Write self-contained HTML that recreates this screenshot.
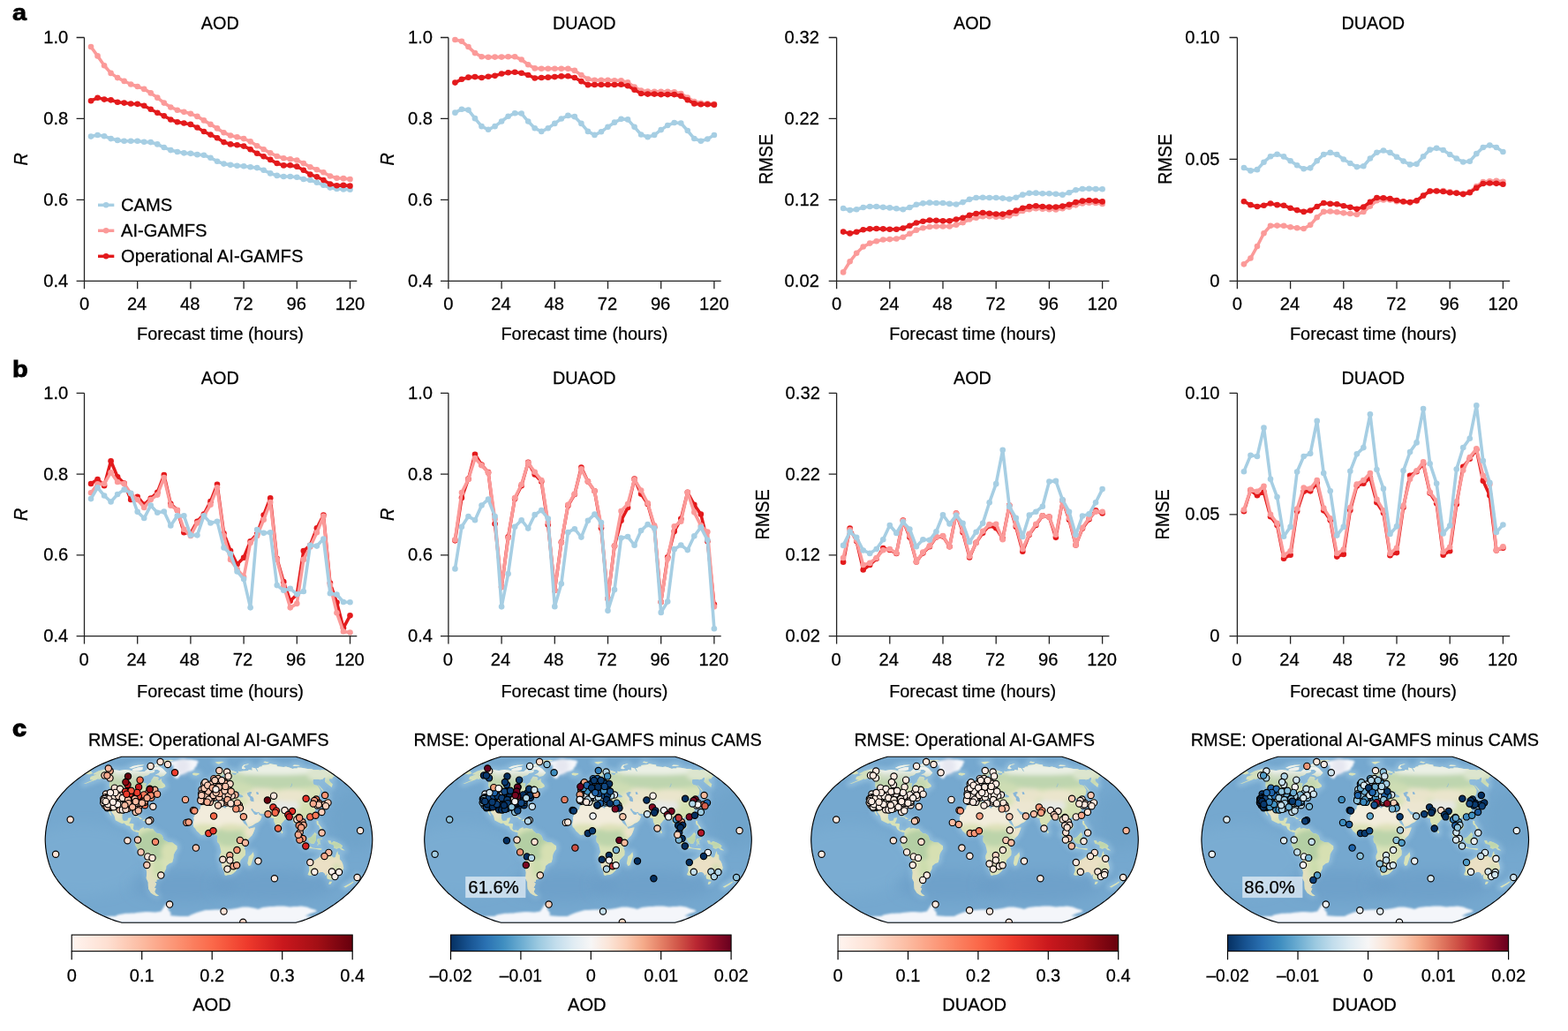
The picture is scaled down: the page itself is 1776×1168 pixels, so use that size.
<!DOCTYPE html>
<html lang="en"><head><meta charset="utf-8"><title>Forecast skill of AI-GAMFS versus CAMS</title>
<style>html,body{margin:0;padding:0;background:#fff}body{width:1776px;height:1168px;overflow:hidden}svg{display:block}text{font-family:'Liberation Sans', Arial, Helvetica, sans-serif;font-size:20.3px;fill:#000;stroke:#000;stroke-width:0.25px}</style></head><body>
<svg width="1776" height="1168" viewBox="0 0 1776 1168">
<rect width="1776" height="1168" fill="#fff"/>
<defs><clipPath id="globe"><path d="M98.6 -94L102.1 -93L106 -91.8L110.4 -90.2L115.1 -88.3L120 -86.2L124.7 -84L129.1 -81.7L133.2 -79.3L137 -76.8L140.8 -74.3L144.4 -71.7L148 -69.1L151.4 -66.4L154.7 -63.6L157.9 -60.9L160.8 -58.1L163.5 -55.2L166.1 -52.4L168.5 -49.5L170.8 -46.6L172.8 -43.7L174.7 -40.8L176.4 -37.9L177.9 -35L179.2 -32.1L180.3 -29.1L181.2 -26.2L182 -23.3L182.8 -20.4L183.4 -17.5L184 -14.6L184.4 -11.7L184.8 -8.7L185 -5.8L185.2 -2.9L185.3 0L185.2 2.9L185 5.8L184.8 8.7L184.4 11.7L184 14.6L183.4 17.5L182.8 20.4L182 23.3L181.2 26.2L180.3 29.1L179.2 32.1L177.9 35L176.4 37.9L174.7 40.8L172.8 43.7L170.8 46.6L168.5 49.5L166.1 52.4L163.5 55.2L160.8 58.1L157.9 60.9L154.7 63.6L151.4 66.4L148 69.1L144.4 71.7L140.8 74.3L137 76.8L133.2 79.3L129.1 81.7L124.7 84L120 86.2L115.1 88.3L110.4 90.2L106 91.8L102.1 93L98.6 94L-98.6 94L-102.1 93L-106 91.8L-110.4 90.2L-115.1 88.3L-120 86.2L-124.7 84L-129.1 81.7L-133.2 79.3L-137 76.8L-140.8 74.3L-144.4 71.7L-148 69.1L-151.4 66.4L-154.7 63.6L-157.9 60.9L-160.8 58.1L-163.5 55.2L-166.1 52.4L-168.5 49.5L-170.8 46.6L-172.8 43.7L-174.7 40.8L-176.4 37.9L-177.9 35L-179.2 32.1L-180.3 29.1L-181.2 26.2L-182 23.3L-182.8 20.4L-183.4 17.5L-184 14.6L-184.4 11.7L-184.8 8.7L-185 5.8L-185.2 2.9L-185.3 0L-185.2 -2.9L-185 -5.8L-184.8 -8.7L-184.4 -11.7L-184 -14.6L-183.4 -17.5L-182.8 -20.4L-182 -23.3L-181.2 -26.2L-180.3 -29.1L-179.2 -32.1L-177.9 -35L-176.4 -37.9L-174.7 -40.8L-172.8 -43.7L-170.8 -46.6L-168.5 -49.5L-166.1 -52.4L-163.5 -55.2L-160.8 -58.1L-157.9 -60.9L-154.7 -63.6L-151.4 -66.4L-148 -69.1L-144.4 -71.7L-140.8 -74.3L-137 -76.8L-133.2 -79.3L-129.1 -81.7L-124.7 -84L-120 -86.2L-115.1 -88.3L-110.4 -90.2L-106 -91.8L-102.1 -93L-98.6 -94Z"/></clipPath><clipPath id="landclip"><path d="M-130.7 -74.8L-125 -77.8L-118.7 -79.6L-114 -80.5L-110.3 -79.8L-107.6 -79.3L-104.8 -78.9L-101 -78.3L-94.7 -79.3L-90 -78.8L-86.6 -77.8L-81.8 -77.3L-76.6 -77.1L-72.7 -77.3L-68.3 -80.7L-67.7 -78.3L-66.2 -77.8L-63.3 -78.8L-61 -78.8L-62 -76.3L-66.5 -75.3L-68.8 -73.3L-72.3 -72.2L-75.4 -70.6L-78.6 -67.7L-78.2 -65.8L-74.8 -65.1L-72.9 -64L-70.5 -63.6L-71.9 -60.9L-70.3 -59.7L-68.2 -63.1L-65.3 -65.3L-65 -67.4L-62.2 -71.6L-58.9 -71.2L-56.6 -70.1L-57.8 -67.8L-56 -67.2L-53.4 -69.1L-53.6 -66.9L-52.4 -64.7L-49.8 -62.5L-49 -60.3L-52.6 -58.3L-58.9 -58.3L-63.6 -55.2L-59.4 -56.9L-58.1 -56.7L-59.2 -54.7L-55.9 -53.5L-58.7 -51.9L-61.4 -50.6L-61.8 -52.4L-65.1 -50.9L-66.4 -48.9L-70 -47.3L-72.3 -44.3L-73.8 -40.8L-76 -39.5L-79.7 -36.7L-79.7 -31.5L-80.5 -29.4L-81.7 -30.3L-82.3 -32.6L-83 -35L-86.9 -35.3L-89.2 -34L-92.8 -34.6L-96.4 -32.6L-98.1 -28L-98.1 -24.5L-97 -21.9L-95.3 -21.3L-92.2 -21.9L-91.3 -24.5L-87.7 -25.1L-89 -21L-90.3 -18.6L-85.5 -18.4L-84.9 -17.4L-85.7 -12.8L-84.3 -10.5L-81.5 -11.1L-79.3 -10.1L-79.6 -8.2L-82.1 -8.5L-83.6 -9.3L-85.2 -9.7L-87.8 -11.7L-89.4 -15.2L-93.4 -16.3L-95.9 -18.9L-98.3 -18.3L-101.6 -19.8L-105.8 -22.1L-106.4 -25.1L-107 -27.4L-109.4 -30.3L-111.4 -34.4L-112.7 -37L-113.2 -35L-112.2 -32.1L-110.4 -28L-110.1 -26.8L-112.2 -29.1L-113.8 -32.6L-114.5 -35.6L-114.8 -38.1L-117.2 -40.2L-117.4 -43.1L-117.5 -47L-116 -50.1L-113.4 -54.1L-112.6 -56.2L-110.7 -56.9L-111.3 -58.6L-112.7 -60.3L-112.6 -63.1L-112.4 -65.8L-113.8 -67.4L-115.3 -68.8L-118.4 -69.1L-121.1 -69.6L-125.4 -68.3L-124.4 -69.9L-128.1 -67.7L-133.5 -65.8L-139.3 -63.6L-141.8 -63.3L-134.6 -66.4L-131.1 -67.7L-134.4 -68L-134.6 -69.6L-133.9 -71.2L-131.1 -72.4L-126.6 -73.8L-130.5 -74.1ZM-56.5 -82.8L-54.3 -82L-51.9 -80.3L-50.1 -78.3L-47.7 -75.8L-51.1 -72.2L-55.1 -71.5L-57 -73.1L-60.7 -73.6L-56.9 -75.3L-55.1 -77.5L-57.7 -79.3L-62.9 -79.3L-64.7 -80.7L-60.7 -82.8ZM-85.5 -80.3L-78.4 -82.2L-74.8 -82.2L-75.1 -79.3L-78.9 -78L-82 -77.9L-85.1 -77.8L-87.1 -79.1ZM-61 -85.3L-58.3 -85.3L-55.7 -85.2L-53 -85.2L-49.1 -87.5L-44.2 -88.7L-39.6 -89.8L-42.6 -90.5L-45.8 -90.3L-49 -90.2L-52.3 -90L-57.9 -89.1L-57.1 -87.1ZM-90.2 -81.2L-86.1 -83.4L-80.5 -84.5L-75.1 -84.9L-72.9 -84.5L-78.4 -83.4L-82.7 -82.2L-87.2 -80.7ZM-66.5 -84L-64.2 -83.5L-60.7 -83.5L-57.2 -83.5L-55 -84.5L-57.3 -84.9L-59.6 -85.3L-62.3 -85.3L-65 -85.3ZM-79.3 -10.1L-77.3 -12.5L-73.6 -14.2L-73.2 -12.6L-69.6 -13.4L-65.6 -12.2L-63.5 -12.5L-61.6 -9.9L-58.6 -7L-55.5 -6.8L-53 -5L-51.5 -1.7L-51.5 0L-49.4 1.2L-45.8 2.9L-41.2 3.3L-38 5.6L-36 7L-35.9 10.5L-38.4 14L-39.8 16.9L-40.1 21L-41.3 25.6L-44.7 27L-48 29.7L-48.4 33L-51 37.9L-52.1 39.6L-54.9 40.6L-55.5 42.5L-55 44.5L-59.1 45.4L-59 47.8L-61.3 47.8L-59.3 49.8L-60.4 52.4L-61.7 54.1L-59.8 55.2L-61.4 58.6L-60.1 60.9L-56.4 63.4L-59.2 64L-62.4 62.5L-65.6 60.3L-68.4 55.8L-68.7 51.2L-68.7 48.3L-70.8 43.7L-70.2 37.3L-70.9 33.8L-70.4 29.1L-71.1 22.1L-73.2 19.8L-77.6 16.3L-79.3 13.4L-81.6 8.7L-83.6 5.6L-82.3 2.9L-83.2 1.2L-82.3 -1.2L-80.8 -2.9L-79.5 -4.7L-79.6 -8.2ZM-17.8 -17.1L-16.7 -22.7L-17.1 -25.1L-14.5 -30.3L-11.9 -32.6L-9.6 -35L-9.3 -37.9L-6.3 -40L-5.6 -41.7L-1.9 -41L1 -42.5L4.8 -42.9L9.6 -43.5L10.6 -42.9L9.9 -40L10.7 -38.8L14.7 -37.6L18.8 -35.3L19.7 -36.7L21.5 -38.2L24.6 -37L28.6 -36.1L31.5 -36.5L33.7 -36.5L34.4 -34.4L34.1 -32.6L32.7 -33.6L32.1 -34.7L33.9 -31.5L35.6 -28L37.3 -24.5L37.8 -21.9L39.7 -18.6L41.8 -16.7L44.2 -14.6L45.6 -12.2L48.1 -13.1L52.4 -14L52.2 -12.2L50.3 -7.6L48.9 -4.7L45.8 -1.7L42.7 2.1L41.1 4.1L40.1 7L40.5 10.5L41.5 12.8L41.3 17.5L38.6 20.2L35.9 23.1L35.1 28L32.8 30.1L32.3 33.2L30 36.1L27.4 38.5L24.8 39.6L21.4 40L19.4 40.6L17.8 39.6L17.7 37.3L16.4 33.5L15 30.9L14.6 26.2L12.2 21L12.2 18.1L14 14L13.3 10.5L12.5 7L11.8 4.7L9.8 2.6L9.3 -0.6L10 -4.1L9 -5.2L6.2 -5L4.6 -7.3L1 -6.8L-2.1 -5.6L-4.6 -6.1L-7.7 -5.1L-9.3 -5.8L-11.8 -8.2L-13.6 -9.9L-15.4 -12.8L-17.2 -14.6ZM50.4 14L51.2 18.1L50.2 21L47.6 28.9L45.2 29.7L43.8 26.8L44.5 23.3L45.3 18.9L47.9 16.9ZM-8.7 -43.1L-9.1 -45.1L-8.3 -48.3L-8.6 -50.3L-4.7 -50.6L-1.7 -50.5L-1.1 -53.5L-2.5 -55.2L-4.2 -56.1L-1.4 -56.6L-1.5 -57.7L0.2 -57.5L1.4 -59L3.1 -59.6L4.1 -61.4L6.1 -62L7.5 -62.5L7 -65.3L8.8 -66.6L8.8 -64.2L10.4 -62.9L12.3 -62.5L15.9 -63.3L18 -64L17.9 -65.8L20.4 -66.4L19.4 -68.3L23.1 -68.7L24.7 -69.1L21.3 -69.5L18.5 -69.1L17.3 -70.1L17.2 -72.2L19.6 -74.3L18.6 -75.1L17.1 -74.8L16.7 -73.6L14 -71.7L14 -70.1L15.5 -69.1L13.9 -66.4L13.6 -64.9L12.2 -64.2L11 -64.2L9.3 -67.4L8.7 -68.5L6.7 -66.9L4.8 -67.7L4.1 -70.1L5.6 -71.9L8.3 -73.3L10.7 -76.3L12 -77.8L14.1 -79.1L16.9 -79.8L20.5 -80.3L22.9 -79.3L25.4 -78.6L31.2 -76.8L31.2 -75.6L26.9 -75.8L25.3 -76.1L27.1 -73.8L29.6 -73.3L31.4 -74L31.3 -75.3L33.9 -75.6L33.2 -77.6L35.2 -77.3L39.9 -77.8L41.4 -77.8L44.9 -78.3L45.1 -79.3L49.3 -78.5L49 -80.3L49.1 -81.7L52.9 -80.9L54.6 -77.8L56.3 -76.8L54.1 -81.2L56.2 -81.4L57.3 -82.6L60.8 -83.1L60 -84.3L62.5 -84.6L64.9 -84.9L67.7 -85.3L69.4 -86.4L72.3 -85.5L77.1 -84.9L77.3 -83.1L79.8 -82.8L84.8 -82.2L87.5 -82.8L91.1 -81.7L95 -80.3L96.6 -80.7L100.2 -80.7L100.4 -81.7L105 -81.5L109 -80.7L111.8 -80.3L116.5 -80.1L118.8 -79L124 -79L128 -78.3L126.5 -79.3L132.8 -78.6L134.7 -78.3L140.8 -74.3L139.9 -73.8L142.4 -71.7L140.2 -70.6L139.8 -69.1L136.5 -69.1L136.5 -66.9L138.1 -64.7L140.3 -63.1L139.8 -61.4L139.3 -59.2L135.2 -62.5L131.4 -65.8L131.9 -68L132.1 -70.6L130.3 -70.1L128.9 -68.5L126.1 -68L123.1 -68.5L118.3 -68.3L117.8 -66.4L118.2 -63.6L119.4 -62.3L123.2 -61.4L124.6 -59.2L126.4 -56.4L126.3 -53.9L125.8 -51.2L124.3 -49.8L122.2 -49.5L122.2 -47.8L121.3 -46L124.4 -43.1L125.1 -41L123 -40.2L121.6 -42.9L119.7 -44.3L118.8 -46.3L116.3 -45.4L114.9 -47.4L112.5 -45.4L113.6 -44.1L116.2 -43.7L117.9 -43.1L116.1 -41.7L115.9 -40.6L118.6 -37.9L120.4 -35.6L120.6 -33.2L119.6 -29.7L117.6 -27.4L114.8 -26L111.5 -24.8L109.4 -25.3L107.2 -23.3L107.2 -21.9L108.7 -19.8L111.1 -17.5L111.8 -14L109.6 -12.2L107.7 -10.1L107.4 -11.9L104.8 -14L103.2 -15.2L102.1 -15.5L101.7 -12.2L102.9 -9.3L104.8 -7L106.4 -4.7L107.3 -1.6L106.3 -1.7L104.2 -3.3L103.1 -6.4L100.9 -9.7L101 -12.8L99.5 -18.1L98.6 -19.8L97.2 -18.6L96 -18.6L95.8 -21.6L92.9 -24.5L92.1 -26.5L89.7 -25.6L87.7 -25.1L87.5 -23.3L86 -22.7L83.6 -19.8L81.8 -18.1L81.9 -15.2L81.8 -12L80 -9.9L79.3 -9.3L77.8 -12.2L76 -16.3L74.1 -20.4L73.5 -24.5L71.7 -24.2L69.5 -26L68.8 -27.4L67.1 -28.9L64.6 -29.4L61.6 -29.4L58 -29.7L56.8 -31.5L54.4 -31.1L51.2 -32.6L49.4 -35.2L47.9 -35L47.5 -34.2L50.1 -30.9L51.6 -28.6L52.7 -28.2L54.7 -28.3L56.2 -30.5L56.7 -28.6L60.1 -26.2L58.4 -22.1L55.9 -19.8L52.9 -18.6L49.7 -16.3L46 -14.9L44.3 -14.8L43.5 -17.5L41.6 -21.6L39.3 -24.8L37.4 -28.6L34.8 -32.6L34.4 -34.4L33.7 -36.5L34.2 -38.5L34.9 -41.4L34.7 -42.8L31.9 -42.2L29.4 -42.5L27 -42.8L25.3 -44.9L24.9 -46.6L27.4 -47.8L30 -48.9L32.9 -48.9L35.9 -47.8L39.1 -48.3L38.3 -50.1L34.1 -52.4L35.1 -54.7L32 -53.9L31 -51.9L29.3 -54.1L27.5 -53.5L26.4 -51.2L26.3 -48.9L27.3 -48L24.8 -47.5L22.3 -47L23 -44.3L22.2 -42.5L20.7 -43.1L20 -45.4L18.5 -47.2L18.3 -48.9L14.9 -50.6L12.7 -52.9L11.3 -52.7L11.6 -51.2L13.1 -49.5L15 -48.7L17.5 -46.8L16.1 -47.2L15.7 -46L15.8 -44.6L15 -44.3L15.2 -46.3L13.7 -47.4L11.6 -48.6L9.8 -50.1L8.1 -51.7L7 -51L4.5 -50.5L3 -49.8L3 -48.7L0.8 -47.5L-0.3 -46L-0.5 -44.6L-2.1 -42.9L-4.3 -42.8L-5.3 -42L-6.3 -43.1ZM-134.7 -78.3L-133.2 -77.3L-131.5 -75.3L-135.6 -73.8L-137.6 -74.3L-140.8 -74.3ZM-4.9 -58.1L-2.7 -58.8L1.2 -59.4L1.5 -61.1L0 -62L-1.3 -63.6L-1.7 -64.7L-1.7 -66.6L-3.4 -66.6L-2.5 -67.7L-4.2 -67.6L-5.1 -65.8L-4.3 -63.6L-2.6 -63.4L-2.6 -61.7L-3.9 -61.4L-4 -60.3L-4.6 -60L-2.7 -59.5ZM-8.8 -60L-5.5 -60.5L-5.2 -62.5L-5.1 -63.8L-6.9 -64L-8.7 -62.5ZM-18.7 -74.8L-17 -75.7L-13.9 -75.5L-11.2 -75.3L-10.6 -74.3L-14.3 -72.6L-17.8 -73.2ZM7.1 -87.9L10.2 -88.3L14 -88.5L17.3 -88.3L13.9 -86.7L11.5 -85.5L9.3 -86.2ZM37.6 -80.3L40.3 -80L41.8 -80.7L39.3 -82.6L41.3 -84.5L43.6 -85L45.8 -85.6L43.7 -85.8L39.6 -84.9L38 -83.1L37.5 -81.2ZM61.8 -87.5L63.4 -88.7L68.3 -87.5L66.1 -86.7ZM94.9 -84L96.9 -84.9L100.2 -84.6L103.5 -84.3L101.2 -83.5L96.6 -83.4ZM127.9 -36.5L128.4 -39L129.6 -39.6L132.3 -39L133.1 -40.4L135.9 -40.8L135.7 -43.1L134.9 -46L133.1 -48.1L132.1 -47.8L133.3 -45.4L133.1 -43.5L131.4 -43.1L131.6 -41.6L128.8 -41.4L127.5 -40L126.9 -38.5ZM131.8 -48.3L132 -49.5L134.7 -48.9L135.6 -50.4L134.1 -51.2L130.6 -52.9L131.9 -50.4L130.9 -49.7ZM130.2 -53.5L129.1 -56.9L125.9 -60.3L123.5 -62.5L125 -60.3L127.7 -56.9ZM120.9 -26.8L121.1 -29.4L122.2 -29.1L121.9 -25.6ZM110 -22.5L111.7 -23.3L112.3 -22.7L111.1 -21.2ZM82 -11.3L84 -8.7L83.2 -7L82.2 -7.2L81.9 -9.3ZM122.1 -21.6L123.9 -21.3L124.2 -18.6L126.7 -15.2L128.5 -12.8L128.1 -11.7L126 -11.7L124.5 -16.1L122.9 -16.9L122.1 -18.6ZM125.3 -8.2L126.7 -10.1L128.6 -11.3L129.9 -8.7L129 -7L127.4 -7.6ZM97.9 -6.5L100.2 -6.1L103.4 -2.6L106.5 1.2L109.1 3.5L108.7 6.8L107.4 6.8L104.9 4.7L103.2 1.2L101.4 -2ZM108 7.9L109.4 7L111.4 7.8L114 7.6L116 8.2L117.5 9.1L121.1 9.7L126.2 9.7L128.2 10.5L127.1 11.7L122 10.8L117.3 10L113.9 9.7L110.9 9.1ZM112.2 -1.7L114.2 -2L116.3 -3.5L118.2 -5.8L120.2 -8.2L122.3 -6.1L121.2 -4.1L121.5 -1.2L120.9 1.2L119.3 4.1L117.8 4.7L114.7 3.8L113.2 1.7L112.2 0ZM122.8 6.4L123.8 3.5L122.5 1.2L123.5 -1.2L126.6 -1.2L128.6 -1.7L127.6 -0.3L124.6 -0.6L125.1 1.2L126.9 1.2L125.5 2.3L126.5 5.2L125.4 5.2L124.5 3.5L123.8 6.4ZM134.8 0.9L137.9 0.9L138.9 3.8L141.5 1.7L145.1 3L149.1 5L151.6 7L150.3 9.3L154.2 12.2L150.6 11.7L147.8 9.1L144.6 10.5L141.6 9.3L141.8 6.4L138.8 5L136.8 4.7L135.8 3.3ZM114.9 25.6L113.4 30.3L113.7 35L112 39.6L114.5 40.8L120.3 39.6L123.6 37.6L126.8 36.8L129.3 36.7L131.5 38.5L132 40.8L134.5 38.5L133.6 41.4L134.1 44.3L137 45.2L139.7 45.4L144.2 43.5L147.1 39.6L150.7 36.1L152.8 32.1L151.7 27.4L150.4 24.5L148.4 22.1L148.3 17.5L146.4 16.3L145.9 12.8L144.6 15.2L143.3 19.8L141.6 20.4L138.5 18.1L139.6 14L135.6 13.4L132.9 14.6L132 17.5L129.6 16.3L126.1 19.2L123.8 21L120.3 23.3L117.1 24.2ZM136.7 47.5L139.8 47.5L138.2 50.1L135.8 50.8L136.1 48.9ZM167.9 40.2L168.4 42.3L169 43.7L171 43.9L168.3 46L165.2 48.3L165.8 46.6L165.5 45.8L167.4 44.3L168.2 42ZM163.4 47.2L164 48.3L160.8 50.6L157.8 52.4L154.9 54.2L152.7 53.5L155.6 51.6L160.3 49.3ZM-85.6 -25.6L-82.4 -27L-79.5 -26.2L-75.7 -24.1L-75 -23.5L-78.4 -23.2L-78.7 -25.1L-82.6 -26ZM-75.4 -21.6L-73.3 -23.1L-70.3 -22.7L-69.3 -21.6L-72 -21Z"/></clipPath><filter id="b1" x="-10%" y="-10%" width="120%" height="120%"><feGaussianBlur stdDeviation="0.55"/></filter><filter id="b2" x="-10%" y="-10%" width="120%" height="120%"><feGaussianBlur stdDeviation="1.1"/></filter><filter id="b3" x="-20%" y="-20%" width="140%" height="140%"><feGaussianBlur stdDeviation="2.6"/></filter><filter id="b6" x="-30%" y="-30%" width="160%" height="160%"><feGaussianBlur stdDeviation="7"/></filter><radialGradient id="sea" cx="50%" cy="50%" r="60%"><stop offset="0" stop-color="#78abd1"/><stop offset="1" stop-color="#6fa3cb"/></radialGradient><g id="basemap"><path d="M98.6 -94L102.1 -93L106 -91.8L110.4 -90.2L115.1 -88.3L120 -86.2L124.7 -84L129.1 -81.7L133.2 -79.3L137 -76.8L140.8 -74.3L144.4 -71.7L148 -69.1L151.4 -66.4L154.7 -63.6L157.9 -60.9L160.8 -58.1L163.5 -55.2L166.1 -52.4L168.5 -49.5L170.8 -46.6L172.8 -43.7L174.7 -40.8L176.4 -37.9L177.9 -35L179.2 -32.1L180.3 -29.1L181.2 -26.2L182 -23.3L182.8 -20.4L183.4 -17.5L184 -14.6L184.4 -11.7L184.8 -8.7L185 -5.8L185.2 -2.9L185.3 0L185.2 2.9L185 5.8L184.8 8.7L184.4 11.7L184 14.6L183.4 17.5L182.8 20.4L182 23.3L181.2 26.2L180.3 29.1L179.2 32.1L177.9 35L176.4 37.9L174.7 40.8L172.8 43.7L170.8 46.6L168.5 49.5L166.1 52.4L163.5 55.2L160.8 58.1L157.9 60.9L154.7 63.6L151.4 66.4L148 69.1L144.4 71.7L140.8 74.3L137 76.8L133.2 79.3L129.1 81.7L124.7 84L120 86.2L115.1 88.3L110.4 90.2L106 91.8L102.1 93L98.6 94L-98.6 94L-102.1 93L-106 91.8L-110.4 90.2L-115.1 88.3L-120 86.2L-124.7 84L-129.1 81.7L-133.2 79.3L-137 76.8L-140.8 74.3L-144.4 71.7L-148 69.1L-151.4 66.4L-154.7 63.6L-157.9 60.9L-160.8 58.1L-163.5 55.2L-166.1 52.4L-168.5 49.5L-170.8 46.6L-172.8 43.7L-174.7 40.8L-176.4 37.9L-177.9 35L-179.2 32.1L-180.3 29.1L-181.2 26.2L-182 23.3L-182.8 20.4L-183.4 17.5L-184 14.6L-184.4 11.7L-184.8 8.7L-185 5.8L-185.2 2.9L-185.3 0L-185.2 -2.9L-185 -5.8L-184.8 -8.7L-184.4 -11.7L-184 -14.6L-183.4 -17.5L-182.8 -20.4L-182 -23.3L-181.2 -26.2L-180.3 -29.1L-179.2 -32.1L-177.9 -35L-176.4 -37.9L-174.7 -40.8L-172.8 -43.7L-170.8 -46.6L-168.5 -49.5L-166.1 -52.4L-163.5 -55.2L-160.8 -58.1L-157.9 -60.9L-154.7 -63.6L-151.4 -66.4L-148 -69.1L-144.4 -71.7L-140.8 -74.3L-137 -76.8L-133.2 -79.3L-129.1 -81.7L-124.7 -84L-120 -86.2L-115.1 -88.3L-110.4 -90.2L-106 -91.8L-102.1 -93L-98.6 -94Z" fill="#75a8cf"/><g clip-path="url(#globe)"><path d="M-130.7 -74.8L-125 -77.8L-118.7 -79.6L-114 -80.5L-110.3 -79.8L-107.6 -79.3L-104.8 -78.9L-101 -78.3L-94.7 -79.3L-90 -78.8L-86.6 -77.8L-81.8 -77.3L-76.6 -77.1L-72.7 -77.3L-68.3 -80.7L-67.7 -78.3L-66.2 -77.8L-63.3 -78.8L-61 -78.8L-62 -76.3L-66.5 -75.3L-68.8 -73.3L-72.3 -72.2L-75.4 -70.6L-78.6 -67.7L-78.2 -65.8L-74.8 -65.1L-72.9 -64L-70.5 -63.6L-71.9 -60.9L-70.3 -59.7L-68.2 -63.1L-65.3 -65.3L-65 -67.4L-62.2 -71.6L-58.9 -71.2L-56.6 -70.1L-57.8 -67.8L-56 -67.2L-53.4 -69.1L-53.6 -66.9L-52.4 -64.7L-49.8 -62.5L-49 -60.3L-52.6 -58.3L-58.9 -58.3L-63.6 -55.2L-59.4 -56.9L-58.1 -56.7L-59.2 -54.7L-55.9 -53.5L-58.7 -51.9L-61.4 -50.6L-61.8 -52.4L-65.1 -50.9L-66.4 -48.9L-70 -47.3L-72.3 -44.3L-73.8 -40.8L-76 -39.5L-79.7 -36.7L-79.7 -31.5L-80.5 -29.4L-81.7 -30.3L-82.3 -32.6L-83 -35L-86.9 -35.3L-89.2 -34L-92.8 -34.6L-96.4 -32.6L-98.1 -28L-98.1 -24.5L-97 -21.9L-95.3 -21.3L-92.2 -21.9L-91.3 -24.5L-87.7 -25.1L-89 -21L-90.3 -18.6L-85.5 -18.4L-84.9 -17.4L-85.7 -12.8L-84.3 -10.5L-81.5 -11.1L-79.3 -10.1L-79.6 -8.2L-82.1 -8.5L-83.6 -9.3L-85.2 -9.7L-87.8 -11.7L-89.4 -15.2L-93.4 -16.3L-95.9 -18.9L-98.3 -18.3L-101.6 -19.8L-105.8 -22.1L-106.4 -25.1L-107 -27.4L-109.4 -30.3L-111.4 -34.4L-112.7 -37L-113.2 -35L-112.2 -32.1L-110.4 -28L-110.1 -26.8L-112.2 -29.1L-113.8 -32.6L-114.5 -35.6L-114.8 -38.1L-117.2 -40.2L-117.4 -43.1L-117.5 -47L-116 -50.1L-113.4 -54.1L-112.6 -56.2L-110.7 -56.9L-111.3 -58.6L-112.7 -60.3L-112.6 -63.1L-112.4 -65.8L-113.8 -67.4L-115.3 -68.8L-118.4 -69.1L-121.1 -69.6L-125.4 -68.3L-124.4 -69.9L-128.1 -67.7L-133.5 -65.8L-139.3 -63.6L-141.8 -63.3L-134.6 -66.4L-131.1 -67.7L-134.4 -68L-134.6 -69.6L-133.9 -71.2L-131.1 -72.4L-126.6 -73.8L-130.5 -74.1ZM-56.5 -82.8L-54.3 -82L-51.9 -80.3L-50.1 -78.3L-47.7 -75.8L-51.1 -72.2L-55.1 -71.5L-57 -73.1L-60.7 -73.6L-56.9 -75.3L-55.1 -77.5L-57.7 -79.3L-62.9 -79.3L-64.7 -80.7L-60.7 -82.8ZM-85.5 -80.3L-78.4 -82.2L-74.8 -82.2L-75.1 -79.3L-78.9 -78L-82 -77.9L-85.1 -77.8L-87.1 -79.1ZM-61 -85.3L-58.3 -85.3L-55.7 -85.2L-53 -85.2L-49.1 -87.5L-44.2 -88.7L-39.6 -89.8L-42.6 -90.5L-45.8 -90.3L-49 -90.2L-52.3 -90L-57.9 -89.1L-57.1 -87.1ZM-90.2 -81.2L-86.1 -83.4L-80.5 -84.5L-75.1 -84.9L-72.9 -84.5L-78.4 -83.4L-82.7 -82.2L-87.2 -80.7ZM-66.5 -84L-64.2 -83.5L-60.7 -83.5L-57.2 -83.5L-55 -84.5L-57.3 -84.9L-59.6 -85.3L-62.3 -85.3L-65 -85.3ZM-79.3 -10.1L-77.3 -12.5L-73.6 -14.2L-73.2 -12.6L-69.6 -13.4L-65.6 -12.2L-63.5 -12.5L-61.6 -9.9L-58.6 -7L-55.5 -6.8L-53 -5L-51.5 -1.7L-51.5 0L-49.4 1.2L-45.8 2.9L-41.2 3.3L-38 5.6L-36 7L-35.9 10.5L-38.4 14L-39.8 16.9L-40.1 21L-41.3 25.6L-44.7 27L-48 29.7L-48.4 33L-51 37.9L-52.1 39.6L-54.9 40.6L-55.5 42.5L-55 44.5L-59.1 45.4L-59 47.8L-61.3 47.8L-59.3 49.8L-60.4 52.4L-61.7 54.1L-59.8 55.2L-61.4 58.6L-60.1 60.9L-56.4 63.4L-59.2 64L-62.4 62.5L-65.6 60.3L-68.4 55.8L-68.7 51.2L-68.7 48.3L-70.8 43.7L-70.2 37.3L-70.9 33.8L-70.4 29.1L-71.1 22.1L-73.2 19.8L-77.6 16.3L-79.3 13.4L-81.6 8.7L-83.6 5.6L-82.3 2.9L-83.2 1.2L-82.3 -1.2L-80.8 -2.9L-79.5 -4.7L-79.6 -8.2ZM-17.8 -17.1L-16.7 -22.7L-17.1 -25.1L-14.5 -30.3L-11.9 -32.6L-9.6 -35L-9.3 -37.9L-6.3 -40L-5.6 -41.7L-1.9 -41L1 -42.5L4.8 -42.9L9.6 -43.5L10.6 -42.9L9.9 -40L10.7 -38.8L14.7 -37.6L18.8 -35.3L19.7 -36.7L21.5 -38.2L24.6 -37L28.6 -36.1L31.5 -36.5L33.7 -36.5L34.4 -34.4L34.1 -32.6L32.7 -33.6L32.1 -34.7L33.9 -31.5L35.6 -28L37.3 -24.5L37.8 -21.9L39.7 -18.6L41.8 -16.7L44.2 -14.6L45.6 -12.2L48.1 -13.1L52.4 -14L52.2 -12.2L50.3 -7.6L48.9 -4.7L45.8 -1.7L42.7 2.1L41.1 4.1L40.1 7L40.5 10.5L41.5 12.8L41.3 17.5L38.6 20.2L35.9 23.1L35.1 28L32.8 30.1L32.3 33.2L30 36.1L27.4 38.5L24.8 39.6L21.4 40L19.4 40.6L17.8 39.6L17.7 37.3L16.4 33.5L15 30.9L14.6 26.2L12.2 21L12.2 18.1L14 14L13.3 10.5L12.5 7L11.8 4.7L9.8 2.6L9.3 -0.6L10 -4.1L9 -5.2L6.2 -5L4.6 -7.3L1 -6.8L-2.1 -5.6L-4.6 -6.1L-7.7 -5.1L-9.3 -5.8L-11.8 -8.2L-13.6 -9.9L-15.4 -12.8L-17.2 -14.6ZM50.4 14L51.2 18.1L50.2 21L47.6 28.9L45.2 29.7L43.8 26.8L44.5 23.3L45.3 18.9L47.9 16.9ZM-8.7 -43.1L-9.1 -45.1L-8.3 -48.3L-8.6 -50.3L-4.7 -50.6L-1.7 -50.5L-1.1 -53.5L-2.5 -55.2L-4.2 -56.1L-1.4 -56.6L-1.5 -57.7L0.2 -57.5L1.4 -59L3.1 -59.6L4.1 -61.4L6.1 -62L7.5 -62.5L7 -65.3L8.8 -66.6L8.8 -64.2L10.4 -62.9L12.3 -62.5L15.9 -63.3L18 -64L17.9 -65.8L20.4 -66.4L19.4 -68.3L23.1 -68.7L24.7 -69.1L21.3 -69.5L18.5 -69.1L17.3 -70.1L17.2 -72.2L19.6 -74.3L18.6 -75.1L17.1 -74.8L16.7 -73.6L14 -71.7L14 -70.1L15.5 -69.1L13.9 -66.4L13.6 -64.9L12.2 -64.2L11 -64.2L9.3 -67.4L8.7 -68.5L6.7 -66.9L4.8 -67.7L4.1 -70.1L5.6 -71.9L8.3 -73.3L10.7 -76.3L12 -77.8L14.1 -79.1L16.9 -79.8L20.5 -80.3L22.9 -79.3L25.4 -78.6L31.2 -76.8L31.2 -75.6L26.9 -75.8L25.3 -76.1L27.1 -73.8L29.6 -73.3L31.4 -74L31.3 -75.3L33.9 -75.6L33.2 -77.6L35.2 -77.3L39.9 -77.8L41.4 -77.8L44.9 -78.3L45.1 -79.3L49.3 -78.5L49 -80.3L49.1 -81.7L52.9 -80.9L54.6 -77.8L56.3 -76.8L54.1 -81.2L56.2 -81.4L57.3 -82.6L60.8 -83.1L60 -84.3L62.5 -84.6L64.9 -84.9L67.7 -85.3L69.4 -86.4L72.3 -85.5L77.1 -84.9L77.3 -83.1L79.8 -82.8L84.8 -82.2L87.5 -82.8L91.1 -81.7L95 -80.3L96.6 -80.7L100.2 -80.7L100.4 -81.7L105 -81.5L109 -80.7L111.8 -80.3L116.5 -80.1L118.8 -79L124 -79L128 -78.3L126.5 -79.3L132.8 -78.6L134.7 -78.3L140.8 -74.3L139.9 -73.8L142.4 -71.7L140.2 -70.6L139.8 -69.1L136.5 -69.1L136.5 -66.9L138.1 -64.7L140.3 -63.1L139.8 -61.4L139.3 -59.2L135.2 -62.5L131.4 -65.8L131.9 -68L132.1 -70.6L130.3 -70.1L128.9 -68.5L126.1 -68L123.1 -68.5L118.3 -68.3L117.8 -66.4L118.2 -63.6L119.4 -62.3L123.2 -61.4L124.6 -59.2L126.4 -56.4L126.3 -53.9L125.8 -51.2L124.3 -49.8L122.2 -49.5L122.2 -47.8L121.3 -46L124.4 -43.1L125.1 -41L123 -40.2L121.6 -42.9L119.7 -44.3L118.8 -46.3L116.3 -45.4L114.9 -47.4L112.5 -45.4L113.6 -44.1L116.2 -43.7L117.9 -43.1L116.1 -41.7L115.9 -40.6L118.6 -37.9L120.4 -35.6L120.6 -33.2L119.6 -29.7L117.6 -27.4L114.8 -26L111.5 -24.8L109.4 -25.3L107.2 -23.3L107.2 -21.9L108.7 -19.8L111.1 -17.5L111.8 -14L109.6 -12.2L107.7 -10.1L107.4 -11.9L104.8 -14L103.2 -15.2L102.1 -15.5L101.7 -12.2L102.9 -9.3L104.8 -7L106.4 -4.7L107.3 -1.6L106.3 -1.7L104.2 -3.3L103.1 -6.4L100.9 -9.7L101 -12.8L99.5 -18.1L98.6 -19.8L97.2 -18.6L96 -18.6L95.8 -21.6L92.9 -24.5L92.1 -26.5L89.7 -25.6L87.7 -25.1L87.5 -23.3L86 -22.7L83.6 -19.8L81.8 -18.1L81.9 -15.2L81.8 -12L80 -9.9L79.3 -9.3L77.8 -12.2L76 -16.3L74.1 -20.4L73.5 -24.5L71.7 -24.2L69.5 -26L68.8 -27.4L67.1 -28.9L64.6 -29.4L61.6 -29.4L58 -29.7L56.8 -31.5L54.4 -31.1L51.2 -32.6L49.4 -35.2L47.9 -35L47.5 -34.2L50.1 -30.9L51.6 -28.6L52.7 -28.2L54.7 -28.3L56.2 -30.5L56.7 -28.6L60.1 -26.2L58.4 -22.1L55.9 -19.8L52.9 -18.6L49.7 -16.3L46 -14.9L44.3 -14.8L43.5 -17.5L41.6 -21.6L39.3 -24.8L37.4 -28.6L34.8 -32.6L34.4 -34.4L33.7 -36.5L34.2 -38.5L34.9 -41.4L34.7 -42.8L31.9 -42.2L29.4 -42.5L27 -42.8L25.3 -44.9L24.9 -46.6L27.4 -47.8L30 -48.9L32.9 -48.9L35.9 -47.8L39.1 -48.3L38.3 -50.1L34.1 -52.4L35.1 -54.7L32 -53.9L31 -51.9L29.3 -54.1L27.5 -53.5L26.4 -51.2L26.3 -48.9L27.3 -48L24.8 -47.5L22.3 -47L23 -44.3L22.2 -42.5L20.7 -43.1L20 -45.4L18.5 -47.2L18.3 -48.9L14.9 -50.6L12.7 -52.9L11.3 -52.7L11.6 -51.2L13.1 -49.5L15 -48.7L17.5 -46.8L16.1 -47.2L15.7 -46L15.8 -44.6L15 -44.3L15.2 -46.3L13.7 -47.4L11.6 -48.6L9.8 -50.1L8.1 -51.7L7 -51L4.5 -50.5L3 -49.8L3 -48.7L0.8 -47.5L-0.3 -46L-0.5 -44.6L-2.1 -42.9L-4.3 -42.8L-5.3 -42L-6.3 -43.1ZM-134.7 -78.3L-133.2 -77.3L-131.5 -75.3L-135.6 -73.8L-137.6 -74.3L-140.8 -74.3ZM-4.9 -58.1L-2.7 -58.8L1.2 -59.4L1.5 -61.1L0 -62L-1.3 -63.6L-1.7 -64.7L-1.7 -66.6L-3.4 -66.6L-2.5 -67.7L-4.2 -67.6L-5.1 -65.8L-4.3 -63.6L-2.6 -63.4L-2.6 -61.7L-3.9 -61.4L-4 -60.3L-4.6 -60L-2.7 -59.5ZM-8.8 -60L-5.5 -60.5L-5.2 -62.5L-5.1 -63.8L-6.9 -64L-8.7 -62.5ZM-18.7 -74.8L-17 -75.7L-13.9 -75.5L-11.2 -75.3L-10.6 -74.3L-14.3 -72.6L-17.8 -73.2ZM7.1 -87.9L10.2 -88.3L14 -88.5L17.3 -88.3L13.9 -86.7L11.5 -85.5L9.3 -86.2ZM37.6 -80.3L40.3 -80L41.8 -80.7L39.3 -82.6L41.3 -84.5L43.6 -85L45.8 -85.6L43.7 -85.8L39.6 -84.9L38 -83.1L37.5 -81.2ZM61.8 -87.5L63.4 -88.7L68.3 -87.5L66.1 -86.7ZM94.9 -84L96.9 -84.9L100.2 -84.6L103.5 -84.3L101.2 -83.5L96.6 -83.4ZM127.9 -36.5L128.4 -39L129.6 -39.6L132.3 -39L133.1 -40.4L135.9 -40.8L135.7 -43.1L134.9 -46L133.1 -48.1L132.1 -47.8L133.3 -45.4L133.1 -43.5L131.4 -43.1L131.6 -41.6L128.8 -41.4L127.5 -40L126.9 -38.5ZM131.8 -48.3L132 -49.5L134.7 -48.9L135.6 -50.4L134.1 -51.2L130.6 -52.9L131.9 -50.4L130.9 -49.7ZM130.2 -53.5L129.1 -56.9L125.9 -60.3L123.5 -62.5L125 -60.3L127.7 -56.9ZM120.9 -26.8L121.1 -29.4L122.2 -29.1L121.9 -25.6ZM110 -22.5L111.7 -23.3L112.3 -22.7L111.1 -21.2ZM82 -11.3L84 -8.7L83.2 -7L82.2 -7.2L81.9 -9.3ZM122.1 -21.6L123.9 -21.3L124.2 -18.6L126.7 -15.2L128.5 -12.8L128.1 -11.7L126 -11.7L124.5 -16.1L122.9 -16.9L122.1 -18.6ZM125.3 -8.2L126.7 -10.1L128.6 -11.3L129.9 -8.7L129 -7L127.4 -7.6ZM97.9 -6.5L100.2 -6.1L103.4 -2.6L106.5 1.2L109.1 3.5L108.7 6.8L107.4 6.8L104.9 4.7L103.2 1.2L101.4 -2ZM108 7.9L109.4 7L111.4 7.8L114 7.6L116 8.2L117.5 9.1L121.1 9.7L126.2 9.7L128.2 10.5L127.1 11.7L122 10.8L117.3 10L113.9 9.7L110.9 9.1ZM112.2 -1.7L114.2 -2L116.3 -3.5L118.2 -5.8L120.2 -8.2L122.3 -6.1L121.2 -4.1L121.5 -1.2L120.9 1.2L119.3 4.1L117.8 4.7L114.7 3.8L113.2 1.7L112.2 0ZM122.8 6.4L123.8 3.5L122.5 1.2L123.5 -1.2L126.6 -1.2L128.6 -1.7L127.6 -0.3L124.6 -0.6L125.1 1.2L126.9 1.2L125.5 2.3L126.5 5.2L125.4 5.2L124.5 3.5L123.8 6.4ZM134.8 0.9L137.9 0.9L138.9 3.8L141.5 1.7L145.1 3L149.1 5L151.6 7L150.3 9.3L154.2 12.2L150.6 11.7L147.8 9.1L144.6 10.5L141.6 9.3L141.8 6.4L138.8 5L136.8 4.7L135.8 3.3ZM114.9 25.6L113.4 30.3L113.7 35L112 39.6L114.5 40.8L120.3 39.6L123.6 37.6L126.8 36.8L129.3 36.7L131.5 38.5L132 40.8L134.5 38.5L133.6 41.4L134.1 44.3L137 45.2L139.7 45.4L144.2 43.5L147.1 39.6L150.7 36.1L152.8 32.1L151.7 27.4L150.4 24.5L148.4 22.1L148.3 17.5L146.4 16.3L145.9 12.8L144.6 15.2L143.3 19.8L141.6 20.4L138.5 18.1L139.6 14L135.6 13.4L132.9 14.6L132 17.5L129.6 16.3L126.1 19.2L123.8 21L120.3 23.3L117.1 24.2ZM136.7 47.5L139.8 47.5L138.2 50.1L135.8 50.8L136.1 48.9ZM167.9 40.2L168.4 42.3L169 43.7L171 43.9L168.3 46L165.2 48.3L165.8 46.6L165.5 45.8L167.4 44.3L168.2 42ZM163.4 47.2L164 48.3L160.8 50.6L157.8 52.4L154.9 54.2L152.7 53.5L155.6 51.6L160.3 49.3ZM-85.6 -25.6L-82.4 -27L-79.5 -26.2L-75.7 -24.1L-75 -23.5L-78.4 -23.2L-78.7 -25.1L-82.6 -26ZM-75.4 -21.6L-73.3 -23.1L-70.3 -22.7L-69.3 -21.6L-72 -21Z" fill="#98c3e0" stroke="#98c3e0" stroke-width="7" stroke-linejoin="round" filter="url(#b3)" opacity="0.7"/><ellipse cx="-141.6" cy="23.3" rx="70" ry="40" fill="#7fb2d6" fill-opacity="0.5" filter="url(#b6)"/><ellipse cx="-27.7" cy="52.4" rx="60" ry="18" fill="#6a9dc6" fill-opacity="0.6" filter="url(#b6)"/><ellipse cx="73.8" cy="52.4" rx="70" ry="18" fill="#6a9dc6" fill-opacity="0.6" filter="url(#b6)"/><ellipse cx="166.8" cy="-23.3" rx="30" ry="35" fill="#6c9fc8" fill-opacity="0.5" filter="url(#b6)"/><g filter="url(#b1)"><path d="M-130.7 -74.8L-125 -77.8L-118.7 -79.6L-114 -80.5L-110.3 -79.8L-107.6 -79.3L-104.8 -78.9L-101 -78.3L-94.7 -79.3L-90 -78.8L-86.6 -77.8L-81.8 -77.3L-76.6 -77.1L-72.7 -77.3L-68.3 -80.7L-67.7 -78.3L-66.2 -77.8L-63.3 -78.8L-61 -78.8L-62 -76.3L-66.5 -75.3L-68.8 -73.3L-72.3 -72.2L-75.4 -70.6L-78.6 -67.7L-78.2 -65.8L-74.8 -65.1L-72.9 -64L-70.5 -63.6L-71.9 -60.9L-70.3 -59.7L-68.2 -63.1L-65.3 -65.3L-65 -67.4L-62.2 -71.6L-58.9 -71.2L-56.6 -70.1L-57.8 -67.8L-56 -67.2L-53.4 -69.1L-53.6 -66.9L-52.4 -64.7L-49.8 -62.5L-49 -60.3L-52.6 -58.3L-58.9 -58.3L-63.6 -55.2L-59.4 -56.9L-58.1 -56.7L-59.2 -54.7L-55.9 -53.5L-58.7 -51.9L-61.4 -50.6L-61.8 -52.4L-65.1 -50.9L-66.4 -48.9L-70 -47.3L-72.3 -44.3L-73.8 -40.8L-76 -39.5L-79.7 -36.7L-79.7 -31.5L-80.5 -29.4L-81.7 -30.3L-82.3 -32.6L-83 -35L-86.9 -35.3L-89.2 -34L-92.8 -34.6L-96.4 -32.6L-98.1 -28L-98.1 -24.5L-97 -21.9L-95.3 -21.3L-92.2 -21.9L-91.3 -24.5L-87.7 -25.1L-89 -21L-90.3 -18.6L-85.5 -18.4L-84.9 -17.4L-85.7 -12.8L-84.3 -10.5L-81.5 -11.1L-79.3 -10.1L-79.6 -8.2L-82.1 -8.5L-83.6 -9.3L-85.2 -9.7L-87.8 -11.7L-89.4 -15.2L-93.4 -16.3L-95.9 -18.9L-98.3 -18.3L-101.6 -19.8L-105.8 -22.1L-106.4 -25.1L-107 -27.4L-109.4 -30.3L-111.4 -34.4L-112.7 -37L-113.2 -35L-112.2 -32.1L-110.4 -28L-110.1 -26.8L-112.2 -29.1L-113.8 -32.6L-114.5 -35.6L-114.8 -38.1L-117.2 -40.2L-117.4 -43.1L-117.5 -47L-116 -50.1L-113.4 -54.1L-112.6 -56.2L-110.7 -56.9L-111.3 -58.6L-112.7 -60.3L-112.6 -63.1L-112.4 -65.8L-113.8 -67.4L-115.3 -68.8L-118.4 -69.1L-121.1 -69.6L-125.4 -68.3L-124.4 -69.9L-128.1 -67.7L-133.5 -65.8L-139.3 -63.6L-141.8 -63.3L-134.6 -66.4L-131.1 -67.7L-134.4 -68L-134.6 -69.6L-133.9 -71.2L-131.1 -72.4L-126.6 -73.8L-130.5 -74.1ZM-56.5 -82.8L-54.3 -82L-51.9 -80.3L-50.1 -78.3L-47.7 -75.8L-51.1 -72.2L-55.1 -71.5L-57 -73.1L-60.7 -73.6L-56.9 -75.3L-55.1 -77.5L-57.7 -79.3L-62.9 -79.3L-64.7 -80.7L-60.7 -82.8ZM-85.5 -80.3L-78.4 -82.2L-74.8 -82.2L-75.1 -79.3L-78.9 -78L-82 -77.9L-85.1 -77.8L-87.1 -79.1ZM-61 -85.3L-58.3 -85.3L-55.7 -85.2L-53 -85.2L-49.1 -87.5L-44.2 -88.7L-39.6 -89.8L-42.6 -90.5L-45.8 -90.3L-49 -90.2L-52.3 -90L-57.9 -89.1L-57.1 -87.1ZM-90.2 -81.2L-86.1 -83.4L-80.5 -84.5L-75.1 -84.9L-72.9 -84.5L-78.4 -83.4L-82.7 -82.2L-87.2 -80.7ZM-66.5 -84L-64.2 -83.5L-60.7 -83.5L-57.2 -83.5L-55 -84.5L-57.3 -84.9L-59.6 -85.3L-62.3 -85.3L-65 -85.3ZM-79.3 -10.1L-77.3 -12.5L-73.6 -14.2L-73.2 -12.6L-69.6 -13.4L-65.6 -12.2L-63.5 -12.5L-61.6 -9.9L-58.6 -7L-55.5 -6.8L-53 -5L-51.5 -1.7L-51.5 0L-49.4 1.2L-45.8 2.9L-41.2 3.3L-38 5.6L-36 7L-35.9 10.5L-38.4 14L-39.8 16.9L-40.1 21L-41.3 25.6L-44.7 27L-48 29.7L-48.4 33L-51 37.9L-52.1 39.6L-54.9 40.6L-55.5 42.5L-55 44.5L-59.1 45.4L-59 47.8L-61.3 47.8L-59.3 49.8L-60.4 52.4L-61.7 54.1L-59.8 55.2L-61.4 58.6L-60.1 60.9L-56.4 63.4L-59.2 64L-62.4 62.5L-65.6 60.3L-68.4 55.8L-68.7 51.2L-68.7 48.3L-70.8 43.7L-70.2 37.3L-70.9 33.8L-70.4 29.1L-71.1 22.1L-73.2 19.8L-77.6 16.3L-79.3 13.4L-81.6 8.7L-83.6 5.6L-82.3 2.9L-83.2 1.2L-82.3 -1.2L-80.8 -2.9L-79.5 -4.7L-79.6 -8.2ZM-17.8 -17.1L-16.7 -22.7L-17.1 -25.1L-14.5 -30.3L-11.9 -32.6L-9.6 -35L-9.3 -37.9L-6.3 -40L-5.6 -41.7L-1.9 -41L1 -42.5L4.8 -42.9L9.6 -43.5L10.6 -42.9L9.9 -40L10.7 -38.8L14.7 -37.6L18.8 -35.3L19.7 -36.7L21.5 -38.2L24.6 -37L28.6 -36.1L31.5 -36.5L33.7 -36.5L34.4 -34.4L34.1 -32.6L32.7 -33.6L32.1 -34.7L33.9 -31.5L35.6 -28L37.3 -24.5L37.8 -21.9L39.7 -18.6L41.8 -16.7L44.2 -14.6L45.6 -12.2L48.1 -13.1L52.4 -14L52.2 -12.2L50.3 -7.6L48.9 -4.7L45.8 -1.7L42.7 2.1L41.1 4.1L40.1 7L40.5 10.5L41.5 12.8L41.3 17.5L38.6 20.2L35.9 23.1L35.1 28L32.8 30.1L32.3 33.2L30 36.1L27.4 38.5L24.8 39.6L21.4 40L19.4 40.6L17.8 39.6L17.7 37.3L16.4 33.5L15 30.9L14.6 26.2L12.2 21L12.2 18.1L14 14L13.3 10.5L12.5 7L11.8 4.7L9.8 2.6L9.3 -0.6L10 -4.1L9 -5.2L6.2 -5L4.6 -7.3L1 -6.8L-2.1 -5.6L-4.6 -6.1L-7.7 -5.1L-9.3 -5.8L-11.8 -8.2L-13.6 -9.9L-15.4 -12.8L-17.2 -14.6ZM50.4 14L51.2 18.1L50.2 21L47.6 28.9L45.2 29.7L43.8 26.8L44.5 23.3L45.3 18.9L47.9 16.9ZM-8.7 -43.1L-9.1 -45.1L-8.3 -48.3L-8.6 -50.3L-4.7 -50.6L-1.7 -50.5L-1.1 -53.5L-2.5 -55.2L-4.2 -56.1L-1.4 -56.6L-1.5 -57.7L0.2 -57.5L1.4 -59L3.1 -59.6L4.1 -61.4L6.1 -62L7.5 -62.5L7 -65.3L8.8 -66.6L8.8 -64.2L10.4 -62.9L12.3 -62.5L15.9 -63.3L18 -64L17.9 -65.8L20.4 -66.4L19.4 -68.3L23.1 -68.7L24.7 -69.1L21.3 -69.5L18.5 -69.1L17.3 -70.1L17.2 -72.2L19.6 -74.3L18.6 -75.1L17.1 -74.8L16.7 -73.6L14 -71.7L14 -70.1L15.5 -69.1L13.9 -66.4L13.6 -64.9L12.2 -64.2L11 -64.2L9.3 -67.4L8.7 -68.5L6.7 -66.9L4.8 -67.7L4.1 -70.1L5.6 -71.9L8.3 -73.3L10.7 -76.3L12 -77.8L14.1 -79.1L16.9 -79.8L20.5 -80.3L22.9 -79.3L25.4 -78.6L31.2 -76.8L31.2 -75.6L26.9 -75.8L25.3 -76.1L27.1 -73.8L29.6 -73.3L31.4 -74L31.3 -75.3L33.9 -75.6L33.2 -77.6L35.2 -77.3L39.9 -77.8L41.4 -77.8L44.9 -78.3L45.1 -79.3L49.3 -78.5L49 -80.3L49.1 -81.7L52.9 -80.9L54.6 -77.8L56.3 -76.8L54.1 -81.2L56.2 -81.4L57.3 -82.6L60.8 -83.1L60 -84.3L62.5 -84.6L64.9 -84.9L67.7 -85.3L69.4 -86.4L72.3 -85.5L77.1 -84.9L77.3 -83.1L79.8 -82.8L84.8 -82.2L87.5 -82.8L91.1 -81.7L95 -80.3L96.6 -80.7L100.2 -80.7L100.4 -81.7L105 -81.5L109 -80.7L111.8 -80.3L116.5 -80.1L118.8 -79L124 -79L128 -78.3L126.5 -79.3L132.8 -78.6L134.7 -78.3L140.8 -74.3L139.9 -73.8L142.4 -71.7L140.2 -70.6L139.8 -69.1L136.5 -69.1L136.5 -66.9L138.1 -64.7L140.3 -63.1L139.8 -61.4L139.3 -59.2L135.2 -62.5L131.4 -65.8L131.9 -68L132.1 -70.6L130.3 -70.1L128.9 -68.5L126.1 -68L123.1 -68.5L118.3 -68.3L117.8 -66.4L118.2 -63.6L119.4 -62.3L123.2 -61.4L124.6 -59.2L126.4 -56.4L126.3 -53.9L125.8 -51.2L124.3 -49.8L122.2 -49.5L122.2 -47.8L121.3 -46L124.4 -43.1L125.1 -41L123 -40.2L121.6 -42.9L119.7 -44.3L118.8 -46.3L116.3 -45.4L114.9 -47.4L112.5 -45.4L113.6 -44.1L116.2 -43.7L117.9 -43.1L116.1 -41.7L115.9 -40.6L118.6 -37.9L120.4 -35.6L120.6 -33.2L119.6 -29.7L117.6 -27.4L114.8 -26L111.5 -24.8L109.4 -25.3L107.2 -23.3L107.2 -21.9L108.7 -19.8L111.1 -17.5L111.8 -14L109.6 -12.2L107.7 -10.1L107.4 -11.9L104.8 -14L103.2 -15.2L102.1 -15.5L101.7 -12.2L102.9 -9.3L104.8 -7L106.4 -4.7L107.3 -1.6L106.3 -1.7L104.2 -3.3L103.1 -6.4L100.9 -9.7L101 -12.8L99.5 -18.1L98.6 -19.8L97.2 -18.6L96 -18.6L95.8 -21.6L92.9 -24.5L92.1 -26.5L89.7 -25.6L87.7 -25.1L87.5 -23.3L86 -22.7L83.6 -19.8L81.8 -18.1L81.9 -15.2L81.8 -12L80 -9.9L79.3 -9.3L77.8 -12.2L76 -16.3L74.1 -20.4L73.5 -24.5L71.7 -24.2L69.5 -26L68.8 -27.4L67.1 -28.9L64.6 -29.4L61.6 -29.4L58 -29.7L56.8 -31.5L54.4 -31.1L51.2 -32.6L49.4 -35.2L47.9 -35L47.5 -34.2L50.1 -30.9L51.6 -28.6L52.7 -28.2L54.7 -28.3L56.2 -30.5L56.7 -28.6L60.1 -26.2L58.4 -22.1L55.9 -19.8L52.9 -18.6L49.7 -16.3L46 -14.9L44.3 -14.8L43.5 -17.5L41.6 -21.6L39.3 -24.8L37.4 -28.6L34.8 -32.6L34.4 -34.4L33.7 -36.5L34.2 -38.5L34.9 -41.4L34.7 -42.8L31.9 -42.2L29.4 -42.5L27 -42.8L25.3 -44.9L24.9 -46.6L27.4 -47.8L30 -48.9L32.9 -48.9L35.9 -47.8L39.1 -48.3L38.3 -50.1L34.1 -52.4L35.1 -54.7L32 -53.9L31 -51.9L29.3 -54.1L27.5 -53.5L26.4 -51.2L26.3 -48.9L27.3 -48L24.8 -47.5L22.3 -47L23 -44.3L22.2 -42.5L20.7 -43.1L20 -45.4L18.5 -47.2L18.3 -48.9L14.9 -50.6L12.7 -52.9L11.3 -52.7L11.6 -51.2L13.1 -49.5L15 -48.7L17.5 -46.8L16.1 -47.2L15.7 -46L15.8 -44.6L15 -44.3L15.2 -46.3L13.7 -47.4L11.6 -48.6L9.8 -50.1L8.1 -51.7L7 -51L4.5 -50.5L3 -49.8L3 -48.7L0.8 -47.5L-0.3 -46L-0.5 -44.6L-2.1 -42.9L-4.3 -42.8L-5.3 -42L-6.3 -43.1ZM-134.7 -78.3L-133.2 -77.3L-131.5 -75.3L-135.6 -73.8L-137.6 -74.3L-140.8 -74.3ZM-4.9 -58.1L-2.7 -58.8L1.2 -59.4L1.5 -61.1L0 -62L-1.3 -63.6L-1.7 -64.7L-1.7 -66.6L-3.4 -66.6L-2.5 -67.7L-4.2 -67.6L-5.1 -65.8L-4.3 -63.6L-2.6 -63.4L-2.6 -61.7L-3.9 -61.4L-4 -60.3L-4.6 -60L-2.7 -59.5ZM-8.8 -60L-5.5 -60.5L-5.2 -62.5L-5.1 -63.8L-6.9 -64L-8.7 -62.5ZM-18.7 -74.8L-17 -75.7L-13.9 -75.5L-11.2 -75.3L-10.6 -74.3L-14.3 -72.6L-17.8 -73.2ZM7.1 -87.9L10.2 -88.3L14 -88.5L17.3 -88.3L13.9 -86.7L11.5 -85.5L9.3 -86.2ZM37.6 -80.3L40.3 -80L41.8 -80.7L39.3 -82.6L41.3 -84.5L43.6 -85L45.8 -85.6L43.7 -85.8L39.6 -84.9L38 -83.1L37.5 -81.2ZM61.8 -87.5L63.4 -88.7L68.3 -87.5L66.1 -86.7ZM94.9 -84L96.9 -84.9L100.2 -84.6L103.5 -84.3L101.2 -83.5L96.6 -83.4ZM127.9 -36.5L128.4 -39L129.6 -39.6L132.3 -39L133.1 -40.4L135.9 -40.8L135.7 -43.1L134.9 -46L133.1 -48.1L132.1 -47.8L133.3 -45.4L133.1 -43.5L131.4 -43.1L131.6 -41.6L128.8 -41.4L127.5 -40L126.9 -38.5ZM131.8 -48.3L132 -49.5L134.7 -48.9L135.6 -50.4L134.1 -51.2L130.6 -52.9L131.9 -50.4L130.9 -49.7ZM130.2 -53.5L129.1 -56.9L125.9 -60.3L123.5 -62.5L125 -60.3L127.7 -56.9ZM120.9 -26.8L121.1 -29.4L122.2 -29.1L121.9 -25.6ZM110 -22.5L111.7 -23.3L112.3 -22.7L111.1 -21.2ZM82 -11.3L84 -8.7L83.2 -7L82.2 -7.2L81.9 -9.3ZM122.1 -21.6L123.9 -21.3L124.2 -18.6L126.7 -15.2L128.5 -12.8L128.1 -11.7L126 -11.7L124.5 -16.1L122.9 -16.9L122.1 -18.6ZM125.3 -8.2L126.7 -10.1L128.6 -11.3L129.9 -8.7L129 -7L127.4 -7.6ZM97.9 -6.5L100.2 -6.1L103.4 -2.6L106.5 1.2L109.1 3.5L108.7 6.8L107.4 6.8L104.9 4.7L103.2 1.2L101.4 -2ZM108 7.9L109.4 7L111.4 7.8L114 7.6L116 8.2L117.5 9.1L121.1 9.7L126.2 9.7L128.2 10.5L127.1 11.7L122 10.8L117.3 10L113.9 9.7L110.9 9.1ZM112.2 -1.7L114.2 -2L116.3 -3.5L118.2 -5.8L120.2 -8.2L122.3 -6.1L121.2 -4.1L121.5 -1.2L120.9 1.2L119.3 4.1L117.8 4.7L114.7 3.8L113.2 1.7L112.2 0ZM122.8 6.4L123.8 3.5L122.5 1.2L123.5 -1.2L126.6 -1.2L128.6 -1.7L127.6 -0.3L124.6 -0.6L125.1 1.2L126.9 1.2L125.5 2.3L126.5 5.2L125.4 5.2L124.5 3.5L123.8 6.4ZM134.8 0.9L137.9 0.9L138.9 3.8L141.5 1.7L145.1 3L149.1 5L151.6 7L150.3 9.3L154.2 12.2L150.6 11.7L147.8 9.1L144.6 10.5L141.6 9.3L141.8 6.4L138.8 5L136.8 4.7L135.8 3.3ZM114.9 25.6L113.4 30.3L113.7 35L112 39.6L114.5 40.8L120.3 39.6L123.6 37.6L126.8 36.8L129.3 36.7L131.5 38.5L132 40.8L134.5 38.5L133.6 41.4L134.1 44.3L137 45.2L139.7 45.4L144.2 43.5L147.1 39.6L150.7 36.1L152.8 32.1L151.7 27.4L150.4 24.5L148.4 22.1L148.3 17.5L146.4 16.3L145.9 12.8L144.6 15.2L143.3 19.8L141.6 20.4L138.5 18.1L139.6 14L135.6 13.4L132.9 14.6L132 17.5L129.6 16.3L126.1 19.2L123.8 21L120.3 23.3L117.1 24.2ZM136.7 47.5L139.8 47.5L138.2 50.1L135.8 50.8L136.1 48.9ZM167.9 40.2L168.4 42.3L169 43.7L171 43.9L168.3 46L165.2 48.3L165.8 46.6L165.5 45.8L167.4 44.3L168.2 42ZM163.4 47.2L164 48.3L160.8 50.6L157.8 52.4L154.9 54.2L152.7 53.5L155.6 51.6L160.3 49.3ZM-85.6 -25.6L-82.4 -27L-79.5 -26.2L-75.7 -24.1L-75 -23.5L-78.4 -23.2L-78.7 -25.1L-82.6 -26ZM-75.4 -21.6L-73.3 -23.1L-70.3 -22.7L-69.3 -21.6L-72 -21Z" fill="#d8e2b8"/><g clip-path="url(#landclip)"><g filter="url(#b3)"><ellipse cx="-88.7" cy="-65.8" rx="34" ry="7" fill="#bed4ad" fill-opacity="1"/><ellipse cx="-69.4" cy="-80.3" rx="52" ry="8" fill="#f0f3f0" fill-opacity="1"/><ellipse cx="-79.8" cy="-72.2" rx="40" ry="4" fill="#d2ddc9" fill-opacity="1"/><ellipse cx="-118.5" cy="-73.3" rx="14" ry="6" fill="#d1debe" fill-opacity="1"/><ellipse cx="-106.3" cy="-46.6" rx="11" ry="12" fill="#e2e1c2" fill-opacity="1"/><ellipse cx="-103.7" cy="-31.5" rx="7" ry="8" fill="#e8e3c7" fill-opacity="1"/><ellipse cx="-85" cy="-42" rx="11" ry="9" fill="#c4d8ad" fill-opacity="1"/><ellipse cx="-62.9" cy="-61.4" rx="10" ry="6" fill="#c5d9b2" fill-opacity="1"/><ellipse cx="-61.7" cy="5.8" rx="22" ry="17" fill="#b4cfa4" fill-opacity="1"/><ellipse cx="-69.2" cy="35" rx="5" ry="20" fill="#e3e0be" fill-opacity="1"/><ellipse cx="-45" cy="14" rx="9" ry="11" fill="#d7e0b2" fill-opacity="1"/><ellipse cx="-62.4" cy="53.5" rx="6" ry="10" fill="#e0dec2" fill-opacity="1"/><ellipse cx="-57.8" cy="31.5" rx="6" ry="8" fill="#ccddad" fill-opacity="1"/><ellipse cx="8" cy="-26.8" rx="44" ry="14" fill="#f2ecdc" fill-opacity="1"/><ellipse cx="22.6" cy="-3.5" rx="17" ry="11" fill="#bcd4aa" fill-opacity="1"/><ellipse cx="20.1" cy="28" rx="9" ry="9" fill="#e5e1c2" fill-opacity="1"/><ellipse cx="35.9" cy="11.7" rx="7" ry="11" fill="#d6dfb4" fill-opacity="1"/><ellipse cx="47.2" cy="-9.3" rx="6" ry="6" fill="#eee4ce" fill-opacity="1"/><ellipse cx="-5.1" cy="-14" rx="14" ry="4" fill="#dce1b6" fill-opacity="1"/><ellipse cx="25.6" cy="-14" rx="14" ry="4" fill="#dee1b9" fill-opacity="1"/><ellipse cx="47.2" cy="-28" rx="13" ry="12" fill="#f0ead8" fill-opacity="1"/><ellipse cx="56.7" cy="-38.5" rx="15" ry="8" fill="#ece6d1" fill-opacity="1"/><ellipse cx="57.5" cy="-51.2" rx="19" ry="8" fill="#e9e4cb" fill-opacity="1"/><ellipse cx="86.1" cy="-38.5" rx="17" ry="7" fill="#e6e8e4" fill-opacity="1"/><ellipse cx="93.3" cy="-50.1" rx="20" ry="7" fill="#eae5cc" fill-opacity="1"/><ellipse cx="79.6" cy="-66.9" rx="62" ry="9" fill="#bed5af" fill-opacity="1"/><ellipse cx="73.1" cy="-80.3" rx="72" ry="7" fill="#eaefe4" fill-opacity="1"/><ellipse cx="125.1" cy="-74.3" rx="14" ry="8" fill="#dce5ce" fill-opacity="1"/><ellipse cx="111.3" cy="-32.6" rx="9" ry="8" fill="#d4e0b1" fill-opacity="1"/><ellipse cx="78.9" cy="-23.3" rx="8" ry="10" fill="#d8e1b4" fill-opacity="1"/><ellipse cx="22.3" cy="-58.1" rx="28" ry="8" fill="#ceddb4" fill-opacity="1"/><ellipse cx="-3.8" cy="-46.6" rx="6" ry="5" fill="#e1e3be" fill-opacity="1"/><ellipse cx="24.2" cy="-71.2" rx="18" ry="6" fill="#c4d8b2" fill-opacity="1"/><ellipse cx="134.2" cy="29.1" rx="19" ry="11" fill="#ebe0c5" fill-opacity="1"/><ellipse cx="144.8" cy="36.1" rx="5" ry="10" fill="#d4deb4" fill-opacity="1"/><ellipse cx="134.7" cy="16.3" rx="9" ry="4" fill="#d7e0b4" fill-opacity="1"/><ellipse cx="118.4" cy="0" rx="13" ry="7" fill="#bbd4aa" fill-opacity="1"/><ellipse cx="143.9" cy="5.8" rx="10" ry="4" fill="#bbd4aa" fill-opacity="1"/><ellipse cx="105" cy="-17.5" rx="8" ry="8" fill="#cbdcad" fill-opacity="1"/></g></g></g><path d="M43.2 -52.9L46.5 -54.4L48.5 -54.1L48.4 -52.4L47.2 -51.8L47.3 -49.5L49.5 -48.9L50.8 -46.6L51 -43.1L48.1 -43.5L46.8 -44.9L46.8 -47.2L44.3 -50.1ZM-83.8 -54.7L-79.4 -56.4L-77.2 -55.2L-77 -53.5L-73.6 -52.9L-73.5 -50.6L-71.6 -50.9L-74.2 -50.1L-77.7 -48.3L-77.7 -50.6L-80.7 -48.9L-82.1 -48.9L-80 -52.9L-82.2 -54.3ZM53.5 -54.1L55.8 -54.1L56.6 -51.2L54.3 -51.2ZM91.9 -59.7L93.5 -61.4L94 -64.4L94.5 -62.5L93.5 -60.1ZM32.9 -0.3L35 -0.2L35 2.7L32.9 2.9Z" fill="#8ab7d8" filter="url(#b1)"/><g filter="url(#b2)"><path d="M-119 86.7L-116.4 86.7L-113.7 86.7L-111.1 86.7L-108.4 86.7L-105.8 86.7L-104.2 85.8L-102.4 84.9L-99.7 84.5L-97 84L-94.2 83.5L-91 83.4L-87.7 83.2L-84.4 83.1L-81.9 82.8L-79.4 82.5L-76.9 82.2L-74.3 82L-71.7 81.7L-68 81.8L-64.3 82L-60.6 82.2L-57.4 81.7L-54.1 81.2L-51.5 77.3L-49 73.3L-45.4 72.5L-46.4 75.3L-45.9 79.3L-42.9 83.1L-43.7 85.8L-40.1 86.1L-36.6 86.4L-33.1 86.7L-29.8 86.7L-26.4 86.7L-23.1 86.7L-20.3 85.3L-17.3 84L-14.1 82.8L-10.8 81.7L-7.3 80.7L-3.7 79.8L0 79.6L3.7 79.5L7.4 79.3L11.1 79.3L14.8 79.3L18.5 79.3L21.8 79L25.1 78.6L28.4 78.3L31.7 77.7L35 77L38.3 76.3L41.3 76.3L44.4 76.3L47.2 76.8L50 77.3L52.7 77.8L55.8 78.8L60.9 76.8L65.1 76.3L69.3 75.8L73.3 75.6L77.4 75.3L81.3 75.3L85.1 75.3L88.6 75.7L92.1 76.1L96.2 75.8L100.3 75.6L104.5 75.3L107.8 75.8L111 76.3L113.6 77.3L116 78.3L118.7 79L121.3 79.8L122.7 81.2L114.3 84L109.1 86.7L112.4 86.7L115.7 86.7L119 86.7L111.3 89.8L104.4 92.3L98.6 94L96.4 94L94.2 94L92 94L89.9 94L87.7 94L85.5 94L83.3 94L81.1 94L78.9 94L76.7 94L74.5 94L72.3 94L70.1 94L67.9 94L65.7 94L63.6 94L61.4 94L59.2 94L57 94L54.8 94L52.6 94L50.4 94L48.2 94L46 94L43.8 94L41.6 94L39.4 94L37.3 94L35.1 94L32.9 94L30.7 94L28.5 94L26.3 94L24.1 94L21.9 94L19.7 94L17.5 94L15.3 94L13.1 94L11 94L8.8 94L6.6 94L4.4 94L2.2 94L0 94L-2.2 94L-4.4 94L-6.6 94L-8.8 94L-11 94L-13.1 94L-15.3 94L-17.5 94L-19.7 94L-21.9 94L-24.1 94L-26.3 94L-28.5 94L-30.7 94L-32.9 94L-35.1 94L-37.3 94L-39.4 94L-41.6 94L-43.8 94L-46 94L-48.2 94L-50.4 94L-52.6 94L-54.8 94L-57 94L-59.2 94L-61.4 94L-63.6 94L-65.7 94L-67.9 94L-70.1 94L-72.3 94L-74.5 94L-76.7 94L-78.9 94L-81.1 94L-83.3 94L-85.5 94L-87.7 94L-89.9 94L-92 94L-94.2 94L-96.4 94L-98.6 94L-104.4 92.3L-111.3 89.8ZM-48.1 -86.8L-43.5 -88.3L-38.7 -89.4L-36 -89.6L-33.4 -89.8L-30.8 -90L-28 -90.2L-25.3 -90.4L-22.6 -90.6L-19.9 -90.8L-16.8 -90.3L-13.6 -89.8L-11.5 -88.3L-13.4 -85.8L-13.6 -83.5L-16.2 -81.2L-16.2 -79.6L-19.6 -77.8L-24.2 -77.3L-28.7 -75.1L-31.8 -73.8L-35.4 -69.1L-37.5 -69.9L-40.1 -71.7L-40.7 -74.3L-40.7 -76.8L-39.9 -79.3L-39.8 -81.7L-40.2 -84.5L-45.1 -84.9L-47.5 -86.1Z" fill="#f4f6fa"/></g><ellipse cx="-29.5" cy="-83.1" rx="8" ry="9" fill="#e4e6f0" fill-opacity="0.9" filter="url(#b3)"/></g></g><linearGradient id="Reds"><stop offset="0.0000" stop-color="#fff5f0"/><stop offset="0.0625" stop-color="#feeae1"/><stop offset="0.1250" stop-color="#fee0d2"/><stop offset="0.1875" stop-color="#fdcdb9"/><stop offset="0.2500" stop-color="#fcbba1"/><stop offset="0.3125" stop-color="#fca689"/><stop offset="0.3750" stop-color="#fc9272"/><stop offset="0.4375" stop-color="#fb7d5d"/><stop offset="0.5000" stop-color="#fb694a"/><stop offset="0.5625" stop-color="#f5523a"/><stop offset="0.6250" stop-color="#ee3a2c"/><stop offset="0.6875" stop-color="#dc2924"/><stop offset="0.7500" stop-color="#ca181d"/><stop offset="0.8125" stop-color="#b71319"/><stop offset="0.8750" stop-color="#a30f15"/><stop offset="0.9375" stop-color="#840711"/><stop offset="1.0000" stop-color="#67000d"/></linearGradient><linearGradient id="RdBu_r"><stop offset="0.0000" stop-color="#053061"/><stop offset="0.0625" stop-color="#175290"/><stop offset="0.1250" stop-color="#2a71b2"/><stop offset="0.1875" stop-color="#3f8ec0"/><stop offset="0.2500" stop-color="#6bacd1"/><stop offset="0.3125" stop-color="#9bc9e0"/><stop offset="0.3750" stop-color="#c2ddec"/><stop offset="0.4375" stop-color="#e0ecf3"/><stop offset="0.5000" stop-color="#f7f6f6"/><stop offset="0.5625" stop-color="#fbe5d8"/><stop offset="0.6250" stop-color="#fbccb4"/><stop offset="0.6875" stop-color="#f5aa89"/><stop offset="0.7500" stop-color="#e48066"/><stop offset="0.8125" stop-color="#d05548"/><stop offset="0.8750" stop-color="#ba2832"/><stop offset="0.9375" stop-color="#930e26"/><stop offset="1.0000" stop-color="#67001f"/></linearGradient></defs>
<g id="a1">
<g fill="#a6cee3" stroke="none"><polyline points="103.02,154.59 110.55,152.97 118.07,154.23 125.6,157.12 133.12,158.92 140.65,159.82 148.17,159.82 155.7,159.82 163.22,160.72 170.75,161.08 178.27,163.42 185.8,167.03 193.32,170.09 200.85,172.07 208.37,173.33 215.9,173.87 223.42,175.14 230.95,175.68 238.47,178.74 246,182.7 253.52,185.59 261.05,186.85 268.57,187.75 276.1,188.29 283.62,189.19 291.15,190.09 298.67,192.79 306.2,196.4 313.72,198.92 321.25,200 328.77,200 336.3,200.72 343.82,203.06 351.35,203.96 358.87,206.67 366.4,209.73 373.92,212.61 381.45,214.05 388.97,214.41 396.5,214.77" fill="none" stroke="#a6cee3" stroke-width="3.6" stroke-linejoin="round" stroke-linecap="round"/>
<circle cx="103.02" cy="154.59" r="3.3"/><circle cx="110.55" cy="152.97" r="3.3"/><circle cx="118.07" cy="154.23" r="3.3"/><circle cx="125.6" cy="157.12" r="3.3"/><circle cx="133.12" cy="158.92" r="3.3"/><circle cx="140.65" cy="159.82" r="3.3"/><circle cx="148.17" cy="159.82" r="3.3"/><circle cx="155.7" cy="159.82" r="3.3"/><circle cx="163.22" cy="160.72" r="3.3"/><circle cx="170.75" cy="161.08" r="3.3"/><circle cx="178.27" cy="163.42" r="3.3"/><circle cx="185.8" cy="167.03" r="3.3"/><circle cx="193.32" cy="170.09" r="3.3"/><circle cx="200.85" cy="172.07" r="3.3"/><circle cx="208.37" cy="173.33" r="3.3"/><circle cx="215.9" cy="173.87" r="3.3"/><circle cx="223.42" cy="175.14" r="3.3"/><circle cx="230.95" cy="175.68" r="3.3"/><circle cx="238.47" cy="178.74" r="3.3"/><circle cx="246" cy="182.7" r="3.3"/><circle cx="253.52" cy="185.59" r="3.3"/><circle cx="261.05" cy="186.85" r="3.3"/><circle cx="268.57" cy="187.75" r="3.3"/><circle cx="276.1" cy="188.29" r="3.3"/><circle cx="283.62" cy="189.19" r="3.3"/><circle cx="291.15" cy="190.09" r="3.3"/><circle cx="298.67" cy="192.79" r="3.3"/><circle cx="306.2" cy="196.4" r="3.3"/><circle cx="313.72" cy="198.92" r="3.3"/><circle cx="321.25" cy="200" r="3.3"/><circle cx="328.77" cy="200" r="3.3"/><circle cx="336.3" cy="200.72" r="3.3"/><circle cx="343.82" cy="203.06" r="3.3"/><circle cx="351.35" cy="203.96" r="3.3"/><circle cx="358.87" cy="206.67" r="3.3"/><circle cx="366.4" cy="209.73" r="3.3"/><circle cx="373.92" cy="212.61" r="3.3"/><circle cx="381.45" cy="214.05" r="3.3"/><circle cx="388.97" cy="214.41" r="3.3"/><circle cx="396.5" cy="214.77" r="3.3"/>
</g>
<g fill="#fb9a99" stroke="none"><polyline points="103.02,52.97 110.55,63.42 118.07,74.23 125.6,82.88 133.12,88.11 140.65,91.89 148.17,95.5 155.7,98.02 163.22,100.9 170.75,105.41 178.27,110.63 185.8,116.58 193.32,121.44 200.85,124.68 208.37,126.85 215.9,128.83 223.42,131.89 230.95,136.4 238.47,140.9 246,145.41 253.52,150.27 261.05,153.51 268.57,155.32 276.1,157.12 283.62,160.36 291.15,165.23 298.67,169.19 306.2,173.33 313.72,176.94 321.25,179.28 328.77,180.18 336.3,181.44 343.82,185.05 351.35,189.19 358.87,192.25 366.4,195.32 373.92,199.46 381.45,201.8 388.97,202.16 396.5,203.06" fill="none" stroke="#fb9a99" stroke-width="3.6" stroke-linejoin="round" stroke-linecap="round"/>
<circle cx="103.02" cy="52.97" r="3.3"/><circle cx="110.55" cy="63.42" r="3.3"/><circle cx="118.07" cy="74.23" r="3.3"/><circle cx="125.6" cy="82.88" r="3.3"/><circle cx="133.12" cy="88.11" r="3.3"/><circle cx="140.65" cy="91.89" r="3.3"/><circle cx="148.17" cy="95.5" r="3.3"/><circle cx="155.7" cy="98.02" r="3.3"/><circle cx="163.22" cy="100.9" r="3.3"/><circle cx="170.75" cy="105.41" r="3.3"/><circle cx="178.27" cy="110.63" r="3.3"/><circle cx="185.8" cy="116.58" r="3.3"/><circle cx="193.32" cy="121.44" r="3.3"/><circle cx="200.85" cy="124.68" r="3.3"/><circle cx="208.37" cy="126.85" r="3.3"/><circle cx="215.9" cy="128.83" r="3.3"/><circle cx="223.42" cy="131.89" r="3.3"/><circle cx="230.95" cy="136.4" r="3.3"/><circle cx="238.47" cy="140.9" r="3.3"/><circle cx="246" cy="145.41" r="3.3"/><circle cx="253.52" cy="150.27" r="3.3"/><circle cx="261.05" cy="153.51" r="3.3"/><circle cx="268.57" cy="155.32" r="3.3"/><circle cx="276.1" cy="157.12" r="3.3"/><circle cx="283.62" cy="160.36" r="3.3"/><circle cx="291.15" cy="165.23" r="3.3"/><circle cx="298.67" cy="169.19" r="3.3"/><circle cx="306.2" cy="173.33" r="3.3"/><circle cx="313.72" cy="176.94" r="3.3"/><circle cx="321.25" cy="179.28" r="3.3"/><circle cx="328.77" cy="180.18" r="3.3"/><circle cx="336.3" cy="181.44" r="3.3"/><circle cx="343.82" cy="185.05" r="3.3"/><circle cx="351.35" cy="189.19" r="3.3"/><circle cx="358.87" cy="192.25" r="3.3"/><circle cx="366.4" cy="195.32" r="3.3"/><circle cx="373.92" cy="199.46" r="3.3"/><circle cx="381.45" cy="201.8" r="3.3"/><circle cx="388.97" cy="202.16" r="3.3"/><circle cx="396.5" cy="203.06" r="3.3"/>
</g>
<g fill="#e31a1c" stroke="none"><polyline points="103.02,114.23 110.55,110.81 118.07,112.61 125.6,113.33 133.12,115.68 140.65,116.58 148.17,117.48 155.7,117.84 163.22,119.82 170.75,123.78 178.27,127.75 185.8,131.35 193.32,135.5 200.85,138.2 208.37,139.46 215.9,140.9 223.42,144.5 230.95,149.01 238.47,152.61 246,156.22 253.52,161.08 261.05,163.42 268.57,164.32 276.1,165.59 283.62,169.19 291.15,173.69 298.67,177.3 306.2,180.9 313.72,185.05 321.25,187.39 328.77,187.21 336.3,188.65 343.82,192.79 351.35,197.66 358.87,200.36 366.4,203.96 373.92,208.47 381.45,210.27 388.97,209.91 396.5,210.63" fill="none" stroke="#e31a1c" stroke-width="3.6" stroke-linejoin="round" stroke-linecap="round"/>
<circle cx="103.02" cy="114.23" r="3.3"/><circle cx="110.55" cy="110.81" r="3.3"/><circle cx="118.07" cy="112.61" r="3.3"/><circle cx="125.6" cy="113.33" r="3.3"/><circle cx="133.12" cy="115.68" r="3.3"/><circle cx="140.65" cy="116.58" r="3.3"/><circle cx="148.17" cy="117.48" r="3.3"/><circle cx="155.7" cy="117.84" r="3.3"/><circle cx="163.22" cy="119.82" r="3.3"/><circle cx="170.75" cy="123.78" r="3.3"/><circle cx="178.27" cy="127.75" r="3.3"/><circle cx="185.8" cy="131.35" r="3.3"/><circle cx="193.32" cy="135.5" r="3.3"/><circle cx="200.85" cy="138.2" r="3.3"/><circle cx="208.37" cy="139.46" r="3.3"/><circle cx="215.9" cy="140.9" r="3.3"/><circle cx="223.42" cy="144.5" r="3.3"/><circle cx="230.95" cy="149.01" r="3.3"/><circle cx="238.47" cy="152.61" r="3.3"/><circle cx="246" cy="156.22" r="3.3"/><circle cx="253.52" cy="161.08" r="3.3"/><circle cx="261.05" cy="163.42" r="3.3"/><circle cx="268.57" cy="164.32" r="3.3"/><circle cx="276.1" cy="165.59" r="3.3"/><circle cx="283.62" cy="169.19" r="3.3"/><circle cx="291.15" cy="173.69" r="3.3"/><circle cx="298.67" cy="177.3" r="3.3"/><circle cx="306.2" cy="180.9" r="3.3"/><circle cx="313.72" cy="185.05" r="3.3"/><circle cx="321.25" cy="187.39" r="3.3"/><circle cx="328.77" cy="187.21" r="3.3"/><circle cx="336.3" cy="188.65" r="3.3"/><circle cx="343.82" cy="192.79" r="3.3"/><circle cx="351.35" cy="197.66" r="3.3"/><circle cx="358.87" cy="200.36" r="3.3"/><circle cx="366.4" cy="203.96" r="3.3"/><circle cx="373.92" cy="208.47" r="3.3"/><circle cx="381.45" cy="210.27" r="3.3"/><circle cx="388.97" cy="209.91" r="3.3"/><circle cx="396.5" cy="210.63" r="3.3"/>
</g>
<path d="M95.5 42.5V318.4H404.3M86.6 42.5H95.5M86.6 134.47H95.5M86.6 226.43H95.5M86.6 318.4H95.5M95.5 318.4V327.3M155.7 318.4V327.3M215.9 318.4V327.3M276.1 318.4V327.3M336.3 318.4V327.3M396.5 318.4V327.3" fill="none" stroke="#222" stroke-width="1.3"/>
<text transform="translate(77.3 49) scale(0.995 1)" text-anchor="end">1.0</text>
<text transform="translate(77.3 140.97) scale(0.995 1)" text-anchor="end">0.8</text>
<text transform="translate(77.3 232.93) scale(0.995 1)" text-anchor="end">0.6</text>
<text transform="translate(77.3 324.9) scale(0.995 1)" text-anchor="end">0.4</text>
<text transform="translate(95.5 350.7) scale(0.995 1)" text-anchor="middle">0</text>
<text transform="translate(155.1 350.7) scale(0.995 1)" text-anchor="middle">24</text>
<text transform="translate(215.3 350.7) scale(0.995 1)" text-anchor="middle">48</text>
<text transform="translate(275.5 350.7) scale(0.995 1)" text-anchor="middle">72</text>
<text transform="translate(335.7 350.7) scale(0.995 1)" text-anchor="middle">96</text>
<text transform="translate(396.5 350.7) scale(0.995 1)" text-anchor="middle">120</text>
<text transform="translate(249.5 385.2) scale(0.98 1)" text-anchor="middle">Forecast time (hours)</text>
<text transform="translate(249.3 33.3) scale(0.977 1)" text-anchor="middle">AOD</text>
<text transform="translate(30.5 180.45) rotate(-90) scale(0.915 1)" style="font-size:21.7px" text-anchor="middle" font-style="italic">R</text>
</g>
<g id="a2">
<g fill="#a6cee3" stroke="none"><polyline points="515.42,127.66 522.95,123.69 530.47,124.59 538,134.14 545.52,143.15 553.05,146.76 560.57,143.15 568.1,137.57 575.62,131.8 583.15,128.2 590.67,128.56 598.2,137.57 605.72,145.32 613.25,148.92 620.77,145.32 628.3,139.91 635.82,134.5 643.35,130.9 650.87,132.16 658.4,139.91 665.92,148.92 673.45,152.88 680.97,149.28 688.5,143.87 696.02,138.65 703.55,134.86 711.07,135.41 718.6,143.87 726.12,152.52 733.65,155.23 741.17,152.88 748.7,147.12 756.22,142.07 763.75,139.01 771.27,139.55 778.8,148.02 786.32,157.03 793.85,159.73 801.37,157.57 808.9,153.06" fill="none" stroke="#a6cee3" stroke-width="3.6" stroke-linejoin="round" stroke-linecap="round"/>
<circle cx="515.42" cy="127.66" r="3.3"/><circle cx="522.95" cy="123.69" r="3.3"/><circle cx="530.47" cy="124.59" r="3.3"/><circle cx="538" cy="134.14" r="3.3"/><circle cx="545.52" cy="143.15" r="3.3"/><circle cx="553.05" cy="146.76" r="3.3"/><circle cx="560.57" cy="143.15" r="3.3"/><circle cx="568.1" cy="137.57" r="3.3"/><circle cx="575.62" cy="131.8" r="3.3"/><circle cx="583.15" cy="128.2" r="3.3"/><circle cx="590.67" cy="128.56" r="3.3"/><circle cx="598.2" cy="137.57" r="3.3"/><circle cx="605.72" cy="145.32" r="3.3"/><circle cx="613.25" cy="148.92" r="3.3"/><circle cx="620.77" cy="145.32" r="3.3"/><circle cx="628.3" cy="139.91" r="3.3"/><circle cx="635.82" cy="134.5" r="3.3"/><circle cx="643.35" cy="130.9" r="3.3"/><circle cx="650.87" cy="132.16" r="3.3"/><circle cx="658.4" cy="139.91" r="3.3"/><circle cx="665.92" cy="148.92" r="3.3"/><circle cx="673.45" cy="152.88" r="3.3"/><circle cx="680.97" cy="149.28" r="3.3"/><circle cx="688.5" cy="143.87" r="3.3"/><circle cx="696.02" cy="138.65" r="3.3"/><circle cx="703.55" cy="134.86" r="3.3"/><circle cx="711.07" cy="135.41" r="3.3"/><circle cx="718.6" cy="143.87" r="3.3"/><circle cx="726.12" cy="152.52" r="3.3"/><circle cx="733.65" cy="155.23" r="3.3"/><circle cx="741.17" cy="152.88" r="3.3"/><circle cx="748.7" cy="147.12" r="3.3"/><circle cx="756.22" cy="142.07" r="3.3"/><circle cx="763.75" cy="139.01" r="3.3"/><circle cx="771.27" cy="139.55" r="3.3"/><circle cx="778.8" cy="148.02" r="3.3"/><circle cx="786.32" cy="157.03" r="3.3"/><circle cx="793.85" cy="159.73" r="3.3"/><circle cx="801.37" cy="157.57" r="3.3"/><circle cx="808.9" cy="153.06" r="3.3"/>
</g>
<g fill="#fb9a99" stroke="none"><polyline points="515.42,44.95 522.95,46.76 530.47,53.06 538,60.09 545.52,64.23 553.05,64.77 560.57,64.59 568.1,64.59 575.62,64.23 583.15,64.23 590.67,67.48 598.2,73.24 605.72,77.39 613.25,77.75 620.77,77.75 628.3,77.75 635.82,77.75 643.35,77.75 650.87,79.91 658.4,84.95 665.92,89.46 673.45,90.9 680.97,90.9 688.5,90.9 696.02,91.26 703.55,91.26 711.07,93.42 718.6,98.47 726.12,102.61 733.65,103.51 741.17,103.87 748.7,103.87 756.22,103.87 763.75,104.23 771.27,106.04 778.8,110.54 786.32,115.05 793.85,116.85 801.37,117.39 808.9,117.75" fill="none" stroke="#fb9a99" stroke-width="3.6" stroke-linejoin="round" stroke-linecap="round"/>
<circle cx="515.42" cy="44.95" r="3.3"/><circle cx="522.95" cy="46.76" r="3.3"/><circle cx="530.47" cy="53.06" r="3.3"/><circle cx="538" cy="60.09" r="3.3"/><circle cx="545.52" cy="64.23" r="3.3"/><circle cx="553.05" cy="64.77" r="3.3"/><circle cx="560.57" cy="64.59" r="3.3"/><circle cx="568.1" cy="64.59" r="3.3"/><circle cx="575.62" cy="64.23" r="3.3"/><circle cx="583.15" cy="64.23" r="3.3"/><circle cx="590.67" cy="67.48" r="3.3"/><circle cx="598.2" cy="73.24" r="3.3"/><circle cx="605.72" cy="77.39" r="3.3"/><circle cx="613.25" cy="77.75" r="3.3"/><circle cx="620.77" cy="77.75" r="3.3"/><circle cx="628.3" cy="77.75" r="3.3"/><circle cx="635.82" cy="77.75" r="3.3"/><circle cx="643.35" cy="77.75" r="3.3"/><circle cx="650.87" cy="79.91" r="3.3"/><circle cx="658.4" cy="84.95" r="3.3"/><circle cx="665.92" cy="89.46" r="3.3"/><circle cx="673.45" cy="90.9" r="3.3"/><circle cx="680.97" cy="90.9" r="3.3"/><circle cx="688.5" cy="90.9" r="3.3"/><circle cx="696.02" cy="91.26" r="3.3"/><circle cx="703.55" cy="91.26" r="3.3"/><circle cx="711.07" cy="93.42" r="3.3"/><circle cx="718.6" cy="98.47" r="3.3"/><circle cx="726.12" cy="102.61" r="3.3"/><circle cx="733.65" cy="103.51" r="3.3"/><circle cx="741.17" cy="103.87" r="3.3"/><circle cx="748.7" cy="103.87" r="3.3"/><circle cx="756.22" cy="103.87" r="3.3"/><circle cx="763.75" cy="104.23" r="3.3"/><circle cx="771.27" cy="106.04" r="3.3"/><circle cx="778.8" cy="110.54" r="3.3"/><circle cx="786.32" cy="115.05" r="3.3"/><circle cx="793.85" cy="116.85" r="3.3"/><circle cx="801.37" cy="117.39" r="3.3"/><circle cx="808.9" cy="117.75" r="3.3"/>
</g>
<g fill="#e31a1c" stroke="none"><polyline points="515.42,93.6 522.95,89.82 530.47,87.66 538,87.12 545.52,88.02 553.05,86.76 560.57,85.86 568.1,83.51 575.62,82.25 583.15,81.71 590.67,82.79 598.2,84.95 605.72,88.56 613.25,88.02 620.77,87.66 628.3,87.12 635.82,86.4 643.35,86.22 650.87,88.02 658.4,92.16 665.92,96.13 673.45,95.95 680.97,95.95 688.5,95.95 696.02,95.95 703.55,95.77 711.07,97.21 718.6,101.71 726.12,106.04 733.65,106.58 741.17,106.58 748.7,107.12 756.22,107.12 763.75,107.12 771.27,108.74 778.8,113.24 786.32,117.39 793.85,118.29 801.37,118.29 808.9,118.65" fill="none" stroke="#e31a1c" stroke-width="3.6" stroke-linejoin="round" stroke-linecap="round"/>
<circle cx="515.42" cy="93.6" r="3.3"/><circle cx="522.95" cy="89.82" r="3.3"/><circle cx="530.47" cy="87.66" r="3.3"/><circle cx="538" cy="87.12" r="3.3"/><circle cx="545.52" cy="88.02" r="3.3"/><circle cx="553.05" cy="86.76" r="3.3"/><circle cx="560.57" cy="85.86" r="3.3"/><circle cx="568.1" cy="83.51" r="3.3"/><circle cx="575.62" cy="82.25" r="3.3"/><circle cx="583.15" cy="81.71" r="3.3"/><circle cx="590.67" cy="82.79" r="3.3"/><circle cx="598.2" cy="84.95" r="3.3"/><circle cx="605.72" cy="88.56" r="3.3"/><circle cx="613.25" cy="88.02" r="3.3"/><circle cx="620.77" cy="87.66" r="3.3"/><circle cx="628.3" cy="87.12" r="3.3"/><circle cx="635.82" cy="86.4" r="3.3"/><circle cx="643.35" cy="86.22" r="3.3"/><circle cx="650.87" cy="88.02" r="3.3"/><circle cx="658.4" cy="92.16" r="3.3"/><circle cx="665.92" cy="96.13" r="3.3"/><circle cx="673.45" cy="95.95" r="3.3"/><circle cx="680.97" cy="95.95" r="3.3"/><circle cx="688.5" cy="95.95" r="3.3"/><circle cx="696.02" cy="95.95" r="3.3"/><circle cx="703.55" cy="95.77" r="3.3"/><circle cx="711.07" cy="97.21" r="3.3"/><circle cx="718.6" cy="101.71" r="3.3"/><circle cx="726.12" cy="106.04" r="3.3"/><circle cx="733.65" cy="106.58" r="3.3"/><circle cx="741.17" cy="106.58" r="3.3"/><circle cx="748.7" cy="107.12" r="3.3"/><circle cx="756.22" cy="107.12" r="3.3"/><circle cx="763.75" cy="107.12" r="3.3"/><circle cx="771.27" cy="108.74" r="3.3"/><circle cx="778.8" cy="113.24" r="3.3"/><circle cx="786.32" cy="117.39" r="3.3"/><circle cx="793.85" cy="118.29" r="3.3"/><circle cx="801.37" cy="118.29" r="3.3"/><circle cx="808.9" cy="118.65" r="3.3"/>
</g>
<path d="M507.9 42.5V318.4H816.7M499 42.5H507.9M499 134.47H507.9M499 226.43H507.9M499 318.4H507.9M507.9 318.4V327.3M568.1 318.4V327.3M628.3 318.4V327.3M688.5 318.4V327.3M748.7 318.4V327.3M808.9 318.4V327.3" fill="none" stroke="#222" stroke-width="1.3"/>
<text transform="translate(490.1 49) scale(0.995 1)" text-anchor="end">1.0</text>
<text transform="translate(490.1 140.97) scale(0.995 1)" text-anchor="end">0.8</text>
<text transform="translate(490.1 232.93) scale(0.995 1)" text-anchor="end">0.6</text>
<text transform="translate(490.1 324.9) scale(0.995 1)" text-anchor="end">0.4</text>
<text transform="translate(507.9 350.7) scale(0.995 1)" text-anchor="middle">0</text>
<text transform="translate(567.5 350.7) scale(0.995 1)" text-anchor="middle">24</text>
<text transform="translate(627.7 350.7) scale(0.995 1)" text-anchor="middle">48</text>
<text transform="translate(687.9 350.7) scale(0.995 1)" text-anchor="middle">72</text>
<text transform="translate(748.1 350.7) scale(0.995 1)" text-anchor="middle">96</text>
<text transform="translate(808.9 350.7) scale(0.995 1)" text-anchor="middle">120</text>
<text transform="translate(661.9 385.2) scale(0.98 1)" text-anchor="middle">Forecast time (hours)</text>
<text transform="translate(661.7 33.3) scale(0.977 1)" text-anchor="middle">DUAOD</text>
<text transform="translate(446 180.45) rotate(-90) scale(0.915 1)" style="font-size:21.7px" text-anchor="middle" font-style="italic">R</text>
</g>
<g id="a3">
<g fill="#a6cee3" stroke="none"><polyline points="955.12,235.95 962.65,238.11 970.17,237.21 977.7,235.05 985.22,233.96 992.75,233.96 1000.27,234.86 1007.8,235.41 1015.32,236.31 1022.85,237.21 1030.37,235.05 1037.9,231.8 1045.42,230.36 1052.95,229.64 1060.47,230 1068,230 1075.52,230.9 1083.05,231.44 1090.57,229.1 1098.1,225.86 1105.62,224.05 1113.15,223.69 1120.67,224.05 1128.2,224.05 1135.72,224.59 1143.25,225.5 1150.77,223.69 1158.3,220.63 1165.82,218.83 1173.35,218.65 1180.87,219.19 1188.4,219.19 1195.92,219.73 1203.45,220.63 1210.97,218.29 1218.5,215.23 1226.02,213.96 1233.55,213.78 1241.07,214.14 1248.6,214.32" fill="none" stroke="#a6cee3" stroke-width="3.6" stroke-linejoin="round" stroke-linecap="round"/>
<circle cx="955.12" cy="235.95" r="3.3"/><circle cx="962.65" cy="238.11" r="3.3"/><circle cx="970.17" cy="237.21" r="3.3"/><circle cx="977.7" cy="235.05" r="3.3"/><circle cx="985.22" cy="233.96" r="3.3"/><circle cx="992.75" cy="233.96" r="3.3"/><circle cx="1000.27" cy="234.86" r="3.3"/><circle cx="1007.8" cy="235.41" r="3.3"/><circle cx="1015.32" cy="236.31" r="3.3"/><circle cx="1022.85" cy="237.21" r="3.3"/><circle cx="1030.37" cy="235.05" r="3.3"/><circle cx="1037.9" cy="231.8" r="3.3"/><circle cx="1045.42" cy="230.36" r="3.3"/><circle cx="1052.95" cy="229.64" r="3.3"/><circle cx="1060.47" cy="230" r="3.3"/><circle cx="1068" cy="230" r="3.3"/><circle cx="1075.52" cy="230.9" r="3.3"/><circle cx="1083.05" cy="231.44" r="3.3"/><circle cx="1090.57" cy="229.1" r="3.3"/><circle cx="1098.1" cy="225.86" r="3.3"/><circle cx="1105.62" cy="224.05" r="3.3"/><circle cx="1113.15" cy="223.69" r="3.3"/><circle cx="1120.67" cy="224.05" r="3.3"/><circle cx="1128.2" cy="224.05" r="3.3"/><circle cx="1135.72" cy="224.59" r="3.3"/><circle cx="1143.25" cy="225.5" r="3.3"/><circle cx="1150.77" cy="223.69" r="3.3"/><circle cx="1158.3" cy="220.63" r="3.3"/><circle cx="1165.82" cy="218.83" r="3.3"/><circle cx="1173.35" cy="218.65" r="3.3"/><circle cx="1180.87" cy="219.19" r="3.3"/><circle cx="1188.4" cy="219.19" r="3.3"/><circle cx="1195.92" cy="219.73" r="3.3"/><circle cx="1203.45" cy="220.63" r="3.3"/><circle cx="1210.97" cy="218.29" r="3.3"/><circle cx="1218.5" cy="215.23" r="3.3"/><circle cx="1226.02" cy="213.96" r="3.3"/><circle cx="1233.55" cy="213.78" r="3.3"/><circle cx="1241.07" cy="214.14" r="3.3"/><circle cx="1248.6" cy="214.32" r="3.3"/>
</g>
<g fill="#fb9a99" stroke="none"><polyline points="955.12,308.38 962.65,296.31 970.17,286.76 977.7,279.55 985.22,275.59 992.75,273.24 1000.27,271.44 1007.8,271.08 1015.32,270.54 1022.85,268.74 1030.37,264.77 1037.9,260.63 1045.42,258.29 1052.95,257.03 1060.47,256.49 1068,256.49 1075.52,256.49 1083.05,254.68 1090.57,252.16 1098.1,248.56 1105.62,246.76 1113.15,245.32 1120.67,245.32 1128.2,245.68 1135.72,245.86 1143.25,244.41 1150.77,242.07 1158.3,239.01 1165.82,237.21 1173.35,236.31 1180.87,236.67 1188.4,237.21 1195.92,237.57 1203.45,236.31 1210.97,234.5 1218.5,232.34 1226.02,230.54 1233.55,229.64 1241.07,230 1248.6,230.9" fill="none" stroke="#fb9a99" stroke-width="3.6" stroke-linejoin="round" stroke-linecap="round"/>
<circle cx="955.12" cy="308.38" r="3.3"/><circle cx="962.65" cy="296.31" r="3.3"/><circle cx="970.17" cy="286.76" r="3.3"/><circle cx="977.7" cy="279.55" r="3.3"/><circle cx="985.22" cy="275.59" r="3.3"/><circle cx="992.75" cy="273.24" r="3.3"/><circle cx="1000.27" cy="271.44" r="3.3"/><circle cx="1007.8" cy="271.08" r="3.3"/><circle cx="1015.32" cy="270.54" r="3.3"/><circle cx="1022.85" cy="268.74" r="3.3"/><circle cx="1030.37" cy="264.77" r="3.3"/><circle cx="1037.9" cy="260.63" r="3.3"/><circle cx="1045.42" cy="258.29" r="3.3"/><circle cx="1052.95" cy="257.03" r="3.3"/><circle cx="1060.47" cy="256.49" r="3.3"/><circle cx="1068" cy="256.49" r="3.3"/><circle cx="1075.52" cy="256.49" r="3.3"/><circle cx="1083.05" cy="254.68" r="3.3"/><circle cx="1090.57" cy="252.16" r="3.3"/><circle cx="1098.1" cy="248.56" r="3.3"/><circle cx="1105.62" cy="246.76" r="3.3"/><circle cx="1113.15" cy="245.32" r="3.3"/><circle cx="1120.67" cy="245.32" r="3.3"/><circle cx="1128.2" cy="245.68" r="3.3"/><circle cx="1135.72" cy="245.86" r="3.3"/><circle cx="1143.25" cy="244.41" r="3.3"/><circle cx="1150.77" cy="242.07" r="3.3"/><circle cx="1158.3" cy="239.01" r="3.3"/><circle cx="1165.82" cy="237.21" r="3.3"/><circle cx="1173.35" cy="236.31" r="3.3"/><circle cx="1180.87" cy="236.67" r="3.3"/><circle cx="1188.4" cy="237.21" r="3.3"/><circle cx="1195.92" cy="237.57" r="3.3"/><circle cx="1203.45" cy="236.31" r="3.3"/><circle cx="1210.97" cy="234.5" r="3.3"/><circle cx="1218.5" cy="232.34" r="3.3"/><circle cx="1226.02" cy="230.54" r="3.3"/><circle cx="1233.55" cy="229.64" r="3.3"/><circle cx="1241.07" cy="230" r="3.3"/><circle cx="1248.6" cy="230.9" r="3.3"/>
</g>
<g fill="#e31a1c" stroke="none"><polyline points="955.12,262.61 962.65,264.41 970.17,262.79 977.7,260.27 985.22,259.37 992.75,259.01 1000.27,259.37 1007.8,259.73 1015.32,259.73 1022.85,258.47 1030.37,255.77 1037.9,252.52 1045.42,250.72 1052.95,249.46 1060.47,249.82 1068,250.18 1075.52,250.18 1083.05,248.56 1090.57,246.76 1098.1,243.87 1105.62,242.07 1113.15,240.99 1120.67,241.71 1128.2,242.43 1135.72,242.61 1143.25,240.81 1150.77,238.65 1158.3,235.77 1165.82,233.96 1173.35,233.24 1180.87,233.96 1188.4,234.5 1195.92,234.5 1203.45,233.6 1210.97,231.8 1218.5,229.1 1226.02,227.66 1233.55,226.94 1241.07,227.66 1248.6,228.38" fill="none" stroke="#e31a1c" stroke-width="3.6" stroke-linejoin="round" stroke-linecap="round"/>
<circle cx="955.12" cy="262.61" r="3.3"/><circle cx="962.65" cy="264.41" r="3.3"/><circle cx="970.17" cy="262.79" r="3.3"/><circle cx="977.7" cy="260.27" r="3.3"/><circle cx="985.22" cy="259.37" r="3.3"/><circle cx="992.75" cy="259.01" r="3.3"/><circle cx="1000.27" cy="259.37" r="3.3"/><circle cx="1007.8" cy="259.73" r="3.3"/><circle cx="1015.32" cy="259.73" r="3.3"/><circle cx="1022.85" cy="258.47" r="3.3"/><circle cx="1030.37" cy="255.77" r="3.3"/><circle cx="1037.9" cy="252.52" r="3.3"/><circle cx="1045.42" cy="250.72" r="3.3"/><circle cx="1052.95" cy="249.46" r="3.3"/><circle cx="1060.47" cy="249.82" r="3.3"/><circle cx="1068" cy="250.18" r="3.3"/><circle cx="1075.52" cy="250.18" r="3.3"/><circle cx="1083.05" cy="248.56" r="3.3"/><circle cx="1090.57" cy="246.76" r="3.3"/><circle cx="1098.1" cy="243.87" r="3.3"/><circle cx="1105.62" cy="242.07" r="3.3"/><circle cx="1113.15" cy="240.99" r="3.3"/><circle cx="1120.67" cy="241.71" r="3.3"/><circle cx="1128.2" cy="242.43" r="3.3"/><circle cx="1135.72" cy="242.61" r="3.3"/><circle cx="1143.25" cy="240.81" r="3.3"/><circle cx="1150.77" cy="238.65" r="3.3"/><circle cx="1158.3" cy="235.77" r="3.3"/><circle cx="1165.82" cy="233.96" r="3.3"/><circle cx="1173.35" cy="233.24" r="3.3"/><circle cx="1180.87" cy="233.96" r="3.3"/><circle cx="1188.4" cy="234.5" r="3.3"/><circle cx="1195.92" cy="234.5" r="3.3"/><circle cx="1203.45" cy="233.6" r="3.3"/><circle cx="1210.97" cy="231.8" r="3.3"/><circle cx="1218.5" cy="229.1" r="3.3"/><circle cx="1226.02" cy="227.66" r="3.3"/><circle cx="1233.55" cy="226.94" r="3.3"/><circle cx="1241.07" cy="227.66" r="3.3"/><circle cx="1248.6" cy="228.38" r="3.3"/>
</g>
<path d="M947.6 42.5V318.4H1256.4M938.7 42.5H947.6M938.7 134.47H947.6M938.7 226.43H947.6M938.7 318.4H947.6M947.6 318.4V327.3M1007.8 318.4V327.3M1068 318.4V327.3M1128.2 318.4V327.3M1188.4 318.4V327.3M1248.6 318.4V327.3" fill="none" stroke="#222" stroke-width="1.3"/>
<text transform="translate(927.9 49) scale(0.995 1)" text-anchor="end">0.32</text>
<text transform="translate(927.9 140.97) scale(0.995 1)" text-anchor="end">0.22</text>
<text transform="translate(927.9 232.93) scale(0.995 1)" text-anchor="end">0.12</text>
<text transform="translate(927.9 324.9) scale(0.995 1)" text-anchor="end">0.02</text>
<text transform="translate(947.6 350.7) scale(0.995 1)" text-anchor="middle">0</text>
<text transform="translate(1007.2 350.7) scale(0.995 1)" text-anchor="middle">24</text>
<text transform="translate(1067.4 350.7) scale(0.995 1)" text-anchor="middle">48</text>
<text transform="translate(1127.6 350.7) scale(0.995 1)" text-anchor="middle">72</text>
<text transform="translate(1187.8 350.7) scale(0.995 1)" text-anchor="middle">96</text>
<text transform="translate(1248.6 350.7) scale(0.995 1)" text-anchor="middle">120</text>
<text transform="translate(1101.6 385.2) scale(0.98 1)" text-anchor="middle">Forecast time (hours)</text>
<text transform="translate(1101.4 33.3) scale(0.977 1)" text-anchor="middle">AOD</text>
<text transform="translate(874.8 180.45) rotate(-90) scale(0.915 1)" style="font-size:21.7px" text-anchor="middle">RMSE</text>
</g>
<g id="a4">
<g fill="#a6cee3" stroke="none"><polyline points="1408.92,190 1416.45,193.42 1423.97,192.16 1431.5,183.69 1439.02,177.21 1446.55,174.68 1454.07,177.39 1461.6,182.25 1469.12,187.3 1476.65,191.26 1484.17,190.36 1491.7,182.25 1499.22,175.05 1506.75,172.88 1514.27,175.05 1521.8,180.45 1529.32,184.95 1536.85,189.1 1544.37,188.2 1551.9,179.55 1559.42,172.7 1566.95,170.54 1574.47,172.88 1582,177.75 1589.52,182.61 1597.05,186.4 1604.57,185.86 1612.1,177.21 1619.62,169.64 1627.15,167.84 1634.67,170 1642.2,175.05 1649.72,179.55 1657.25,183.51 1664.77,182.79 1672.3,174.14 1679.82,166.94 1687.35,164.59 1694.87,166.94 1702.4,171.98" fill="none" stroke="#a6cee3" stroke-width="3.6" stroke-linejoin="round" stroke-linecap="round"/>
<circle cx="1408.92" cy="190" r="3.3"/><circle cx="1416.45" cy="193.42" r="3.3"/><circle cx="1423.97" cy="192.16" r="3.3"/><circle cx="1431.5" cy="183.69" r="3.3"/><circle cx="1439.02" cy="177.21" r="3.3"/><circle cx="1446.55" cy="174.68" r="3.3"/><circle cx="1454.07" cy="177.39" r="3.3"/><circle cx="1461.6" cy="182.25" r="3.3"/><circle cx="1469.12" cy="187.3" r="3.3"/><circle cx="1476.65" cy="191.26" r="3.3"/><circle cx="1484.17" cy="190.36" r="3.3"/><circle cx="1491.7" cy="182.25" r="3.3"/><circle cx="1499.22" cy="175.05" r="3.3"/><circle cx="1506.75" cy="172.88" r="3.3"/><circle cx="1514.27" cy="175.05" r="3.3"/><circle cx="1521.8" cy="180.45" r="3.3"/><circle cx="1529.32" cy="184.95" r="3.3"/><circle cx="1536.85" cy="189.1" r="3.3"/><circle cx="1544.37" cy="188.2" r="3.3"/><circle cx="1551.9" cy="179.55" r="3.3"/><circle cx="1559.42" cy="172.7" r="3.3"/><circle cx="1566.95" cy="170.54" r="3.3"/><circle cx="1574.47" cy="172.88" r="3.3"/><circle cx="1582" cy="177.75" r="3.3"/><circle cx="1589.52" cy="182.61" r="3.3"/><circle cx="1597.05" cy="186.4" r="3.3"/><circle cx="1604.57" cy="185.86" r="3.3"/><circle cx="1612.1" cy="177.21" r="3.3"/><circle cx="1619.62" cy="169.64" r="3.3"/><circle cx="1627.15" cy="167.84" r="3.3"/><circle cx="1634.67" cy="170" r="3.3"/><circle cx="1642.2" cy="175.05" r="3.3"/><circle cx="1649.72" cy="179.55" r="3.3"/><circle cx="1657.25" cy="183.51" r="3.3"/><circle cx="1664.77" cy="182.79" r="3.3"/><circle cx="1672.3" cy="174.14" r="3.3"/><circle cx="1679.82" cy="166.94" r="3.3"/><circle cx="1687.35" cy="164.59" r="3.3"/><circle cx="1694.87" cy="166.94" r="3.3"/><circle cx="1702.4" cy="171.98" r="3.3"/>
</g>
<g fill="#fb9a99" stroke="none"><polyline points="1408.92,299.37 1416.45,292.52 1423.97,279.01 1431.5,264.23 1439.02,255.77 1446.55,255.59 1454.07,255.77 1461.6,257.21 1469.12,258.29 1476.65,259.01 1484.17,254.86 1491.7,246.22 1499.22,239.91 1506.75,239.55 1514.27,240.27 1521.8,241.35 1529.32,242.07 1536.85,242.97 1544.37,239.91 1551.9,233.6 1559.42,227.3 1566.95,226.4 1574.47,226.4 1582,228.2 1589.52,228.74 1597.05,229.46 1604.57,227.84 1612.1,221.89 1619.62,216.49 1627.15,216.13 1634.67,216.13 1642.2,217.39 1649.72,218.29 1657.25,219.19 1664.77,217.39 1672.3,211.08 1679.82,206.04 1687.35,205.32 1694.87,204.77 1702.4,205.68" fill="none" stroke="#fb9a99" stroke-width="3.6" stroke-linejoin="round" stroke-linecap="round"/>
<circle cx="1408.92" cy="299.37" r="3.3"/><circle cx="1416.45" cy="292.52" r="3.3"/><circle cx="1423.97" cy="279.01" r="3.3"/><circle cx="1431.5" cy="264.23" r="3.3"/><circle cx="1439.02" cy="255.77" r="3.3"/><circle cx="1446.55" cy="255.59" r="3.3"/><circle cx="1454.07" cy="255.77" r="3.3"/><circle cx="1461.6" cy="257.21" r="3.3"/><circle cx="1469.12" cy="258.29" r="3.3"/><circle cx="1476.65" cy="259.01" r="3.3"/><circle cx="1484.17" cy="254.86" r="3.3"/><circle cx="1491.7" cy="246.22" r="3.3"/><circle cx="1499.22" cy="239.91" r="3.3"/><circle cx="1506.75" cy="239.55" r="3.3"/><circle cx="1514.27" cy="240.27" r="3.3"/><circle cx="1521.8" cy="241.35" r="3.3"/><circle cx="1529.32" cy="242.07" r="3.3"/><circle cx="1536.85" cy="242.97" r="3.3"/><circle cx="1544.37" cy="239.91" r="3.3"/><circle cx="1551.9" cy="233.6" r="3.3"/><circle cx="1559.42" cy="227.3" r="3.3"/><circle cx="1566.95" cy="226.4" r="3.3"/><circle cx="1574.47" cy="226.4" r="3.3"/><circle cx="1582" cy="228.2" r="3.3"/><circle cx="1589.52" cy="228.74" r="3.3"/><circle cx="1597.05" cy="229.46" r="3.3"/><circle cx="1604.57" cy="227.84" r="3.3"/><circle cx="1612.1" cy="221.89" r="3.3"/><circle cx="1619.62" cy="216.49" r="3.3"/><circle cx="1627.15" cy="216.13" r="3.3"/><circle cx="1634.67" cy="216.13" r="3.3"/><circle cx="1642.2" cy="217.39" r="3.3"/><circle cx="1649.72" cy="218.29" r="3.3"/><circle cx="1657.25" cy="219.19" r="3.3"/><circle cx="1664.77" cy="217.39" r="3.3"/><circle cx="1672.3" cy="211.08" r="3.3"/><circle cx="1679.82" cy="206.04" r="3.3"/><circle cx="1687.35" cy="205.32" r="3.3"/><circle cx="1694.87" cy="204.77" r="3.3"/><circle cx="1702.4" cy="205.68" r="3.3"/>
</g>
<g fill="#e31a1c" stroke="none"><polyline points="1408.92,228.2 1416.45,232.16 1423.97,233.96 1431.5,232.7 1439.02,230.54 1446.55,232.16 1454.07,232.7 1461.6,235.77 1469.12,238.11 1476.65,239.91 1484.17,238.47 1491.7,233.96 1499.22,230 1506.75,230.9 1514.27,231.26 1521.8,233.24 1529.32,234.86 1536.85,236.85 1544.37,234.5 1551.9,228.74 1559.42,224.05 1566.95,224.23 1574.47,224.95 1582,226.94 1589.52,228.2 1597.05,229.1 1604.57,227.3 1612.1,221.53 1619.62,216.49 1627.15,216.49 1634.67,217.03 1642.2,218.29 1649.72,218.83 1657.25,220.09 1664.77,218.29 1672.3,212.88 1679.82,208.02 1687.35,207.48 1694.87,207.84 1702.4,208.74" fill="none" stroke="#e31a1c" stroke-width="3.6" stroke-linejoin="round" stroke-linecap="round"/>
<circle cx="1408.92" cy="228.2" r="3.3"/><circle cx="1416.45" cy="232.16" r="3.3"/><circle cx="1423.97" cy="233.96" r="3.3"/><circle cx="1431.5" cy="232.7" r="3.3"/><circle cx="1439.02" cy="230.54" r="3.3"/><circle cx="1446.55" cy="232.16" r="3.3"/><circle cx="1454.07" cy="232.7" r="3.3"/><circle cx="1461.6" cy="235.77" r="3.3"/><circle cx="1469.12" cy="238.11" r="3.3"/><circle cx="1476.65" cy="239.91" r="3.3"/><circle cx="1484.17" cy="238.47" r="3.3"/><circle cx="1491.7" cy="233.96" r="3.3"/><circle cx="1499.22" cy="230" r="3.3"/><circle cx="1506.75" cy="230.9" r="3.3"/><circle cx="1514.27" cy="231.26" r="3.3"/><circle cx="1521.8" cy="233.24" r="3.3"/><circle cx="1529.32" cy="234.86" r="3.3"/><circle cx="1536.85" cy="236.85" r="3.3"/><circle cx="1544.37" cy="234.5" r="3.3"/><circle cx="1551.9" cy="228.74" r="3.3"/><circle cx="1559.42" cy="224.05" r="3.3"/><circle cx="1566.95" cy="224.23" r="3.3"/><circle cx="1574.47" cy="224.95" r="3.3"/><circle cx="1582" cy="226.94" r="3.3"/><circle cx="1589.52" cy="228.2" r="3.3"/><circle cx="1597.05" cy="229.1" r="3.3"/><circle cx="1604.57" cy="227.3" r="3.3"/><circle cx="1612.1" cy="221.53" r="3.3"/><circle cx="1619.62" cy="216.49" r="3.3"/><circle cx="1627.15" cy="216.49" r="3.3"/><circle cx="1634.67" cy="217.03" r="3.3"/><circle cx="1642.2" cy="218.29" r="3.3"/><circle cx="1649.72" cy="218.83" r="3.3"/><circle cx="1657.25" cy="220.09" r="3.3"/><circle cx="1664.77" cy="218.29" r="3.3"/><circle cx="1672.3" cy="212.88" r="3.3"/><circle cx="1679.82" cy="208.02" r="3.3"/><circle cx="1687.35" cy="207.48" r="3.3"/><circle cx="1694.87" cy="207.84" r="3.3"/><circle cx="1702.4" cy="208.74" r="3.3"/>
</g>
<path d="M1401.4 42.5V318.4H1710.2M1392.5 42.5H1401.4M1392.5 180.45H1401.4M1392.5 318.4H1401.4M1401.4 318.4V327.3M1461.6 318.4V327.3M1521.8 318.4V327.3M1582 318.4V327.3M1642.2 318.4V327.3M1702.4 318.4V327.3" fill="none" stroke="#222" stroke-width="1.3"/>
<text transform="translate(1381.5 49) scale(0.995 1)" text-anchor="end">0.10</text>
<text transform="translate(1381.5 186.95) scale(0.995 1)" text-anchor="end">0.05</text>
<text transform="translate(1381.5 324.9) scale(0.995 1)" text-anchor="end">0</text>
<text transform="translate(1401.4 350.7) scale(0.995 1)" text-anchor="middle">0</text>
<text transform="translate(1461 350.7) scale(0.995 1)" text-anchor="middle">24</text>
<text transform="translate(1521.2 350.7) scale(0.995 1)" text-anchor="middle">48</text>
<text transform="translate(1581.4 350.7) scale(0.995 1)" text-anchor="middle">72</text>
<text transform="translate(1641.6 350.7) scale(0.995 1)" text-anchor="middle">96</text>
<text transform="translate(1702.4 350.7) scale(0.995 1)" text-anchor="middle">120</text>
<text transform="translate(1555.4 385.2) scale(0.98 1)" text-anchor="middle">Forecast time (hours)</text>
<text transform="translate(1555.2 33.3) scale(0.977 1)" text-anchor="middle">DUAOD</text>
<text transform="translate(1326.6 180.45) rotate(-90) scale(0.915 1)" style="font-size:21.7px" text-anchor="middle">RMSE</text>
</g>
<g id="b1">
<g fill="#e31a1c" stroke="none"><polyline points="103.02,547.97 110.55,542.93 118.07,550.14 125.6,522.21 133.12,540.23 140.65,547.43 148.17,565.99 155.7,562.75 163.22,571.76 170.75,564.55 178.27,557.88 185.8,538.06 193.32,570.86 200.85,578.06 208.37,603.29 215.9,604.19 223.42,590.68 230.95,582.57 238.47,568.15 246,548.87 253.52,604.19 261.05,624.01 268.57,639.32 276.1,631.76 283.62,613.2 291.15,605.09 298.67,583.47 306.2,564.19 313.72,633.02 321.25,659.14 328.77,680.77 336.3,673.56 343.82,624.01 351.35,617.7 358.87,598.24 366.4,583.47 373.92,660.59 381.45,682.57 388.97,711.4 396.5,697.34" fill="none" stroke="#e31a1c" stroke-width="3.6" stroke-linejoin="round" stroke-linecap="round"/>
<circle cx="103.02" cy="547.97" r="3.3"/><circle cx="110.55" cy="542.93" r="3.3"/><circle cx="118.07" cy="550.14" r="3.3"/><circle cx="125.6" cy="522.21" r="3.3"/><circle cx="133.12" cy="540.23" r="3.3"/><circle cx="140.65" cy="547.43" r="3.3"/><circle cx="148.17" cy="565.99" r="3.3"/><circle cx="155.7" cy="562.75" r="3.3"/><circle cx="163.22" cy="571.76" r="3.3"/><circle cx="170.75" cy="564.55" r="3.3"/><circle cx="178.27" cy="557.88" r="3.3"/><circle cx="185.8" cy="538.06" r="3.3"/><circle cx="193.32" cy="570.86" r="3.3"/><circle cx="200.85" cy="578.06" r="3.3"/><circle cx="208.37" cy="603.29" r="3.3"/><circle cx="215.9" cy="604.19" r="3.3"/><circle cx="223.42" cy="590.68" r="3.3"/><circle cx="230.95" cy="582.57" r="3.3"/><circle cx="238.47" cy="568.15" r="3.3"/><circle cx="246" cy="548.87" r="3.3"/><circle cx="253.52" cy="604.19" r="3.3"/><circle cx="261.05" cy="624.01" r="3.3"/><circle cx="268.57" cy="639.32" r="3.3"/><circle cx="276.1" cy="631.76" r="3.3"/><circle cx="283.62" cy="613.2" r="3.3"/><circle cx="291.15" cy="605.09" r="3.3"/><circle cx="298.67" cy="583.47" r="3.3"/><circle cx="306.2" cy="564.19" r="3.3"/><circle cx="313.72" cy="633.02" r="3.3"/><circle cx="321.25" cy="659.14" r="3.3"/><circle cx="328.77" cy="680.77" r="3.3"/><circle cx="336.3" cy="673.56" r="3.3"/><circle cx="343.82" cy="624.01" r="3.3"/><circle cx="351.35" cy="617.7" r="3.3"/><circle cx="358.87" cy="598.24" r="3.3"/><circle cx="366.4" cy="583.47" r="3.3"/><circle cx="373.92" cy="660.59" r="3.3"/><circle cx="381.45" cy="682.57" r="3.3"/><circle cx="388.97" cy="711.4" r="3.3"/><circle cx="396.5" cy="697.34" r="3.3"/>
</g>
<g fill="#fb9a99" stroke="none"><polyline points="103.02,558.24 110.55,548.33 118.07,547.97 125.6,535.18 133.12,545.99 140.65,547.97 148.17,559.14 155.7,565.99 163.22,575 170.75,565.99 178.27,560.59 185.8,541.13 193.32,572.66 200.85,578.06 208.37,599.68 215.9,606.89 223.42,592.48 230.95,584.37 238.47,571.76 246,552.3 253.52,606.89 261.05,633.92 268.57,644.73 276.1,653.74 283.62,615 291.15,606.89 298.67,588.87 306.2,569.05 313.72,633.92 321.25,663.65 328.77,688.33 336.3,683.83 343.82,633.92 351.35,619.5 358.87,603.29 366.4,584.91 373.92,662.75 381.45,694.28 388.97,715.54 396.5,716.44" fill="none" stroke="#fb9a99" stroke-width="3.6" stroke-linejoin="round" stroke-linecap="round"/>
<circle cx="103.02" cy="558.24" r="3.3"/><circle cx="110.55" cy="548.33" r="3.3"/><circle cx="118.07" cy="547.97" r="3.3"/><circle cx="125.6" cy="535.18" r="3.3"/><circle cx="133.12" cy="545.99" r="3.3"/><circle cx="140.65" cy="547.97" r="3.3"/><circle cx="148.17" cy="559.14" r="3.3"/><circle cx="155.7" cy="565.99" r="3.3"/><circle cx="163.22" cy="575" r="3.3"/><circle cx="170.75" cy="565.99" r="3.3"/><circle cx="178.27" cy="560.59" r="3.3"/><circle cx="185.8" cy="541.13" r="3.3"/><circle cx="193.32" cy="572.66" r="3.3"/><circle cx="200.85" cy="578.06" r="3.3"/><circle cx="208.37" cy="599.68" r="3.3"/><circle cx="215.9" cy="606.89" r="3.3"/><circle cx="223.42" cy="592.48" r="3.3"/><circle cx="230.95" cy="584.37" r="3.3"/><circle cx="238.47" cy="571.76" r="3.3"/><circle cx="246" cy="552.3" r="3.3"/><circle cx="253.52" cy="606.89" r="3.3"/><circle cx="261.05" cy="633.92" r="3.3"/><circle cx="268.57" cy="644.73" r="3.3"/><circle cx="276.1" cy="653.74" r="3.3"/><circle cx="283.62" cy="615" r="3.3"/><circle cx="291.15" cy="606.89" r="3.3"/><circle cx="298.67" cy="588.87" r="3.3"/><circle cx="306.2" cy="569.05" r="3.3"/><circle cx="313.72" cy="633.92" r="3.3"/><circle cx="321.25" cy="663.65" r="3.3"/><circle cx="328.77" cy="688.33" r="3.3"/><circle cx="336.3" cy="683.83" r="3.3"/><circle cx="343.82" cy="633.92" r="3.3"/><circle cx="351.35" cy="619.5" r="3.3"/><circle cx="358.87" cy="603.29" r="3.3"/><circle cx="366.4" cy="584.91" r="3.3"/><circle cx="373.92" cy="662.75" r="3.3"/><circle cx="381.45" cy="694.28" r="3.3"/><circle cx="388.97" cy="715.54" r="3.3"/><circle cx="396.5" cy="716.44" r="3.3"/>
</g>
<g fill="#a6cee3" stroke="none"><polyline points="103.02,565.09 110.55,552.3 118.07,561.49 125.6,568.51 133.12,560.05 140.65,554.64 148.17,558.78 155.7,579.86 163.22,587.07 170.75,572.66 178.27,580.77 185.8,579.5 193.32,595.54 200.85,584.37 208.37,584.37 215.9,606.35 223.42,606.35 230.95,584.37 238.47,592.48 246,590.68 253.52,620.41 261.05,627.61 268.57,647.43 276.1,656.08 283.62,688.33 291.15,600.05 298.67,603.83 306.2,603.29 313.72,663.11 321.25,668.69 328.77,666.89 336.3,673.2 343.82,669.95 351.35,617.7 358.87,618.6 366.4,610.5 373.92,672.3 381.45,673.56 388.97,682.03 396.5,682.21" fill="none" stroke="#a6cee3" stroke-width="3.6" stroke-linejoin="round" stroke-linecap="round"/>
<circle cx="103.02" cy="565.09" r="3.3"/><circle cx="110.55" cy="552.3" r="3.3"/><circle cx="118.07" cy="561.49" r="3.3"/><circle cx="125.6" cy="568.51" r="3.3"/><circle cx="133.12" cy="560.05" r="3.3"/><circle cx="140.65" cy="554.64" r="3.3"/><circle cx="148.17" cy="558.78" r="3.3"/><circle cx="155.7" cy="579.86" r="3.3"/><circle cx="163.22" cy="587.07" r="3.3"/><circle cx="170.75" cy="572.66" r="3.3"/><circle cx="178.27" cy="580.77" r="3.3"/><circle cx="185.8" cy="579.5" r="3.3"/><circle cx="193.32" cy="595.54" r="3.3"/><circle cx="200.85" cy="584.37" r="3.3"/><circle cx="208.37" cy="584.37" r="3.3"/><circle cx="215.9" cy="606.35" r="3.3"/><circle cx="223.42" cy="606.35" r="3.3"/><circle cx="230.95" cy="584.37" r="3.3"/><circle cx="238.47" cy="592.48" r="3.3"/><circle cx="246" cy="590.68" r="3.3"/><circle cx="253.52" cy="620.41" r="3.3"/><circle cx="261.05" cy="627.61" r="3.3"/><circle cx="268.57" cy="647.43" r="3.3"/><circle cx="276.1" cy="656.08" r="3.3"/><circle cx="283.62" cy="688.33" r="3.3"/><circle cx="291.15" cy="600.05" r="3.3"/><circle cx="298.67" cy="603.83" r="3.3"/><circle cx="306.2" cy="603.29" r="3.3"/><circle cx="313.72" cy="663.11" r="3.3"/><circle cx="321.25" cy="668.69" r="3.3"/><circle cx="328.77" cy="666.89" r="3.3"/><circle cx="336.3" cy="673.2" r="3.3"/><circle cx="343.82" cy="669.95" r="3.3"/><circle cx="351.35" cy="617.7" r="3.3"/><circle cx="358.87" cy="618.6" r="3.3"/><circle cx="366.4" cy="610.5" r="3.3"/><circle cx="373.92" cy="672.3" r="3.3"/><circle cx="381.45" cy="673.56" r="3.3"/><circle cx="388.97" cy="682.03" r="3.3"/><circle cx="396.5" cy="682.21" r="3.3"/>
</g>
<path d="M95.5 445.3V720.6H404.3M86.6 445.3H95.5M86.6 537.07H95.5M86.6 628.83H95.5M86.6 720.6H95.5M95.5 720.6V729.5M155.7 720.6V729.5M215.9 720.6V729.5M276.1 720.6V729.5M336.3 720.6V729.5M396.5 720.6V729.5" fill="none" stroke="#222" stroke-width="1.3"/>
<text transform="translate(77.3 451.8) scale(0.995 1)" text-anchor="end">1.0</text>
<text transform="translate(77.3 543.57) scale(0.995 1)" text-anchor="end">0.8</text>
<text transform="translate(77.3 635.33) scale(0.995 1)" text-anchor="end">0.6</text>
<text transform="translate(77.3 727.1) scale(0.995 1)" text-anchor="end">0.4</text>
<text transform="translate(95 753.7) scale(0.995 1)" text-anchor="middle">0</text>
<text transform="translate(154.6 753.7) scale(0.995 1)" text-anchor="middle">24</text>
<text transform="translate(214.8 753.7) scale(0.995 1)" text-anchor="middle">48</text>
<text transform="translate(275 753.7) scale(0.995 1)" text-anchor="middle">72</text>
<text transform="translate(335.2 753.7) scale(0.995 1)" text-anchor="middle">96</text>
<text transform="translate(396 753.7) scale(0.995 1)" text-anchor="middle">120</text>
<text transform="translate(249.5 789.5) scale(0.98 1)" text-anchor="middle">Forecast time (hours)</text>
<text transform="translate(249.3 434.7) scale(0.977 1)" text-anchor="middle">AOD</text>
<text transform="translate(30.5 582.95) rotate(-90) scale(0.915 1)" style="font-size:21.7px" text-anchor="middle" font-style="italic">R</text>
</g>
<g id="b2">
<g fill="#e31a1c" stroke="none"><polyline points="515.42,612.36 522.95,563.96 530.47,542.67 538,514.79 545.52,526.66 553.05,535.14 560.57,593.53 568.1,665.11 575.62,608.22 583.15,564.9 590.67,550.21 598.2,523.84 605.72,537.4 613.25,545.5 620.77,594.47 628.3,668.87 635.82,614.25 643.35,572.81 650.87,560 658.4,529.49 665.92,545.5 673.45,556.23 680.97,598.24 688.5,678.29 696.02,618.58 703.55,589.76 711.07,575.07 718.6,542.67 726.12,559.62 733.65,570.93 741.17,597.3 748.7,682.06 756.22,631.2 763.75,602.01 771.27,587.88 778.8,557.74 786.32,571.87 793.85,582.6 801.37,613.31 808.9,684.88" fill="none" stroke="#e31a1c" stroke-width="3.6" stroke-linejoin="round" stroke-linecap="round"/>
<circle cx="515.42" cy="612.36" r="3.3"/><circle cx="522.95" cy="563.96" r="3.3"/><circle cx="530.47" cy="542.67" r="3.3"/><circle cx="538" cy="514.79" r="3.3"/><circle cx="545.52" cy="526.66" r="3.3"/><circle cx="553.05" cy="535.14" r="3.3"/><circle cx="560.57" cy="593.53" r="3.3"/><circle cx="568.1" cy="665.11" r="3.3"/><circle cx="575.62" cy="608.22" r="3.3"/><circle cx="583.15" cy="564.9" r="3.3"/><circle cx="590.67" cy="550.21" r="3.3"/><circle cx="598.2" cy="523.84" r="3.3"/><circle cx="605.72" cy="537.4" r="3.3"/><circle cx="613.25" cy="545.5" r="3.3"/><circle cx="620.77" cy="594.47" r="3.3"/><circle cx="628.3" cy="668.87" r="3.3"/><circle cx="635.82" cy="614.25" r="3.3"/><circle cx="643.35" cy="572.81" r="3.3"/><circle cx="650.87" cy="560" r="3.3"/><circle cx="658.4" cy="529.49" r="3.3"/><circle cx="665.92" cy="545.5" r="3.3"/><circle cx="673.45" cy="556.23" r="3.3"/><circle cx="680.97" cy="598.24" r="3.3"/><circle cx="688.5" cy="678.29" r="3.3"/><circle cx="696.02" cy="618.58" r="3.3"/><circle cx="703.55" cy="589.76" r="3.3"/><circle cx="711.07" cy="575.07" r="3.3"/><circle cx="718.6" cy="542.67" r="3.3"/><circle cx="726.12" cy="559.62" r="3.3"/><circle cx="733.65" cy="570.93" r="3.3"/><circle cx="741.17" cy="597.3" r="3.3"/><circle cx="748.7" cy="682.06" r="3.3"/><circle cx="756.22" cy="631.2" r="3.3"/><circle cx="763.75" cy="602.01" r="3.3"/><circle cx="771.27" cy="587.88" r="3.3"/><circle cx="778.8" cy="557.74" r="3.3"/><circle cx="786.32" cy="571.87" r="3.3"/><circle cx="793.85" cy="582.6" r="3.3"/><circle cx="801.37" cy="613.31" r="3.3"/><circle cx="808.9" cy="684.88" r="3.3"/>
</g>
<g fill="#fb9a99" stroke="none"><polyline points="515.42,611.42 522.95,558.12 530.47,543.05 538,519.13 545.52,527.23 553.05,535.51 560.57,587.88 568.1,665.11 575.62,609.54 583.15,563.96 590.67,548.7 598.2,524.21 605.72,534.76 613.25,543.99 620.77,591.65 628.3,668.87 635.82,614.81 643.35,571.87 650.87,559.62 658.4,531.37 665.92,545.5 673.45,556.23 680.97,595.41 688.5,678.29 696.02,618.58 703.55,579.03 711.07,570.93 718.6,543.24 726.12,555.48 733.65,569.98 741.17,595.41 748.7,682.06 756.22,633.08 763.75,596.35 771.27,590.7 778.8,557.74 786.32,580.34 793.85,595.41 801.37,602.57 808.9,687.33" fill="none" stroke="#fb9a99" stroke-width="3.6" stroke-linejoin="round" stroke-linecap="round"/>
<circle cx="515.42" cy="611.42" r="3.3"/><circle cx="522.95" cy="558.12" r="3.3"/><circle cx="530.47" cy="543.05" r="3.3"/><circle cx="538" cy="519.13" r="3.3"/><circle cx="545.52" cy="527.23" r="3.3"/><circle cx="553.05" cy="535.51" r="3.3"/><circle cx="560.57" cy="587.88" r="3.3"/><circle cx="568.1" cy="665.11" r="3.3"/><circle cx="575.62" cy="609.54" r="3.3"/><circle cx="583.15" cy="563.96" r="3.3"/><circle cx="590.67" cy="548.7" r="3.3"/><circle cx="598.2" cy="524.21" r="3.3"/><circle cx="605.72" cy="534.76" r="3.3"/><circle cx="613.25" cy="543.99" r="3.3"/><circle cx="620.77" cy="591.65" r="3.3"/><circle cx="628.3" cy="668.87" r="3.3"/><circle cx="635.82" cy="614.81" r="3.3"/><circle cx="643.35" cy="571.87" r="3.3"/><circle cx="650.87" cy="559.62" r="3.3"/><circle cx="658.4" cy="531.37" r="3.3"/><circle cx="665.92" cy="545.5" r="3.3"/><circle cx="673.45" cy="556.23" r="3.3"/><circle cx="680.97" cy="595.41" r="3.3"/><circle cx="688.5" cy="678.29" r="3.3"/><circle cx="696.02" cy="618.58" r="3.3"/><circle cx="703.55" cy="579.03" r="3.3"/><circle cx="711.07" cy="570.93" r="3.3"/><circle cx="718.6" cy="543.24" r="3.3"/><circle cx="726.12" cy="555.48" r="3.3"/><circle cx="733.65" cy="569.98" r="3.3"/><circle cx="741.17" cy="595.41" r="3.3"/><circle cx="748.7" cy="682.06" r="3.3"/><circle cx="756.22" cy="633.08" r="3.3"/><circle cx="763.75" cy="596.35" r="3.3"/><circle cx="771.27" cy="590.7" r="3.3"/><circle cx="778.8" cy="557.74" r="3.3"/><circle cx="786.32" cy="580.34" r="3.3"/><circle cx="793.85" cy="595.41" r="3.3"/><circle cx="801.37" cy="602.57" r="3.3"/><circle cx="808.9" cy="687.33" r="3.3"/>
</g>
<g fill="#a6cee3" stroke="none"><polyline points="515.42,644.39 522.95,596.73 530.47,585.05 538,589.2 545.52,572.43 553.05,565.65 560.57,585.05 568.1,687.33 575.62,650.04 583.15,596.73 590.67,589.2 598.2,598.61 605.72,583.17 613.25,578.08 620.77,587.5 628.3,687.14 635.82,661.34 643.35,602.95 650.87,599.18 658.4,608.6 665.92,589.76 673.45,582.6 680.97,592.02 688.5,691.85 696.02,667.93 703.55,609.54 711.07,608.03 718.6,617.64 726.12,601.06 733.65,594.09 741.17,598.61 748.7,693.92 756.22,681.49 763.75,622.16 771.27,617.45 778.8,623.1 786.32,607.28 793.85,597.3 801.37,611.8 808.9,712.2" fill="none" stroke="#a6cee3" stroke-width="3.6" stroke-linejoin="round" stroke-linecap="round"/>
<circle cx="515.42" cy="644.39" r="3.3"/><circle cx="522.95" cy="596.73" r="3.3"/><circle cx="530.47" cy="585.05" r="3.3"/><circle cx="538" cy="589.2" r="3.3"/><circle cx="545.52" cy="572.43" r="3.3"/><circle cx="553.05" cy="565.65" r="3.3"/><circle cx="560.57" cy="585.05" r="3.3"/><circle cx="568.1" cy="687.33" r="3.3"/><circle cx="575.62" cy="650.04" r="3.3"/><circle cx="583.15" cy="596.73" r="3.3"/><circle cx="590.67" cy="589.2" r="3.3"/><circle cx="598.2" cy="598.61" r="3.3"/><circle cx="605.72" cy="583.17" r="3.3"/><circle cx="613.25" cy="578.08" r="3.3"/><circle cx="620.77" cy="587.5" r="3.3"/><circle cx="628.3" cy="687.14" r="3.3"/><circle cx="635.82" cy="661.34" r="3.3"/><circle cx="643.35" cy="602.95" r="3.3"/><circle cx="650.87" cy="599.18" r="3.3"/><circle cx="658.4" cy="608.6" r="3.3"/><circle cx="665.92" cy="589.76" r="3.3"/><circle cx="673.45" cy="582.6" r="3.3"/><circle cx="680.97" cy="592.02" r="3.3"/><circle cx="688.5" cy="691.85" r="3.3"/><circle cx="696.02" cy="667.93" r="3.3"/><circle cx="703.55" cy="609.54" r="3.3"/><circle cx="711.07" cy="608.03" r="3.3"/><circle cx="718.6" cy="617.64" r="3.3"/><circle cx="726.12" cy="601.06" r="3.3"/><circle cx="733.65" cy="594.09" r="3.3"/><circle cx="741.17" cy="598.61" r="3.3"/><circle cx="748.7" cy="693.92" r="3.3"/><circle cx="756.22" cy="681.49" r="3.3"/><circle cx="763.75" cy="622.16" r="3.3"/><circle cx="771.27" cy="617.45" r="3.3"/><circle cx="778.8" cy="623.1" r="3.3"/><circle cx="786.32" cy="607.28" r="3.3"/><circle cx="793.85" cy="597.3" r="3.3"/><circle cx="801.37" cy="611.8" r="3.3"/><circle cx="808.9" cy="712.2" r="3.3"/>
</g>
<path d="M507.9 445.3V720.6H816.7M499 445.3H507.9M499 537.07H507.9M499 628.83H507.9M499 720.6H507.9M507.9 720.6V729.5M568.1 720.6V729.5M628.3 720.6V729.5M688.5 720.6V729.5M748.7 720.6V729.5M808.9 720.6V729.5" fill="none" stroke="#222" stroke-width="1.3"/>
<text transform="translate(490.1 451.8) scale(0.995 1)" text-anchor="end">1.0</text>
<text transform="translate(490.1 543.57) scale(0.995 1)" text-anchor="end">0.8</text>
<text transform="translate(490.1 635.33) scale(0.995 1)" text-anchor="end">0.6</text>
<text transform="translate(490.1 727.1) scale(0.995 1)" text-anchor="end">0.4</text>
<text transform="translate(507.4 753.7) scale(0.995 1)" text-anchor="middle">0</text>
<text transform="translate(567 753.7) scale(0.995 1)" text-anchor="middle">24</text>
<text transform="translate(627.2 753.7) scale(0.995 1)" text-anchor="middle">48</text>
<text transform="translate(687.4 753.7) scale(0.995 1)" text-anchor="middle">72</text>
<text transform="translate(747.6 753.7) scale(0.995 1)" text-anchor="middle">96</text>
<text transform="translate(808.4 753.7) scale(0.995 1)" text-anchor="middle">120</text>
<text transform="translate(661.9 789.5) scale(0.98 1)" text-anchor="middle">Forecast time (hours)</text>
<text transform="translate(661.7 434.7) scale(0.977 1)" text-anchor="middle">DUAOD</text>
<text transform="translate(446 582.95) rotate(-90) scale(0.915 1)" style="font-size:21.7px" text-anchor="middle" font-style="italic">R</text>
</g>
<g id="b3">
<g fill="#e31a1c" stroke="none"><polyline points="955.12,636.8 962.65,598.6 970.17,613.02 977.7,645.45 985.22,640.05 992.75,632.84 1000.27,621.13 1007.8,622.93 1015.32,626.89 1022.85,589.59 1030.37,608.51 1037.9,636.44 1045.42,626.53 1052.95,619.32 1060.47,608.51 1068,607.61 1075.52,619.32 1083.05,581.49 1090.57,603.11 1098.1,631.4 1105.62,614.82 1113.15,603.65 1120.67,595.54 1128.2,598.24 1135.72,610.32 1143.25,572.48 1150.77,596.8 1158.3,624.73 1165.82,605.81 1173.35,595 1180.87,584.19 1188.4,585.63 1195.92,608.87 1203.45,567.07 1210.97,588.69 1218.5,617.52 1226.02,598.6 1233.55,588.33 1241.07,578.24 1248.6,581.49" fill="none" stroke="#e31a1c" stroke-width="3.6" stroke-linejoin="round" stroke-linecap="round"/>
<circle cx="955.12" cy="636.8" r="3.3"/><circle cx="962.65" cy="598.6" r="3.3"/><circle cx="970.17" cy="613.02" r="3.3"/><circle cx="977.7" cy="645.45" r="3.3"/><circle cx="985.22" cy="640.05" r="3.3"/><circle cx="992.75" cy="632.84" r="3.3"/><circle cx="1000.27" cy="621.13" r="3.3"/><circle cx="1007.8" cy="622.93" r="3.3"/><circle cx="1015.32" cy="626.89" r="3.3"/><circle cx="1022.85" cy="589.59" r="3.3"/><circle cx="1030.37" cy="608.51" r="3.3"/><circle cx="1037.9" cy="636.44" r="3.3"/><circle cx="1045.42" cy="626.53" r="3.3"/><circle cx="1052.95" cy="619.32" r="3.3"/><circle cx="1060.47" cy="608.51" r="3.3"/><circle cx="1068" cy="607.61" r="3.3"/><circle cx="1075.52" cy="619.32" r="3.3"/><circle cx="1083.05" cy="581.49" r="3.3"/><circle cx="1090.57" cy="603.11" r="3.3"/><circle cx="1098.1" cy="631.4" r="3.3"/><circle cx="1105.62" cy="614.82" r="3.3"/><circle cx="1113.15" cy="603.65" r="3.3"/><circle cx="1120.67" cy="595.54" r="3.3"/><circle cx="1128.2" cy="598.24" r="3.3"/><circle cx="1135.72" cy="610.32" r="3.3"/><circle cx="1143.25" cy="572.48" r="3.3"/><circle cx="1150.77" cy="596.8" r="3.3"/><circle cx="1158.3" cy="624.73" r="3.3"/><circle cx="1165.82" cy="605.81" r="3.3"/><circle cx="1173.35" cy="595" r="3.3"/><circle cx="1180.87" cy="584.19" r="3.3"/><circle cx="1188.4" cy="585.63" r="3.3"/><circle cx="1195.92" cy="608.87" r="3.3"/><circle cx="1203.45" cy="567.07" r="3.3"/><circle cx="1210.97" cy="588.69" r="3.3"/><circle cx="1218.5" cy="617.52" r="3.3"/><circle cx="1226.02" cy="598.6" r="3.3"/><circle cx="1233.55" cy="588.33" r="3.3"/><circle cx="1241.07" cy="578.24" r="3.3"/><circle cx="1248.6" cy="581.49" r="3.3"/>
</g>
<g fill="#fb9a99" stroke="none"><polyline points="955.12,631.94 962.65,600.41 970.17,612.12 977.7,640.05 985.22,637.88 992.75,631.94 1000.27,623.29 1007.8,622.03 1015.32,626.53 1022.85,589.95 1030.37,606.71 1037.9,636.44 1045.42,625.63 1052.95,618.42 1060.47,608.15 1068,607.07 1075.52,619.32 1083.05,581.49 1090.57,601.31 1098.1,630.14 1105.62,614.82 1113.15,601.85 1120.67,594.1 1128.2,593.74 1135.72,611.22 1143.25,572.48 1150.77,595 1158.3,622.03 1165.82,604.91 1173.35,593.74 1180.87,584.19 1188.4,585.63 1195.92,605.81 1203.45,567.97 1210.97,586.89 1218.5,617.52 1226.02,597.7 1233.55,586.89 1241.07,579.68 1248.6,579.68" fill="none" stroke="#fb9a99" stroke-width="3.6" stroke-linejoin="round" stroke-linecap="round"/>
<circle cx="955.12" cy="631.94" r="3.3"/><circle cx="962.65" cy="600.41" r="3.3"/><circle cx="970.17" cy="612.12" r="3.3"/><circle cx="977.7" cy="640.05" r="3.3"/><circle cx="985.22" cy="637.88" r="3.3"/><circle cx="992.75" cy="631.94" r="3.3"/><circle cx="1000.27" cy="623.29" r="3.3"/><circle cx="1007.8" cy="622.03" r="3.3"/><circle cx="1015.32" cy="626.53" r="3.3"/><circle cx="1022.85" cy="589.95" r="3.3"/><circle cx="1030.37" cy="606.71" r="3.3"/><circle cx="1037.9" cy="636.44" r="3.3"/><circle cx="1045.42" cy="625.63" r="3.3"/><circle cx="1052.95" cy="618.42" r="3.3"/><circle cx="1060.47" cy="608.15" r="3.3"/><circle cx="1068" cy="607.07" r="3.3"/><circle cx="1075.52" cy="619.32" r="3.3"/><circle cx="1083.05" cy="581.49" r="3.3"/><circle cx="1090.57" cy="601.31" r="3.3"/><circle cx="1098.1" cy="630.14" r="3.3"/><circle cx="1105.62" cy="614.82" r="3.3"/><circle cx="1113.15" cy="601.85" r="3.3"/><circle cx="1120.67" cy="594.1" r="3.3"/><circle cx="1128.2" cy="593.74" r="3.3"/><circle cx="1135.72" cy="611.22" r="3.3"/><circle cx="1143.25" cy="572.48" r="3.3"/><circle cx="1150.77" cy="595" r="3.3"/><circle cx="1158.3" cy="622.03" r="3.3"/><circle cx="1165.82" cy="604.91" r="3.3"/><circle cx="1173.35" cy="593.74" r="3.3"/><circle cx="1180.87" cy="584.19" r="3.3"/><circle cx="1188.4" cy="585.63" r="3.3"/><circle cx="1195.92" cy="605.81" r="3.3"/><circle cx="1203.45" cy="567.97" r="3.3"/><circle cx="1210.97" cy="586.89" r="3.3"/><circle cx="1218.5" cy="617.52" r="3.3"/><circle cx="1226.02" cy="597.7" r="3.3"/><circle cx="1233.55" cy="586.89" r="3.3"/><circle cx="1241.07" cy="579.68" r="3.3"/><circle cx="1248.6" cy="579.68" r="3.3"/>
</g>
<g fill="#a6cee3" stroke="none"><polyline points="955.12,617.88 962.65,602.57 970.17,608.87 977.7,623.47 985.22,626.89 992.75,622.03 1000.27,611.22 1007.8,595 1015.32,604.01 1022.85,591.4 1030.37,599.5 1037.9,619.32 1045.42,611.22 1052.95,611.76 1060.47,602.21 1068,583.29 1075.52,593.56 1083.05,583.83 1090.57,592.84 1098.1,613.92 1105.62,602.75 1113.15,592.84 1120.67,569.23 1128.2,548.15 1135.72,509.77 1143.25,573.92 1150.77,586.89 1158.3,607.97 1165.82,583.65 1173.35,579.68 1180.87,573.74 1188.4,545.45 1195.92,544.91 1203.45,566.17 1210.97,579.68 1218.5,605.81 1226.02,584.55 1233.55,582.39 1241.07,569.23 1248.6,554.1" fill="none" stroke="#a6cee3" stroke-width="3.6" stroke-linejoin="round" stroke-linecap="round"/>
<circle cx="955.12" cy="617.88" r="3.3"/><circle cx="962.65" cy="602.57" r="3.3"/><circle cx="970.17" cy="608.87" r="3.3"/><circle cx="977.7" cy="623.47" r="3.3"/><circle cx="985.22" cy="626.89" r="3.3"/><circle cx="992.75" cy="622.03" r="3.3"/><circle cx="1000.27" cy="611.22" r="3.3"/><circle cx="1007.8" cy="595" r="3.3"/><circle cx="1015.32" cy="604.01" r="3.3"/><circle cx="1022.85" cy="591.4" r="3.3"/><circle cx="1030.37" cy="599.5" r="3.3"/><circle cx="1037.9" cy="619.32" r="3.3"/><circle cx="1045.42" cy="611.22" r="3.3"/><circle cx="1052.95" cy="611.76" r="3.3"/><circle cx="1060.47" cy="602.21" r="3.3"/><circle cx="1068" cy="583.29" r="3.3"/><circle cx="1075.52" cy="593.56" r="3.3"/><circle cx="1083.05" cy="583.83" r="3.3"/><circle cx="1090.57" cy="592.84" r="3.3"/><circle cx="1098.1" cy="613.92" r="3.3"/><circle cx="1105.62" cy="602.75" r="3.3"/><circle cx="1113.15" cy="592.84" r="3.3"/><circle cx="1120.67" cy="569.23" r="3.3"/><circle cx="1128.2" cy="548.15" r="3.3"/><circle cx="1135.72" cy="509.77" r="3.3"/><circle cx="1143.25" cy="573.92" r="3.3"/><circle cx="1150.77" cy="586.89" r="3.3"/><circle cx="1158.3" cy="607.97" r="3.3"/><circle cx="1165.82" cy="583.65" r="3.3"/><circle cx="1173.35" cy="579.68" r="3.3"/><circle cx="1180.87" cy="573.74" r="3.3"/><circle cx="1188.4" cy="545.45" r="3.3"/><circle cx="1195.92" cy="544.91" r="3.3"/><circle cx="1203.45" cy="566.17" r="3.3"/><circle cx="1210.97" cy="579.68" r="3.3"/><circle cx="1218.5" cy="605.81" r="3.3"/><circle cx="1226.02" cy="584.55" r="3.3"/><circle cx="1233.55" cy="582.39" r="3.3"/><circle cx="1241.07" cy="569.23" r="3.3"/><circle cx="1248.6" cy="554.1" r="3.3"/>
</g>
<path d="M947.6 445.3V720.6H1256.4M938.7 445.3H947.6M938.7 537.07H947.6M938.7 628.83H947.6M938.7 720.6H947.6M947.6 720.6V729.5M1007.8 720.6V729.5M1068 720.6V729.5M1128.2 720.6V729.5M1188.4 720.6V729.5M1248.6 720.6V729.5" fill="none" stroke="#222" stroke-width="1.3"/>
<text transform="translate(928.9 451.8) scale(0.995 1)" text-anchor="end">0.32</text>
<text transform="translate(928.9 543.57) scale(0.995 1)" text-anchor="end">0.22</text>
<text transform="translate(928.9 635.33) scale(0.995 1)" text-anchor="end">0.12</text>
<text transform="translate(928.9 727.1) scale(0.995 1)" text-anchor="end">0.02</text>
<text transform="translate(947.1 753.7) scale(0.995 1)" text-anchor="middle">0</text>
<text transform="translate(1006.7 753.7) scale(0.995 1)" text-anchor="middle">24</text>
<text transform="translate(1066.9 753.7) scale(0.995 1)" text-anchor="middle">48</text>
<text transform="translate(1127.1 753.7) scale(0.995 1)" text-anchor="middle">72</text>
<text transform="translate(1187.3 753.7) scale(0.995 1)" text-anchor="middle">96</text>
<text transform="translate(1248.1 753.7) scale(0.995 1)" text-anchor="middle">120</text>
<text transform="translate(1101.6 789.5) scale(0.98 1)" text-anchor="middle">Forecast time (hours)</text>
<text transform="translate(1101.4 434.7) scale(0.977 1)" text-anchor="middle">AOD</text>
<text transform="translate(870.8 582.95) rotate(-90) scale(0.915 1)" style="font-size:21.7px" text-anchor="middle">RMSE</text>
</g>
<g id="b4">
<g fill="#e31a1c" stroke="none"><polyline points="1408.92,579.23 1416.45,555.27 1423.97,561.22 1431.5,557.61 1439.02,585.18 1446.55,594.91 1454.07,632.75 1461.6,628.78 1469.12,579.23 1476.65,556.71 1484.17,556.35 1491.7,547.16 1499.22,578.33 1506.75,589.14 1514.27,630.59 1521.8,627.88 1529.32,577.97 1536.85,550.41 1544.37,547.7 1551.9,541.4 1559.42,569.32 1566.95,581.04 1574.47,629.14 1582,626.08 1589.52,574.73 1597.05,538.69 1604.57,534.19 1612.1,525.54 1619.62,558.51 1627.15,570.23 1634.67,628.78 1642.2,624.28 1649.72,571.13 1657.25,528.78 1664.77,519.77 1672.3,509.5 1679.82,544.64 1687.35,561.22 1694.87,623.38 1702.4,620.68" fill="none" stroke="#e31a1c" stroke-width="3.6" stroke-linejoin="round" stroke-linecap="round"/>
<circle cx="1408.92" cy="579.23" r="3.3"/><circle cx="1416.45" cy="555.27" r="3.3"/><circle cx="1423.97" cy="561.22" r="3.3"/><circle cx="1431.5" cy="557.61" r="3.3"/><circle cx="1439.02" cy="585.18" r="3.3"/><circle cx="1446.55" cy="594.91" r="3.3"/><circle cx="1454.07" cy="632.75" r="3.3"/><circle cx="1461.6" cy="628.78" r="3.3"/><circle cx="1469.12" cy="579.23" r="3.3"/><circle cx="1476.65" cy="556.71" r="3.3"/><circle cx="1484.17" cy="556.35" r="3.3"/><circle cx="1491.7" cy="547.16" r="3.3"/><circle cx="1499.22" cy="578.33" r="3.3"/><circle cx="1506.75" cy="589.14" r="3.3"/><circle cx="1514.27" cy="630.59" r="3.3"/><circle cx="1521.8" cy="627.88" r="3.3"/><circle cx="1529.32" cy="577.97" r="3.3"/><circle cx="1536.85" cy="550.41" r="3.3"/><circle cx="1544.37" cy="547.7" r="3.3"/><circle cx="1551.9" cy="541.4" r="3.3"/><circle cx="1559.42" cy="569.32" r="3.3"/><circle cx="1566.95" cy="581.04" r="3.3"/><circle cx="1574.47" cy="629.14" r="3.3"/><circle cx="1582" cy="626.08" r="3.3"/><circle cx="1589.52" cy="574.73" r="3.3"/><circle cx="1597.05" cy="538.69" r="3.3"/><circle cx="1604.57" cy="534.19" r="3.3"/><circle cx="1612.1" cy="525.54" r="3.3"/><circle cx="1619.62" cy="558.51" r="3.3"/><circle cx="1627.15" cy="570.23" r="3.3"/><circle cx="1634.67" cy="628.78" r="3.3"/><circle cx="1642.2" cy="624.28" r="3.3"/><circle cx="1649.72" cy="571.13" r="3.3"/><circle cx="1657.25" cy="528.78" r="3.3"/><circle cx="1664.77" cy="519.77" r="3.3"/><circle cx="1672.3" cy="509.5" r="3.3"/><circle cx="1679.82" cy="544.64" r="3.3"/><circle cx="1687.35" cy="561.22" r="3.3"/><circle cx="1694.87" cy="623.38" r="3.3"/><circle cx="1702.4" cy="620.68" r="3.3"/>
</g>
<g fill="#fb9a99" stroke="none"><polyline points="1408.92,577.43 1416.45,554.91 1423.97,556.71 1431.5,550.77 1439.02,582.84 1446.55,592.75 1454.07,628.78 1461.6,624.28 1469.12,576.53 1476.65,552.57 1484.17,553.47 1491.7,544.1 1499.22,575.63 1506.75,587.34 1514.27,626.98 1521.8,622.48 1529.32,575.09 1536.85,548.6 1544.37,544.1 1551.9,535.99 1559.42,565.72 1566.95,578.33 1574.47,626.98 1582,620.68 1589.52,572.93 1597.05,542.84 1604.57,533.29 1612.1,523.38 1619.62,557.61 1627.15,567.52 1634.67,625.18 1642.2,619.77 1649.72,568.42 1657.25,532.75 1664.77,517.97 1672.3,508.42 1679.82,538.69 1687.35,548.6 1694.87,623.38 1702.4,619.41" fill="none" stroke="#fb9a99" stroke-width="3.6" stroke-linejoin="round" stroke-linecap="round"/>
<circle cx="1408.92" cy="577.43" r="3.3"/><circle cx="1416.45" cy="554.91" r="3.3"/><circle cx="1423.97" cy="556.71" r="3.3"/><circle cx="1431.5" cy="550.77" r="3.3"/><circle cx="1439.02" cy="582.84" r="3.3"/><circle cx="1446.55" cy="592.75" r="3.3"/><circle cx="1454.07" cy="628.78" r="3.3"/><circle cx="1461.6" cy="624.28" r="3.3"/><circle cx="1469.12" cy="576.53" r="3.3"/><circle cx="1476.65" cy="552.57" r="3.3"/><circle cx="1484.17" cy="553.47" r="3.3"/><circle cx="1491.7" cy="544.1" r="3.3"/><circle cx="1499.22" cy="575.63" r="3.3"/><circle cx="1506.75" cy="587.34" r="3.3"/><circle cx="1514.27" cy="626.98" r="3.3"/><circle cx="1521.8" cy="622.48" r="3.3"/><circle cx="1529.32" cy="575.09" r="3.3"/><circle cx="1536.85" cy="548.6" r="3.3"/><circle cx="1544.37" cy="544.1" r="3.3"/><circle cx="1551.9" cy="535.99" r="3.3"/><circle cx="1559.42" cy="565.72" r="3.3"/><circle cx="1566.95" cy="578.33" r="3.3"/><circle cx="1574.47" cy="626.98" r="3.3"/><circle cx="1582" cy="620.68" r="3.3"/><circle cx="1589.52" cy="572.93" r="3.3"/><circle cx="1597.05" cy="542.84" r="3.3"/><circle cx="1604.57" cy="533.29" r="3.3"/><circle cx="1612.1" cy="523.38" r="3.3"/><circle cx="1619.62" cy="557.61" r="3.3"/><circle cx="1627.15" cy="567.52" r="3.3"/><circle cx="1634.67" cy="625.18" r="3.3"/><circle cx="1642.2" cy="619.77" r="3.3"/><circle cx="1649.72" cy="568.42" r="3.3"/><circle cx="1657.25" cy="532.75" r="3.3"/><circle cx="1664.77" cy="517.97" r="3.3"/><circle cx="1672.3" cy="508.42" r="3.3"/><circle cx="1679.82" cy="538.69" r="3.3"/><circle cx="1687.35" cy="548.6" r="3.3"/><circle cx="1694.87" cy="623.38" r="3.3"/><circle cx="1702.4" cy="619.41" r="3.3"/>
</g>
<g fill="#a6cee3" stroke="none"><polyline points="1408.92,534.19 1416.45,515.81 1423.97,517.07 1431.5,484.64 1439.02,542.84 1446.55,563.02 1454.07,607.7 1461.6,596.89 1469.12,534.55 1476.65,517.07 1484.17,513.83 1491.7,476.89 1499.22,535.99 1506.75,556.35 1514.27,606.62 1521.8,596.89 1529.32,533.83 1536.85,514.37 1544.37,507.16 1551.9,469.32 1559.42,532.03 1566.95,553.65 1574.47,605 1582,596.35 1589.52,533.29 1597.05,512.03 1604.57,501.4 1612.1,463.02 1619.62,525.18 1627.15,547.7 1634.67,604.46 1642.2,595.45 1649.72,531.49 1657.25,507.16 1664.77,496.71 1672.3,459.41 1679.82,521.94 1687.35,546.8 1694.87,603.02 1702.4,594.55" fill="none" stroke="#a6cee3" stroke-width="3.6" stroke-linejoin="round" stroke-linecap="round"/>
<circle cx="1408.92" cy="534.19" r="3.3"/><circle cx="1416.45" cy="515.81" r="3.3"/><circle cx="1423.97" cy="517.07" r="3.3"/><circle cx="1431.5" cy="484.64" r="3.3"/><circle cx="1439.02" cy="542.84" r="3.3"/><circle cx="1446.55" cy="563.02" r="3.3"/><circle cx="1454.07" cy="607.7" r="3.3"/><circle cx="1461.6" cy="596.89" r="3.3"/><circle cx="1469.12" cy="534.55" r="3.3"/><circle cx="1476.65" cy="517.07" r="3.3"/><circle cx="1484.17" cy="513.83" r="3.3"/><circle cx="1491.7" cy="476.89" r="3.3"/><circle cx="1499.22" cy="535.99" r="3.3"/><circle cx="1506.75" cy="556.35" r="3.3"/><circle cx="1514.27" cy="606.62" r="3.3"/><circle cx="1521.8" cy="596.89" r="3.3"/><circle cx="1529.32" cy="533.83" r="3.3"/><circle cx="1536.85" cy="514.37" r="3.3"/><circle cx="1544.37" cy="507.16" r="3.3"/><circle cx="1551.9" cy="469.32" r="3.3"/><circle cx="1559.42" cy="532.03" r="3.3"/><circle cx="1566.95" cy="553.65" r="3.3"/><circle cx="1574.47" cy="605" r="3.3"/><circle cx="1582" cy="596.35" r="3.3"/><circle cx="1589.52" cy="533.29" r="3.3"/><circle cx="1597.05" cy="512.03" r="3.3"/><circle cx="1604.57" cy="501.4" r="3.3"/><circle cx="1612.1" cy="463.02" r="3.3"/><circle cx="1619.62" cy="525.18" r="3.3"/><circle cx="1627.15" cy="547.7" r="3.3"/><circle cx="1634.67" cy="604.46" r="3.3"/><circle cx="1642.2" cy="595.45" r="3.3"/><circle cx="1649.72" cy="531.49" r="3.3"/><circle cx="1657.25" cy="507.16" r="3.3"/><circle cx="1664.77" cy="496.71" r="3.3"/><circle cx="1672.3" cy="459.41" r="3.3"/><circle cx="1679.82" cy="521.94" r="3.3"/><circle cx="1687.35" cy="546.8" r="3.3"/><circle cx="1694.87" cy="603.02" r="3.3"/><circle cx="1702.4" cy="594.55" r="3.3"/>
</g>
<path d="M1401.4 445.3V720.6H1710.2M1392.5 445.3H1401.4M1392.5 582.95H1401.4M1392.5 720.6H1401.4M1401.4 720.6V729.5M1461.6 720.6V729.5M1521.8 720.6V729.5M1582 720.6V729.5M1642.2 720.6V729.5M1702.4 720.6V729.5" fill="none" stroke="#222" stroke-width="1.3"/>
<text transform="translate(1381.5 451.8) scale(0.995 1)" text-anchor="end">0.10</text>
<text transform="translate(1381.5 589.45) scale(0.995 1)" text-anchor="end">0.05</text>
<text transform="translate(1381.5 727.1) scale(0.995 1)" text-anchor="end">0</text>
<text transform="translate(1400.9 753.7) scale(0.995 1)" text-anchor="middle">0</text>
<text transform="translate(1460.5 753.7) scale(0.995 1)" text-anchor="middle">24</text>
<text transform="translate(1520.7 753.7) scale(0.995 1)" text-anchor="middle">48</text>
<text transform="translate(1580.9 753.7) scale(0.995 1)" text-anchor="middle">72</text>
<text transform="translate(1641.1 753.7) scale(0.995 1)" text-anchor="middle">96</text>
<text transform="translate(1701.9 753.7) scale(0.995 1)" text-anchor="middle">120</text>
<text transform="translate(1555.4 789.5) scale(0.98 1)" text-anchor="middle">Forecast time (hours)</text>
<text transform="translate(1555.2 434.7) scale(0.977 1)" text-anchor="middle">DUAOD</text>
<text transform="translate(1324.1 582.95) rotate(-90) scale(0.915 1)" style="font-size:21.7px" text-anchor="middle">RMSE</text>
</g>
<g id="legend">
<path d="M111 232.3H129.3" stroke="#a6cee3" stroke-width="3.4" fill="none"/><circle cx="120.1" cy="232.3" r="3.2" fill="#a6cee3"/>
<text transform="translate(137 239) scale(0.995 1)">CAMS</text>
<path d="M111 261.3H129.3" stroke="#fb9a99" stroke-width="3.4" fill="none"/><circle cx="120.1" cy="261.3" r="3.2" fill="#fb9a99"/>
<text transform="translate(137 268) scale(0.995 1)">AI-GAMFS</text>
<path d="M111 290.3H129.3" stroke="#e31a1c" stroke-width="3.4" fill="none"/><circle cx="120.1" cy="290.3" r="3.2" fill="#e31a1c"/>
<text transform="translate(137 297) scale(0.995 1)">Operational AI-GAMFS</text>
</g>
<text transform="translate(14 23) scale(1.13 1)" style="font-size:25.6px;stroke-width:0.7px" font-weight="bold">a</text>
<text transform="translate(14 427.2) scale(1.13 1)" style="font-size:25.6px;stroke-width:0.9px" font-weight="bold">b</text>
<text transform="translate(14.2 834.4) scale(1.12 1)" style="font-size:25.0px;stroke-width:1.5px" font-weight="bold">c</text>
<g id="map1">
<text transform="translate(236.2 845.3) scale(0.983 1)" text-anchor="middle">RMSE: Operational AI-GAMFS</text>
<g transform="translate(236.5 951.3)"><use href="#basemap"/><g clip-path="url(#globe)"><g stroke="#000" stroke-width="1.15"><circle cx="-91.1" cy="-42.9" r="3.65" fill="#fcbba1"/><circle cx="-87.5" cy="-42.1" r="3.65" fill="#fdcab5"/><circle cx="-108.8" cy="-44.2" r="3.65" fill="#fee1d4"/><circle cx="-79.4" cy="-36.6" r="3.65" fill="#fc9b7c"/><circle cx="-114.8" cy="-49.8" r="3.65" fill="#fee1d4"/><circle cx="-115" cy="-36.1" r="3.65" fill="#fff0e9"/><circle cx="-77.8" cy="-41.4" r="3.65" fill="#fdcab5"/><circle cx="-108.4" cy="-51.5" r="3.65" fill="#fee1d4"/><circle cx="-119" cy="-45.5" r="3.65" fill="#fdcab5"/><circle cx="-91.9" cy="-35.3" r="3.65" fill="#fcbba1"/><circle cx="-86.7" cy="-40.7" r="3.65" fill="#fc9b7c"/><circle cx="-88" cy="-40.1" r="3.65" fill="#fc9b7c"/><circle cx="-90.8" cy="-50.5" r="3.65" fill="#fb7a5a"/><circle cx="-100.2" cy="-51.8" r="3.65" fill="#fff0e9"/><circle cx="-70.4" cy="-47.2" r="3.65" fill="#fb694a"/><circle cx="-65.1" cy="-47.6" r="3.65" fill="#fc9b7c"/><circle cx="-116.2" cy="-41" r="3.65" fill="#fee1d4"/><circle cx="-69.6" cy="-50.7" r="3.65" fill="#fc9b7c"/><circle cx="-115.2" cy="-49" r="3.65" fill="#fee1d4"/><circle cx="-113.2" cy="-51.3" r="3.65" fill="#fee8dd"/><circle cx="-68.4" cy="-53.2" r="3.65" fill="#fcab8f"/><circle cx="-84.1" cy="-45.9" r="3.65" fill="#fc9b7c"/><circle cx="-108.4" cy="-38.2" r="3.65" fill="#fed9c9"/><circle cx="-112.4" cy="-40.6" r="3.65" fill="#fdcab5"/><circle cx="-113.3" cy="-46.6" r="3.65" fill="#fee1d4"/><circle cx="-107" cy="-50.7" r="3.65" fill="#fee8dd"/><circle cx="-100.9" cy="-34.1" r="3.65" fill="#fdcab5"/><circle cx="-107.1" cy="-47.4" r="3.65" fill="#fdcab5"/><circle cx="-106.9" cy="-51" r="3.65" fill="#fee1d4"/><circle cx="-70" cy="-49.1" r="3.65" fill="#f14432"/><circle cx="-115.1" cy="-42.3" r="3.65" fill="#fed9c9"/><circle cx="-105" cy="-41.8" r="3.65" fill="#fee1d4"/><circle cx="-96.5" cy="-45.8" r="3.65" fill="#fdcab5"/><circle cx="-83.1" cy="-34.6" r="3.65" fill="#fcbba1"/><circle cx="-108.9" cy="-53.8" r="3.65" fill="#ffede5"/><circle cx="-104.5" cy="-52.9" r="3.65" fill="#fee5d8"/><circle cx="-105.3" cy="-39" r="3.65" fill="#fed9c9"/><circle cx="-81.6" cy="-50.1" r="3.65" fill="#f03d2d"/><circle cx="-109.4" cy="-38.6" r="3.65" fill="#fdcab5"/><circle cx="-116.5" cy="-51.8" r="3.65" fill="#fed9c9"/><circle cx="-84.1" cy="-35" r="3.65" fill="#fcbba1"/><circle cx="-80.5" cy="-50.4" r="3.65" fill="#f14432"/><circle cx="-60.5" cy="-52.5" r="3.65" fill="#fcab8f"/><circle cx="-109.4" cy="-48" r="3.65" fill="#fee5d8"/><circle cx="-97.1" cy="-33.9" r="3.65" fill="#fff0e9"/><circle cx="-75.4" cy="-42.2" r="3.65" fill="#fed9c9"/><circle cx="-89.2" cy="-38.3" r="3.65" fill="#fc9b7c"/><circle cx="-116" cy="-43.3" r="3.65" fill="#fdcab5"/><circle cx="-72.4" cy="-39" r="3.65" fill="#fb7a5a"/><circle cx="-97.8" cy="-39.5" r="3.65" fill="#fee8dd"/><circle cx="-93.5" cy="-36.7" r="3.65" fill="#fcbba1"/><circle cx="-79.8" cy="-47.7" r="3.65" fill="#f03d2d"/><circle cx="-82.5" cy="-41.6" r="3.65" fill="#fdcab5"/><circle cx="-115.7" cy="-40.7" r="3.65" fill="#fee8dd"/><circle cx="-72.9" cy="-47.5" r="3.65" fill="#fb694a"/><circle cx="-72.5" cy="-42.3" r="3.65" fill="#fb7a5a"/><circle cx="-91.9" cy="-35.4" r="3.65" fill="#fcbba1"/><circle cx="-115.5" cy="-37.7" r="3.65" fill="#fee8dd"/><circle cx="-119" cy="-41.8" r="3.65" fill="#fdcab5"/><circle cx="-89.3" cy="-51.8" r="3.65" fill="#f03d2d"/><circle cx="-117.6" cy="-39" r="3.65" fill="#fee5d8"/><circle cx="-112.1" cy="-36.4" r="3.65" fill="#fed9c9"/><circle cx="-118.6" cy="-46.3" r="3.65" fill="#ffede5"/><circle cx="-119.1" cy="-46.4" r="3.65" fill="#ffede5"/><circle cx="-114.1" cy="-46.6" r="3.65" fill="#fed9c9"/><circle cx="-117.2" cy="-43.1" r="3.65" fill="#fee5d8"/><circle cx="-110.1" cy="-40.3" r="3.65" fill="#ffede5"/><circle cx="-110.5" cy="-37.1" r="3.65" fill="#fff0e9"/><circle cx="-110.3" cy="-38.1" r="3.65" fill="#fee1d4"/><circle cx="-114.7" cy="-37.9" r="3.65" fill="#fee1d4"/><circle cx="-113.7" cy="-43.1" r="3.65" fill="#ffede5"/><circle cx="-116.3" cy="-43.1" r="3.65" fill="#fee1d4"/><circle cx="-116.9" cy="-48.1" r="3.65" fill="#fed9c9"/><circle cx="-110.3" cy="-37.2" r="3.65" fill="#fff0e9"/><circle cx="-113.8" cy="-38" r="3.65" fill="#fdcab5"/><circle cx="-115.2" cy="-47.2" r="3.65" fill="#fdcab5"/><circle cx="-118.4" cy="-41.6" r="3.65" fill="#fee1d4"/><circle cx="-117.7" cy="-42.6" r="3.65" fill="#fee5d8"/><circle cx="-113.1" cy="-43.7" r="3.65" fill="#fee5d8"/><circle cx="-119.3" cy="-42.1" r="3.65" fill="#fff0e9"/><circle cx="-117.9" cy="-46.2" r="3.65" fill="#ffede5"/><circle cx="-118.5" cy="-44.1" r="3.65" fill="#fff0e9"/><circle cx="9.5" cy="-50.9" r="3.65" fill="#fdcab5"/><circle cx="17.3" cy="-65.9" r="3.65" fill="#fed9c9"/><circle cx="1.2" cy="-46.5" r="3.65" fill="#fdd0bc"/><circle cx="18.3" cy="-52.6" r="3.65" fill="#fed9c9"/><circle cx="12.9" cy="-50.8" r="3.65" fill="#fdcab5"/><circle cx="-4" cy="-57.2" r="3.65" fill="#fdd0bc"/><circle cx="-3.3" cy="-43.7" r="3.65" fill="#fdcab5"/><circle cx="-7.6" cy="-46.3" r="3.65" fill="#fed9c9"/><circle cx="-6.9" cy="-50.1" r="3.65" fill="#fdd0bc"/><circle cx="3.8" cy="-58.3" r="3.65" fill="#fcc4ad"/><circle cx="-7.5" cy="-43.5" r="3.65" fill="#fee1d4"/><circle cx="10.9" cy="-67.4" r="3.65" fill="#fdcab5"/><circle cx="-5.4" cy="-57.7" r="3.65" fill="#fcbba1"/><circle cx="-4.5" cy="-60.9" r="3.65" fill="#fdcab5"/><circle cx="15.5" cy="-65.3" r="3.65" fill="#fdcab5"/><circle cx="-3" cy="-46.3" r="3.65" fill="#fcb296"/><circle cx="6.4" cy="-57.9" r="3.65" fill="#fdd0bc"/><circle cx="14.4" cy="-56.2" r="3.65" fill="#fdd0bc"/><circle cx="5.8" cy="-69.1" r="3.65" fill="#fcb296"/><circle cx="19.8" cy="-41.9" r="3.65" fill="#fcb296"/><circle cx="30" cy="-50.8" r="3.65" fill="#fcb296"/><circle cx="4.6" cy="-59.5" r="3.65" fill="#fcb296"/><circle cx="18.3" cy="-50.5" r="3.65" fill="#fcbba1"/><circle cx="-5.3" cy="-63.2" r="3.65" fill="#fdd0bc"/><circle cx="4.9" cy="-55.2" r="3.65" fill="#fdcab5"/><circle cx="23.2" cy="-55.5" r="3.65" fill="#fdd0bc"/><circle cx="-8.8" cy="-46.1" r="3.65" fill="#fdcab5"/><circle cx="7.6" cy="-54.9" r="3.65" fill="#fcbba1"/><circle cx="-0.9" cy="-57.6" r="3.65" fill="#fcb296"/><circle cx="5.9" cy="-47.6" r="3.65" fill="#fdcab5"/><circle cx="-5.8" cy="-54.1" r="3.65" fill="#fed9c9"/><circle cx="-2.7" cy="-49.8" r="3.65" fill="#fcc4ad"/><circle cx="4.1" cy="-51.5" r="3.65" fill="#fdcab5"/><circle cx="-7.9" cy="-56.7" r="3.65" fill="#fdcab5"/><circle cx="-1.4" cy="-61.8" r="3.65" fill="#fed9c9"/><circle cx="-3.1" cy="-43.2" r="3.65" fill="#fcbba1"/><circle cx="4.9" cy="-64.5" r="3.65" fill="#fdd0bc"/><circle cx="20.7" cy="-43.6" r="3.65" fill="#fcbba1"/><circle cx="21.6" cy="-60.1" r="3.65" fill="#fdcab5"/><circle cx="-8.4" cy="-52" r="3.65" fill="#fdcab5"/><circle cx="10.6" cy="-69.3" r="3.65" fill="#fdcab5"/><circle cx="3.2" cy="-47.2" r="3.65" fill="#fcc4ad"/><circle cx="24.1" cy="-51.5" r="3.65" fill="#fdcab5"/><circle cx="-0.6" cy="-54.7" r="3.65" fill="#fcc4ad"/><circle cx="9.6" cy="-51.8" r="3.65" fill="#fcc4ad"/><circle cx="0.8" cy="-42.5" r="3.65" fill="#fcc4ad"/><circle cx="1.9" cy="-44.7" r="3.65" fill="#fee1d4"/><circle cx="1.4" cy="-42.6" r="3.65" fill="#fcc4ad"/><circle cx="11.1" cy="-49.8" r="3.65" fill="#fcc4ad"/><circle cx="18.9" cy="-63.8" r="3.65" fill="#fcb296"/><circle cx="1.7" cy="-62.6" r="3.65" fill="#fdcab5"/><circle cx="18" cy="-49.9" r="3.65" fill="#fed9c9"/><circle cx="-156.8" cy="-22.8" r="3.65" fill="#fee1d4"/><circle cx="-173.4" cy="16.5" r="3.65" fill="#fee5d8"/><circle cx="-111.8" cy="-77.8" r="3.65" fill="#fcab8f"/><circle cx="-118" cy="-72.9" r="3.65" fill="#fdd0bc"/><circle cx="-112" cy="-69.9" r="3.65" fill="#fdd0bc"/><circle cx="-115.1" cy="-72.7" r="3.65" fill="#fcab8f"/><circle cx="-91.5" cy="-71.7" r="3.65" fill="#67000d"/><circle cx="-92" cy="-62.4" r="3.65" fill="#b61319"/><circle cx="-94.1" cy="-65.2" r="3.65" fill="#8e0912"/><circle cx="-77.9" cy="-67.6" r="3.65" fill="#fb694a"/><circle cx="-79.4" cy="-59.6" r="3.65" fill="#ca181d"/><circle cx="-65.9" cy="-83.4" r="3.65" fill="#fee5d8"/><circle cx="-54.9" cy="-88.2" r="3.65" fill="#fee1d4"/><circle cx="-46.5" cy="-85.3" r="3.65" fill="#fee1d4"/><circle cx="-38.4" cy="-76" r="3.65" fill="#f03d2d"/><circle cx="-115.1" cy="-37" r="3.65" fill="#fdcab5"/><circle cx="-114.1" cy="-40.1" r="3.65" fill="#fee8dd"/><circle cx="-112" cy="-47.3" r="3.65" fill="#fee1d4"/><circle cx="-106.9" cy="-49.3" r="3.65" fill="#fee5d8"/><circle cx="-102.3" cy="-49.3" r="3.65" fill="#fed9c9"/><circle cx="-107.9" cy="-37" r="3.65" fill="#fee8dd"/><circle cx="-103.3" cy="-40.1" r="3.65" fill="#fff0e9"/><circle cx="-108.5" cy="-42.6" r="3.65" fill="#ffede5"/><circle cx="-116.7" cy="-43.4" r="3.65" fill="#fee5d8"/><circle cx="-106.7" cy="-58.6" r="3.65" fill="#fee1d4"/><circle cx="-100.5" cy="-57.5" r="3.65" fill="#fee5d8"/><circle cx="-105.9" cy="-53.4" r="3.65" fill="#fee8dd"/><circle cx="-111.5" cy="-53.2" r="3.65" fill="#fff0e9"/><circle cx="-97.7" cy="-33.9" r="3.65" fill="#fff0e9"/><circle cx="-94.1" cy="-34.4" r="3.65" fill="#fed9c9"/><circle cx="-97.7" cy="-47.3" r="3.65" fill="#fee5d8"/><circle cx="-91.5" cy="-45.2" r="3.65" fill="#fcbba1"/><circle cx="-93" cy="-54.5" r="3.65" fill="#f6583e"/><circle cx="-94.6" cy="-54.5" r="3.65" fill="#e53228"/><circle cx="-91" cy="-41.1" r="3.65" fill="#fcbba1"/><circle cx="-82.8" cy="-31.3" r="3.65" fill="#fdcab5"/><circle cx="-72.5" cy="-43.7" r="3.65" fill="#fc9b7c"/><circle cx="-73.5" cy="-50.9" r="3.65" fill="#fb7a5a"/><circle cx="-79.7" cy="-49.3" r="3.65" fill="#f14432"/><circle cx="-83.8" cy="-46.2" r="3.65" fill="#fcbba1"/><circle cx="-81.2" cy="-53.4" r="3.65" fill="#f03d2d"/><circle cx="-65.8" cy="-50.3" r="3.65" fill="#fc8a6a"/><circle cx="-69.9" cy="-47.3" r="3.65" fill="#fcab8f"/><circle cx="-61.2" cy="-56.5" r="3.65" fill="#fcab8f"/><circle cx="-66.8" cy="-57.5" r="3.65" fill="#fcab8f"/><circle cx="-58.4" cy="-51.6" r="3.65" fill="#fc9b7c"/><circle cx="-86.4" cy="-37" r="3.65" fill="#fcbba1"/><circle cx="-75.6" cy="-41.6" r="3.65" fill="#fcbba1"/><circle cx="-82.8" cy="-43.2" r="3.65" fill="#fcbba1"/><circle cx="-95.1" cy="-39" r="3.65" fill="#fcbba1"/><circle cx="-87.9" cy="-55.5" r="3.65" fill="#f6583e"/><circle cx="-79.7" cy="-32.9" r="3.65" fill="#fcbba1"/><circle cx="-63.2" cy="-37.5" r="3.65" fill="#fee1d4"/><circle cx="-66.2" cy="-22" r="3.65" fill="#fee1d4"/><circle cx="-68" cy="-21" r="3.65" fill="#fee5d8"/><circle cx="-26.5" cy="-45.4" r="3.65" fill="#fcab8f"/><circle cx="-92.1" cy="1" r="3.65" fill="#fee1d4"/><circle cx="-80.5" cy="0.2" r="3.65" fill="#fdcab5"/><circle cx="-60.5" cy="2.5" r="3.65" fill="#fc8a6a"/><circle cx="-76.9" cy="14.1" r="3.65" fill="#fdcab5"/><circle cx="-69.2" cy="19.1" r="3.65" fill="#fee5d8"/><circle cx="-64" cy="20.6" r="3.65" fill="#fee5d8"/><circle cx="-70.2" cy="28.7" r="3.65" fill="#fdcab5"/><circle cx="-54.2" cy="40.3" r="3.65" fill="#fee5d8"/><circle cx="-44.4" cy="73.3" r="3.65" fill="#fee5d8"/><circle cx="17" cy="81.2" r="3.65" fill="#fee5d8"/><circle cx="38.8" cy="93.5" r="3.65" fill="#fed9c9"/><circle cx="-14.6" cy="9.3" r="3.65" fill="#fcc4ad"/><circle cx="-17.5" cy="-33.4" r="3.65" fill="#fc9474"/><circle cx="-16.2" cy="-32.8" r="3.65" fill="#fc9474"/><circle cx="-25.2" cy="-19.4" r="3.65" fill="#fca183"/><circle cx="5.6" cy="-26.7" r="3.65" fill="#fb694a"/><circle cx="-0.2" cy="-7.2" r="3.65" fill="#f03d2d"/><circle cx="5" cy="-10" r="3.65" fill="#e83429"/><circle cx="11.8" cy="-78.3" r="3.65" fill="#fdd0bc"/><circle cx="20.6" cy="-76.8" r="3.65" fill="#fee1d4"/><circle cx="22.1" cy="-71.9" r="3.65" fill="#fee1d4"/><circle cx="34.4" cy="-39" r="3.65" fill="#fdcab5"/><circle cx="32.4" cy="-41.6" r="3.65" fill="#fcbba1"/><circle cx="26.2" cy="-49.8" r="3.65" fill="#fed9c9"/><circle cx="22.1" cy="-50.3" r="3.65" fill="#fdcab5"/><circle cx="21.1" cy="-45.2" r="3.65" fill="#fcb296"/><circle cx="24.9" cy="-41.1" r="3.65" fill="#fee1d4"/><circle cx="-9.2" cy="-44.4" r="3.65" fill="#fdcab5"/><circle cx="-8.2" cy="-50.3" r="3.65" fill="#fdcab5"/><circle cx="0" cy="-45.7" r="3.65" fill="#fed9c9"/><circle cx="-1.8" cy="-42.6" r="3.65" fill="#fcb296"/><circle cx="-5.1" cy="-58.3" r="3.65" fill="#fdcab5"/><circle cx="-4.1" cy="-65" r="3.65" fill="#fed9c9"/><circle cx="-1.3" cy="-61.6" r="3.65" fill="#fdcab5"/><circle cx="5.1" cy="-50.3" r="3.65" fill="#fdcab5"/><circle cx="11.8" cy="-47.8" r="3.65" fill="#fdcab5"/><circle cx="12.3" cy="-52.4" r="3.65" fill="#fcb296"/><circle cx="18" cy="-55.5" r="3.65" fill="#fdd0bc"/><circle cx="24.1" cy="-63.2" r="3.65" fill="#fed9c9"/><circle cx="11.3" cy="-59.6" r="3.65" fill="#fdcab5"/><circle cx="4.1" cy="-58.8" r="3.65" fill="#fcb296"/><circle cx="6.9" cy="-67.3" r="3.65" fill="#fdd0bc"/><circle cx="14.6" cy="-67.3" r="3.65" fill="#fed9c9"/><circle cx="18.8" cy="-60.4" r="3.65" fill="#fcc4ad"/><circle cx="8.2" cy="-53.2" r="3.65" fill="#fcc4ad"/><circle cx="25.2" cy="-54.7" r="3.65" fill="#fcbba1"/><circle cx="13.9" cy="-41.1" r="3.65" fill="#fed9c9"/><circle cx="10.5" cy="-38.8" r="3.65" fill="#fdd0bc"/><circle cx="35.5" cy="-35.7" r="3.65" fill="#fcbba1"/><circle cx="30.8" cy="-34.9" r="3.65" fill="#fc9474"/><circle cx="39.4" cy="-26" r="3.65" fill="#fca183"/><circle cx="35.4" cy="0.6" r="3.65" fill="#fcab8f"/><circle cx="41.4" cy="3.5" r="3.65" fill="#fcbba1"/><circle cx="31.9" cy="11.8" r="3.65" fill="#fc9474"/><circle cx="23.8" cy="17.7" r="3.65" fill="#fcab8f"/><circle cx="23.9" cy="23.3" r="3.65" fill="#fee1d4"/><circle cx="27.9" cy="30" r="3.65" fill="#fcab8f"/><circle cx="31.6" cy="29" r="3.65" fill="#fcab8f"/><circle cx="21" cy="33.3" r="3.65" fill="#fee8dd"/><circle cx="56" cy="24.3" r="3.65" fill="#fee8dd"/><circle cx="74.4" cy="44" r="3.65" fill="#fee8dd"/><circle cx="67" cy="-29" r="3.65" fill="#fc9474"/><circle cx="72.9" cy="-36.7" r="3.65" fill="#e53228"/><circle cx="76.4" cy="-32.9" r="3.65" fill="#e53228"/><circle cx="86" cy="-33.2" r="3.65" fill="#fee8dd"/><circle cx="94.5" cy="-32.3" r="3.65" fill="#e53228"/><circle cx="89.8" cy="-28.2" r="3.65" fill="#d92523"/><circle cx="91.2" cy="-25.9" r="3.65" fill="#ca181d"/><circle cx="78.5" cy="-12.8" r="3.65" fill="#fb694a"/><circle cx="102.2" cy="-25.3" r="3.65" fill="#fc9474"/><circle cx="99.8" cy="-22.8" r="3.65" fill="#fee1d4"/><circle cx="106" cy="-20" r="3.65" fill="#fcab8f"/><circle cx="107.2" cy="-16.5" r="3.65" fill="#fcab8f"/><circle cx="102.2" cy="-16" r="3.65" fill="#fc8a6a"/><circle cx="103.2" cy="-8.2" r="3.65" fill="#fcbba1"/><circle cx="106.6" cy="-1.3" r="3.65" fill="#fc9474"/><circle cx="102.9" cy="0.2" r="3.65" fill="#fc9474"/><circle cx="109.8" cy="7.2" r="3.65" fill="#d92523"/><circle cx="110.1" cy="-46.5" r="3.65" fill="#e53228"/><circle cx="131.6" cy="-50.3" r="3.65" fill="#fc9474"/><circle cx="121.6" cy="-45.7" r="3.65" fill="#fb7a5a"/><circle cx="122.9" cy="-38.8" r="3.65" fill="#fdcab5"/><circle cx="124.8" cy="-41.5" r="3.65" fill="#fca183"/><circle cx="131" cy="-39.8" r="3.65" fill="#fdd0bc"/><circle cx="135" cy="-41.9" r="3.65" fill="#fdd0bc"/><circle cx="127.9" cy="-31.3" r="3.65" fill="#fdd0bc"/><circle cx="114.8" cy="-25.9" r="3.65" fill="#fb694a"/><circle cx="121" cy="-27.5" r="3.65" fill="#fb7a5a"/><circle cx="128.1" cy="-7.8" r="3.65" fill="#fcc2aa"/><circle cx="171.6" cy="-10.3" r="3.65" fill="#fee8dd"/><circle cx="135.8" cy="14.6" r="3.65" fill="#fcbba1"/><circle cx="131" cy="18.7" r="3.65" fill="#fcab8f"/><circle cx="114.8" cy="25.8" r="3.65" fill="#fee1d4"/><circle cx="119.8" cy="36.5" r="3.65" fill="#fff0e9"/><circle cx="139.4" cy="36.2" r="3.65" fill="#fff0e9"/><circle cx="142.9" cy="41.8" r="3.65" fill="#fff0e9"/><circle cx="147.5" cy="36.8" r="3.65" fill="#fff0e9"/><circle cx="168.1" cy="42.7" r="3.65" fill="#fee8dd"/><circle cx="-113.7" cy="-80.8" r="3.65" fill="#fcbba1"/><circle cx="-22.8" cy="-19.8" r="3.65" fill="#fca183"/><circle cx="15.8" cy="22.5" r="3.65" fill="#fee1d4"/><circle cx="66.4" cy="-44.8" r="3.65" fill="#67000d"/><circle cx="73.6" cy="-49.6" r="3.65" fill="#fee8dd"/><circle cx="75.2" cy="-30.6" r="3.65" fill="#fb694a"/><circle cx="101.3" cy="-5.6" r="3.65" fill="#fcab8f"/><circle cx="119.6" cy="-44.2" r="3.65" fill="#fca183"/><circle cx="132.5" cy="-38.1" r="3.65" fill="#fdd0bc"/><circle cx="124.4" cy="-39.8" r="3.65" fill="#fdcab5"/><circle cx="118.3" cy="-40.8" r="3.65" fill="#fcab8f"/><circle cx="102.7" cy="-24.6" r="3.65" fill="#fc9474"/><circle cx="104.7" cy="-13.7" r="3.65" fill="#fca183"/><circle cx="-66.8" cy="-57" r="3.65" fill="#980c13"/><circle cx="-93.2" cy="-51.6" r="3.65" fill="#f03d2d"/><circle cx="8" cy="-57" r="3.65" fill="#fff0e9"/></g></g><path d="M98.6 -94L102.1 -93L106 -91.8L110.4 -90.2L115.1 -88.3L120 -86.2L124.7 -84L129.1 -81.7L133.2 -79.3L137 -76.8L140.8 -74.3L144.4 -71.7L148 -69.1L151.4 -66.4L154.7 -63.6L157.9 -60.9L160.8 -58.1L163.5 -55.2L166.1 -52.4L168.5 -49.5L170.8 -46.6L172.8 -43.7L174.7 -40.8L176.4 -37.9L177.9 -35L179.2 -32.1L180.3 -29.1L181.2 -26.2L182 -23.3L182.8 -20.4L183.4 -17.5L184 -14.6L184.4 -11.7L184.8 -8.7L185 -5.8L185.2 -2.9L185.3 0L185.2 2.9L185 5.8L184.8 8.7L184.4 11.7L184 14.6L183.4 17.5L182.8 20.4L182 23.3L181.2 26.2L180.3 29.1L179.2 32.1L177.9 35L176.4 37.9L174.7 40.8L172.8 43.7L170.8 46.6L168.5 49.5L166.1 52.4L163.5 55.2L160.8 58.1L157.9 60.9L154.7 63.6L151.4 66.4L148 69.1L144.4 71.7L140.8 74.3L137 76.8L133.2 79.3L129.1 81.7L124.7 84L120 86.2L115.1 88.3L110.4 90.2L106 91.8L102.1 93L98.6 94L-98.6 94L-102.1 93L-106 91.8L-110.4 90.2L-115.1 88.3L-120 86.2L-124.7 84L-129.1 81.7L-133.2 79.3L-137 76.8L-140.8 74.3L-144.4 71.7L-148 69.1L-151.4 66.4L-154.7 63.6L-157.9 60.9L-160.8 58.1L-163.5 55.2L-166.1 52.4L-168.5 49.5L-170.8 46.6L-172.8 43.7L-174.7 40.8L-176.4 37.9L-177.9 35L-179.2 32.1L-180.3 29.1L-181.2 26.2L-182 23.3L-182.8 20.4L-183.4 17.5L-184 14.6L-184.4 11.7L-184.8 8.7L-185 5.8L-185.2 2.9L-185.3 0L-185.2 -2.9L-185 -5.8L-184.8 -8.7L-184.4 -11.7L-184 -14.6L-183.4 -17.5L-182.8 -20.4L-182 -23.3L-181.2 -26.2L-180.3 -29.1L-179.2 -32.1L-177.9 -35L-176.4 -37.9L-174.7 -40.8L-172.8 -43.7L-170.8 -46.6L-168.5 -49.5L-166.1 -52.4L-163.5 -55.2L-160.8 -58.1L-157.9 -60.9L-154.7 -63.6L-151.4 -66.4L-148 -69.1L-144.4 -71.7L-140.8 -74.3L-137 -76.8L-133.2 -79.3L-129.1 -81.7L-124.7 -84L-120 -86.2L-115.1 -88.3L-110.4 -90.2L-106 -91.8L-102.1 -93L-98.6 -94Z" fill="none" stroke="#000" stroke-width="1.15"/></g>
<rect x="81.2" y="1059.1" width="318" height="18.5" fill="url(#Reds)"/><rect x="81.2" y="1059.1" width="318" height="18.5" stroke="#000" stroke-width="1.1" fill="none"/><text transform="translate(81.2 1112) scale(0.985 1)" text-anchor="middle">0</text><text transform="translate(160.7 1112) scale(0.985 1)" text-anchor="middle">0.1</text><text transform="translate(240.2 1112) scale(0.985 1)" text-anchor="middle">0.2</text><text transform="translate(319.7 1112) scale(0.985 1)" text-anchor="middle">0.3</text><text transform="translate(399.2 1112) scale(0.985 1)" text-anchor="middle">0.4</text><path d="M81.2 1077.6V1087.3M160.7 1077.6V1087.3M240.2 1077.6V1087.3M319.7 1077.6V1087.3M399.2 1077.6V1087.3" stroke="#000" stroke-width="1.2" fill="none"/><text transform="translate(240 1145.2) scale(0.995 1)" text-anchor="middle">AOD</text>
</g>
<g id="map2">
<text transform="translate(665.7 845.3) scale(0.983 1)" text-anchor="middle">RMSE: Operational AI-GAMFS minus CAMS</text>
<g transform="translate(666 951.3)"><use href="#basemap"/><g clip-path="url(#globe)"><g stroke="#000" stroke-width="1.15"><circle cx="-91.1" cy="-42.9" r="3.65" fill="#f7f6f6"/><circle cx="-87.5" cy="-42.1" r="3.65" fill="#053061"/><circle cx="-108.8" cy="-44.2" r="3.65" fill="#0d3f76"/><circle cx="-79.4" cy="-36.6" r="3.65" fill="#0d3f76"/><circle cx="-114.8" cy="-49.8" r="3.65" fill="#053061"/><circle cx="-115" cy="-36.1" r="3.65" fill="#15508d"/><circle cx="-77.8" cy="-41.4" r="3.65" fill="#0d3f76"/><circle cx="-108.4" cy="-51.5" r="3.65" fill="#2065ab"/><circle cx="-119" cy="-45.5" r="3.65" fill="#0d3f76"/><circle cx="-91.9" cy="-35.3" r="3.65" fill="#053061"/><circle cx="-86.7" cy="-40.7" r="3.65" fill="#053061"/><circle cx="-88" cy="-40.1" r="3.65" fill="#f7f6f6"/><circle cx="-90.8" cy="-50.5" r="3.65" fill="#053061"/><circle cx="-100.2" cy="-51.8" r="3.65" fill="#e4eef4"/><circle cx="-70.4" cy="-47.2" r="3.65" fill="#f7f6f6"/><circle cx="-65.1" cy="-47.6" r="3.65" fill="#053061"/><circle cx="-116.2" cy="-41" r="3.65" fill="#053061"/><circle cx="-69.6" cy="-50.7" r="3.65" fill="#053061"/><circle cx="-115.2" cy="-49" r="3.65" fill="#0a3b70"/><circle cx="-113.2" cy="-51.3" r="3.65" fill="#f7f6f6"/><circle cx="-68.4" cy="-53.2" r="3.65" fill="#053061"/><circle cx="-84.1" cy="-45.9" r="3.65" fill="#053061"/><circle cx="-108.4" cy="-38.2" r="3.65" fill="#15508d"/><circle cx="-112.4" cy="-40.6" r="3.65" fill="#053061"/><circle cx="-113.3" cy="-46.6" r="3.65" fill="#053061"/><circle cx="-107" cy="-50.7" r="3.65" fill="#e4eef4"/><circle cx="-100.9" cy="-34.1" r="3.65" fill="#053061"/><circle cx="-107.1" cy="-47.4" r="3.65" fill="#15508d"/><circle cx="-106.9" cy="-51" r="3.65" fill="#90c4dd"/><circle cx="-70" cy="-49.1" r="3.65" fill="#b1d5e7"/><circle cx="-115.1" cy="-42.3" r="3.65" fill="#0a3b70"/><circle cx="-105" cy="-41.8" r="3.65" fill="#0a3b70"/><circle cx="-96.5" cy="-45.8" r="3.65" fill="#0a3b70"/><circle cx="-83.1" cy="-34.6" r="3.65" fill="#0d3f76"/><circle cx="-108.9" cy="-53.8" r="3.65" fill="#6bacd1"/><circle cx="-104.5" cy="-52.9" r="3.65" fill="#6bacd1"/><circle cx="-105.3" cy="-39" r="3.65" fill="#124984"/><circle cx="-81.6" cy="-50.1" r="3.65" fill="#fae9df"/><circle cx="-109.4" cy="-38.6" r="3.65" fill="#0a3b70"/><circle cx="-116.5" cy="-51.8" r="3.65" fill="#e4eef4"/><circle cx="-84.1" cy="-35" r="3.65" fill="#053061"/><circle cx="-80.5" cy="-50.4" r="3.65" fill="#67001f"/><circle cx="-60.5" cy="-52.5" r="3.65" fill="#053061"/><circle cx="-109.4" cy="-48" r="3.65" fill="#053061"/><circle cx="-97.1" cy="-33.9" r="3.65" fill="#0a3b70"/><circle cx="-75.4" cy="-42.2" r="3.65" fill="#0d3f76"/><circle cx="-89.2" cy="-38.3" r="3.65" fill="#053061"/><circle cx="-116" cy="-43.3" r="3.65" fill="#053061"/><circle cx="-72.4" cy="-39" r="3.65" fill="#053061"/><circle cx="-97.8" cy="-39.5" r="3.65" fill="#053061"/><circle cx="-93.5" cy="-36.7" r="3.65" fill="#053061"/><circle cx="-79.8" cy="-47.7" r="3.65" fill="#f7f6f6"/><circle cx="-82.5" cy="-41.6" r="3.65" fill="#053061"/><circle cx="-115.7" cy="-40.7" r="3.65" fill="#90c4dd"/><circle cx="-72.9" cy="-47.5" r="3.65" fill="#053061"/><circle cx="-72.5" cy="-42.3" r="3.65" fill="#90c4dd"/><circle cx="-91.9" cy="-35.4" r="3.65" fill="#0a3b70"/><circle cx="-115.5" cy="-37.7" r="3.65" fill="#053061"/><circle cx="-119" cy="-41.8" r="3.65" fill="#053061"/><circle cx="-89.3" cy="-51.8" r="3.65" fill="#053061"/><circle cx="-117.6" cy="-39" r="3.65" fill="#90c4dd"/><circle cx="-112.1" cy="-36.4" r="3.65" fill="#90c4dd"/><circle cx="-118.6" cy="-46.3" r="3.65" fill="#053061"/><circle cx="-119.1" cy="-46.4" r="3.65" fill="#15508d"/><circle cx="-114.1" cy="-46.6" r="3.65" fill="#0d3f76"/><circle cx="-117.2" cy="-43.1" r="3.65" fill="#15508d"/><circle cx="-110.1" cy="-40.3" r="3.65" fill="#0a3b70"/><circle cx="-110.5" cy="-37.1" r="3.65" fill="#053061"/><circle cx="-110.3" cy="-38.1" r="3.65" fill="#15508d"/><circle cx="-114.7" cy="-37.9" r="3.65" fill="#15508d"/><circle cx="-113.7" cy="-43.1" r="3.65" fill="#053061"/><circle cx="-116.3" cy="-43.1" r="3.65" fill="#15508d"/><circle cx="-116.9" cy="-48.1" r="3.65" fill="#053061"/><circle cx="-110.3" cy="-37.2" r="3.65" fill="#053061"/><circle cx="-113.8" cy="-38" r="3.65" fill="#15508d"/><circle cx="-115.2" cy="-47.2" r="3.65" fill="#0d3f76"/><circle cx="-118.4" cy="-41.6" r="3.65" fill="#90c4dd"/><circle cx="-117.7" cy="-42.6" r="3.65" fill="#053061"/><circle cx="-113.1" cy="-43.7" r="3.65" fill="#053061"/><circle cx="-119.3" cy="-42.1" r="3.65" fill="#90c4dd"/><circle cx="-117.9" cy="-46.2" r="3.65" fill="#90c4dd"/><circle cx="-118.5" cy="-44.1" r="3.65" fill="#0d3f76"/><circle cx="9.5" cy="-50.9" r="3.65" fill="#6bacd1"/><circle cx="17.3" cy="-65.9" r="3.65" fill="#0d3f76"/><circle cx="1.2" cy="-46.5" r="3.65" fill="#d1e5f0"/><circle cx="18.3" cy="-52.6" r="3.65" fill="#0d3f76"/><circle cx="12.9" cy="-50.8" r="3.65" fill="#b1d5e7"/><circle cx="-4" cy="-57.2" r="3.65" fill="#327cb7"/><circle cx="-3.3" cy="-43.7" r="3.65" fill="#e4eef4"/><circle cx="-7.6" cy="-46.3" r="3.65" fill="#fddbc7"/><circle cx="-6.9" cy="-50.1" r="3.65" fill="#e4eef4"/><circle cx="3.8" cy="-58.3" r="3.65" fill="#053061"/><circle cx="-7.5" cy="-43.5" r="3.65" fill="#b1d5e7"/><circle cx="10.9" cy="-67.4" r="3.65" fill="#2065ab"/><circle cx="-5.4" cy="-57.7" r="3.65" fill="#7c0722"/><circle cx="-4.5" cy="-60.9" r="3.65" fill="#4393c3"/><circle cx="15.5" cy="-65.3" r="3.65" fill="#1b5a9c"/><circle cx="-3" cy="-46.3" r="3.65" fill="#f7f6f6"/><circle cx="6.4" cy="-57.9" r="3.65" fill="#0d3f76"/><circle cx="14.4" cy="-56.2" r="3.65" fill="#327cb7"/><circle cx="5.8" cy="-69.1" r="3.65" fill="#2065ab"/><circle cx="19.8" cy="-41.9" r="3.65" fill="#6bacd1"/><circle cx="30" cy="-50.8" r="3.65" fill="#e4eef4"/><circle cx="4.6" cy="-59.5" r="3.65" fill="#1b5a9c"/><circle cx="18.3" cy="-50.5" r="3.65" fill="#6bacd1"/><circle cx="-5.3" cy="-63.2" r="3.65" fill="#2065ab"/><circle cx="4.9" cy="-55.2" r="3.65" fill="#053061"/><circle cx="23.2" cy="-55.5" r="3.65" fill="#124984"/><circle cx="-8.8" cy="-46.1" r="3.65" fill="#d1e5f0"/><circle cx="7.6" cy="-54.9" r="3.65" fill="#2065ab"/><circle cx="-0.9" cy="-57.6" r="3.65" fill="#327cb7"/><circle cx="5.9" cy="-47.6" r="3.65" fill="#d1e5f0"/><circle cx="-5.8" cy="-54.1" r="3.65" fill="#4393c3"/><circle cx="-2.7" cy="-49.8" r="3.65" fill="#e4eef4"/><circle cx="4.1" cy="-51.5" r="3.65" fill="#2065ab"/><circle cx="-7.9" cy="-56.7" r="3.65" fill="#f3a481"/><circle cx="-1.4" cy="-61.8" r="3.65" fill="#327cb7"/><circle cx="-3.1" cy="-43.2" r="3.65" fill="#90c4dd"/><circle cx="4.9" cy="-64.5" r="3.65" fill="#0d3f76"/><circle cx="20.7" cy="-43.6" r="3.65" fill="#6bacd1"/><circle cx="21.6" cy="-60.1" r="3.65" fill="#053061"/><circle cx="-8.4" cy="-52" r="3.65" fill="#f3a481"/><circle cx="10.6" cy="-69.3" r="3.65" fill="#2065ab"/><circle cx="3.2" cy="-47.2" r="3.65" fill="#2065ab"/><circle cx="24.1" cy="-51.5" r="3.65" fill="#b1d5e7"/><circle cx="-0.6" cy="-54.7" r="3.65" fill="#4393c3"/><circle cx="9.6" cy="-51.8" r="3.65" fill="#e4eef4"/><circle cx="0.8" cy="-42.5" r="3.65" fill="#fddbc7"/><circle cx="1.9" cy="-44.7" r="3.65" fill="#90c4dd"/><circle cx="1.4" cy="-42.6" r="3.65" fill="#f7f6f6"/><circle cx="11.1" cy="-49.8" r="3.65" fill="#d1e5f0"/><circle cx="18.9" cy="-63.8" r="3.65" fill="#0a3b70"/><circle cx="1.7" cy="-62.6" r="3.65" fill="#053061"/><circle cx="18" cy="-49.9" r="3.65" fill="#124984"/><circle cx="-156.8" cy="-22.8" r="3.65" fill="#90c4dd"/><circle cx="-173.4" cy="16.5" r="3.65" fill="#a5cee3"/><circle cx="-111.8" cy="-77.8" r="3.65" fill="#fce0d0"/><circle cx="-118" cy="-72.9" r="3.65" fill="#053061"/><circle cx="-112" cy="-69.9" r="3.65" fill="#0d3f76"/><circle cx="-115.1" cy="-72.7" r="3.65" fill="#0a3b70"/><circle cx="-91.5" cy="-71.7" r="3.65" fill="#053061"/><circle cx="-92" cy="-62.4" r="3.65" fill="#0d3f76"/><circle cx="-94.1" cy="-65.2" r="3.65" fill="#0a3b70"/><circle cx="-77.9" cy="-67.6" r="3.65" fill="#0a3b70"/><circle cx="-79.4" cy="-59.6" r="3.65" fill="#67001f"/><circle cx="-65.9" cy="-83.4" r="3.65" fill="#ddebf2"/><circle cx="-54.9" cy="-88.2" r="3.65" fill="#fddbc7"/><circle cx="-46.5" cy="-85.3" r="3.65" fill="#90c4dd"/><circle cx="-38.4" cy="-76" r="3.65" fill="#3f8ec0"/><circle cx="-115.1" cy="-37" r="3.65" fill="#124984"/><circle cx="-114.1" cy="-40.1" r="3.65" fill="#053061"/><circle cx="-112" cy="-47.3" r="3.65" fill="#124984"/><circle cx="-106.9" cy="-49.3" r="3.65" fill="#124984"/><circle cx="-102.3" cy="-49.3" r="3.65" fill="#0a3b70"/><circle cx="-107.9" cy="-37" r="3.65" fill="#053061"/><circle cx="-103.3" cy="-40.1" r="3.65" fill="#0d3f76"/><circle cx="-108.5" cy="-42.6" r="3.65" fill="#0a3b70"/><circle cx="-116.7" cy="-43.4" r="3.65" fill="#0d3f76"/><circle cx="-106.7" cy="-58.6" r="3.65" fill="#90c4dd"/><circle cx="-100.5" cy="-57.5" r="3.65" fill="#e4eef4"/><circle cx="-105.9" cy="-53.4" r="3.65" fill="#2065ab"/><circle cx="-111.5" cy="-53.2" r="3.65" fill="#d1e5f0"/><circle cx="-97.7" cy="-33.9" r="3.65" fill="#053061"/><circle cx="-94.1" cy="-34.4" r="3.65" fill="#0a3b70"/><circle cx="-97.7" cy="-47.3" r="3.65" fill="#0d3f76"/><circle cx="-91.5" cy="-45.2" r="3.65" fill="#0a3b70"/><circle cx="-93" cy="-54.5" r="3.65" fill="#15508d"/><circle cx="-94.6" cy="-54.5" r="3.65" fill="#124984"/><circle cx="-91" cy="-41.1" r="3.65" fill="#0a3b70"/><circle cx="-82.8" cy="-31.3" r="3.65" fill="#90c4dd"/><circle cx="-72.5" cy="-43.7" r="3.65" fill="#0a3b70"/><circle cx="-73.5" cy="-50.9" r="3.65" fill="#053061"/><circle cx="-79.7" cy="-49.3" r="3.65" fill="#67001f"/><circle cx="-83.8" cy="-46.2" r="3.65" fill="#fae9df"/><circle cx="-81.2" cy="-53.4" r="3.65" fill="#67001f"/><circle cx="-65.8" cy="-50.3" r="3.65" fill="#053061"/><circle cx="-69.9" cy="-47.3" r="3.65" fill="#b1d5e7"/><circle cx="-61.2" cy="-56.5" r="3.65" fill="#b1d5e7"/><circle cx="-66.8" cy="-57.5" r="3.65" fill="#0a3b70"/><circle cx="-58.4" cy="-51.6" r="3.65" fill="#0a3b70"/><circle cx="-86.4" cy="-37" r="3.65" fill="#90c4dd"/><circle cx="-75.6" cy="-41.6" r="3.65" fill="#124984"/><circle cx="-82.8" cy="-43.2" r="3.65" fill="#f7f6f6"/><circle cx="-95.1" cy="-39" r="3.65" fill="#053061"/><circle cx="-87.9" cy="-55.5" r="3.65" fill="#0d3f76"/><circle cx="-79.7" cy="-32.9" r="3.65" fill="#124984"/><circle cx="-63.2" cy="-37.5" r="3.65" fill="#d1e5f0"/><circle cx="-66.2" cy="-22" r="3.65" fill="#c5dfec"/><circle cx="-68" cy="-21" r="3.65" fill="#b8d8e9"/><circle cx="-26.5" cy="-45.4" r="3.65" fill="#e48066"/><circle cx="-92.1" cy="1" r="3.65" fill="#053061"/><circle cx="-80.5" cy="0.2" r="3.65" fill="#fddbc7"/><circle cx="-60.5" cy="2.5" r="3.65" fill="#fce0d0"/><circle cx="-76.9" cy="14.1" r="3.65" fill="#eb9172"/><circle cx="-69.2" cy="19.1" r="3.65" fill="#053061"/><circle cx="-64" cy="20.6" r="3.65" fill="#b1d5e7"/><circle cx="-70.2" cy="28.7" r="3.65" fill="#7c0722"/><circle cx="-54.2" cy="40.3" r="3.65" fill="#fddbc7"/><circle cx="-44.4" cy="73.3" r="3.65" fill="#fbd0b9"/><circle cx="17" cy="81.2" r="3.65" fill="#c5dfec"/><circle cx="38.8" cy="93.5" r="3.65" fill="#fddbc7"/><circle cx="-14.6" cy="9.3" r="3.65" fill="#cf5246"/><circle cx="-17.5" cy="-33.4" r="3.65" fill="#053061"/><circle cx="-16.2" cy="-32.8" r="3.65" fill="#0a3b70"/><circle cx="-25.2" cy="-19.4" r="3.65" fill="#fae9df"/><circle cx="5.6" cy="-26.7" r="3.65" fill="#eff3f5"/><circle cx="-0.2" cy="-7.2" r="3.65" fill="#053061"/><circle cx="5" cy="-10" r="3.65" fill="#0a3b70"/><circle cx="11.8" cy="-78.3" r="3.65" fill="#327cb7"/><circle cx="20.6" cy="-76.8" r="3.65" fill="#b1d5e7"/><circle cx="22.1" cy="-71.9" r="3.65" fill="#4393c3"/><circle cx="34.4" cy="-39" r="3.65" fill="#6bacd1"/><circle cx="32.4" cy="-41.6" r="3.65" fill="#327cb7"/><circle cx="26.2" cy="-49.8" r="3.65" fill="#b1d5e7"/><circle cx="22.1" cy="-50.3" r="3.65" fill="#0a3b70"/><circle cx="21.1" cy="-45.2" r="3.65" fill="#053061"/><circle cx="24.9" cy="-41.1" r="3.65" fill="#053061"/><circle cx="-9.2" cy="-44.4" r="3.65" fill="#fddbc7"/><circle cx="-8.2" cy="-50.3" r="3.65" fill="#90c4dd"/><circle cx="0" cy="-45.7" r="3.65" fill="#b1d5e7"/><circle cx="-1.8" cy="-42.6" r="3.65" fill="#fae9df"/><circle cx="-5.1" cy="-58.3" r="3.65" fill="#4393c3"/><circle cx="-4.1" cy="-65" r="3.65" fill="#f3a481"/><circle cx="-1.3" cy="-61.6" r="3.65" fill="#2065ab"/><circle cx="5.1" cy="-50.3" r="3.65" fill="#d1e5f0"/><circle cx="11.8" cy="-47.8" r="3.65" fill="#b1d5e7"/><circle cx="12.3" cy="-52.4" r="3.65" fill="#0d3f76"/><circle cx="18" cy="-55.5" r="3.65" fill="#4393c3"/><circle cx="24.1" cy="-63.2" r="3.65" fill="#053061"/><circle cx="11.3" cy="-59.6" r="3.65" fill="#053061"/><circle cx="4.1" cy="-58.8" r="3.65" fill="#053061"/><circle cx="6.9" cy="-67.3" r="3.65" fill="#0a3b70"/><circle cx="14.6" cy="-67.3" r="3.65" fill="#0a3b70"/><circle cx="18.8" cy="-60.4" r="3.65" fill="#124984"/><circle cx="8.2" cy="-53.2" r="3.65" fill="#2065ab"/><circle cx="25.2" cy="-54.7" r="3.65" fill="#124984"/><circle cx="13.9" cy="-41.1" r="3.65" fill="#2065ab"/><circle cx="10.5" cy="-38.8" r="3.65" fill="#90c4dd"/><circle cx="35.5" cy="-35.7" r="3.65" fill="#053061"/><circle cx="30.8" cy="-34.9" r="3.65" fill="#7c0722"/><circle cx="39.4" cy="-26" r="3.65" fill="#f9c6ac"/><circle cx="35.4" cy="0.6" r="3.65" fill="#67001f"/><circle cx="41.4" cy="3.5" r="3.65" fill="#f8bb9e"/><circle cx="31.9" cy="11.8" r="3.65" fill="#7bb6d6"/><circle cx="23.8" cy="17.7" r="3.65" fill="#053061"/><circle cx="23.9" cy="23.3" r="3.65" fill="#f7f6f6"/><circle cx="27.9" cy="30" r="3.65" fill="#c43b3c"/><circle cx="31.6" cy="29" r="3.65" fill="#f7f6f6"/><circle cx="21" cy="33.3" r="3.65" fill="#b1d5e7"/><circle cx="56" cy="24.3" r="3.65" fill="#053061"/><circle cx="74.4" cy="44" r="3.65" fill="#053061"/><circle cx="67" cy="-29" r="3.65" fill="#d1e5f0"/><circle cx="72.9" cy="-36.7" r="3.65" fill="#8a0b25"/><circle cx="76.4" cy="-32.9" r="3.65" fill="#053061"/><circle cx="86" cy="-33.2" r="3.65" fill="#f7f6f6"/><circle cx="94.5" cy="-32.3" r="3.65" fill="#7c0722"/><circle cx="89.8" cy="-28.2" r="3.65" fill="#7c0722"/><circle cx="91.2" cy="-25.9" r="3.65" fill="#f7f6f6"/><circle cx="78.5" cy="-12.8" r="3.65" fill="#fbd0b9"/><circle cx="102.2" cy="-25.3" r="3.65" fill="#c43b3c"/><circle cx="99.8" cy="-22.8" r="3.65" fill="#4393c3"/><circle cx="106" cy="-20" r="3.65" fill="#f3a481"/><circle cx="107.2" cy="-16.5" r="3.65" fill="#053061"/><circle cx="102.2" cy="-16" r="3.65" fill="#053061"/><circle cx="103.2" cy="-8.2" r="3.65" fill="#053061"/><circle cx="106.6" cy="-1.3" r="3.65" fill="#053061"/><circle cx="102.9" cy="0.2" r="3.65" fill="#7bb6d6"/><circle cx="109.8" cy="7.2" r="3.65" fill="#053061"/><circle cx="110.1" cy="-46.5" r="3.65" fill="#053061"/><circle cx="131.6" cy="-50.3" r="3.65" fill="#f8bb9e"/><circle cx="121.6" cy="-45.7" r="3.65" fill="#7c0722"/><circle cx="122.9" cy="-38.8" r="3.65" fill="#f7f6f6"/><circle cx="124.8" cy="-41.5" r="3.65" fill="#b1d5e7"/><circle cx="131" cy="-39.8" r="3.65" fill="#dc6e57"/><circle cx="135" cy="-41.9" r="3.65" fill="#2065ab"/><circle cx="127.9" cy="-31.3" r="3.65" fill="#9dcbe1"/><circle cx="114.8" cy="-25.9" r="3.65" fill="#7c0722"/><circle cx="121" cy="-27.5" r="3.65" fill="#053061"/><circle cx="128.1" cy="-7.8" r="3.65" fill="#b1182b"/><circle cx="171.6" cy="-10.3" r="3.65" fill="#fbe6da"/><circle cx="135.8" cy="14.6" r="3.65" fill="#eff3f5"/><circle cx="131" cy="18.7" r="3.65" fill="#053061"/><circle cx="114.8" cy="25.8" r="3.65" fill="#053061"/><circle cx="119.8" cy="36.5" r="3.65" fill="#c5dfec"/><circle cx="139.4" cy="36.2" r="3.65" fill="#b1d5e7"/><circle cx="142.9" cy="41.8" r="3.65" fill="#b1d5e7"/><circle cx="147.5" cy="36.8" r="3.65" fill="#b1d5e7"/><circle cx="168.1" cy="42.7" r="3.65" fill="#90c4dd"/><circle cx="-113.7" cy="-80.8" r="3.65" fill="#67001f"/><circle cx="-22.8" cy="-19.8" r="3.65" fill="#fae9df"/><circle cx="15.8" cy="22.5" r="3.65" fill="#053061"/><circle cx="66.4" cy="-44.8" r="3.65" fill="#053061"/><circle cx="73.6" cy="-49.6" r="3.65" fill="#f9efe9"/><circle cx="75.2" cy="-30.6" r="3.65" fill="#053061"/><circle cx="101.3" cy="-5.6" r="3.65" fill="#fbd0b9"/><circle cx="119.6" cy="-44.2" r="3.65" fill="#7c0722"/><circle cx="132.5" cy="-38.1" r="3.65" fill="#d6604d"/><circle cx="124.4" cy="-39.8" r="3.65" fill="#f7f6f6"/><circle cx="118.3" cy="-40.8" r="3.65" fill="#b1d5e7"/><circle cx="102.7" cy="-24.6" r="3.65" fill="#c43b3c"/><circle cx="104.7" cy="-13.7" r="3.65" fill="#053061"/><circle cx="-79.9" cy="-59.5" r="3.65" fill="#67001f"/><circle cx="-80.7" cy="-54.7" r="3.65" fill="#67001f"/><circle cx="-82.3" cy="-50.3" r="3.65" fill="#760521"/><circle cx="-106.7" cy="-59.1" r="3.65" fill="#f3a481"/><circle cx="-101.3" cy="-58.1" r="3.65" fill="#f7f6f6"/><circle cx="-58.7" cy="-51.3" r="3.65" fill="#f3a481"/><circle cx="-60.7" cy="-56.4" r="3.65" fill="#d1e5f0"/><circle cx="-8.6" cy="-60.1" r="3.65" fill="#67001f"/><circle cx="-9.3" cy="-50.9" r="3.65" fill="#f3a481"/><circle cx="-9.3" cy="-45.5" r="3.65" fill="#f7f6f6"/><circle cx="10.4" cy="-39.4" r="3.65" fill="#053061"/></g></g><path d="M98.6 -94L102.1 -93L106 -91.8L110.4 -90.2L115.1 -88.3L120 -86.2L124.7 -84L129.1 -81.7L133.2 -79.3L137 -76.8L140.8 -74.3L144.4 -71.7L148 -69.1L151.4 -66.4L154.7 -63.6L157.9 -60.9L160.8 -58.1L163.5 -55.2L166.1 -52.4L168.5 -49.5L170.8 -46.6L172.8 -43.7L174.7 -40.8L176.4 -37.9L177.9 -35L179.2 -32.1L180.3 -29.1L181.2 -26.2L182 -23.3L182.8 -20.4L183.4 -17.5L184 -14.6L184.4 -11.7L184.8 -8.7L185 -5.8L185.2 -2.9L185.3 0L185.2 2.9L185 5.8L184.8 8.7L184.4 11.7L184 14.6L183.4 17.5L182.8 20.4L182 23.3L181.2 26.2L180.3 29.1L179.2 32.1L177.9 35L176.4 37.9L174.7 40.8L172.8 43.7L170.8 46.6L168.5 49.5L166.1 52.4L163.5 55.2L160.8 58.1L157.9 60.9L154.7 63.6L151.4 66.4L148 69.1L144.4 71.7L140.8 74.3L137 76.8L133.2 79.3L129.1 81.7L124.7 84L120 86.2L115.1 88.3L110.4 90.2L106 91.8L102.1 93L98.6 94L-98.6 94L-102.1 93L-106 91.8L-110.4 90.2L-115.1 88.3L-120 86.2L-124.7 84L-129.1 81.7L-133.2 79.3L-137 76.8L-140.8 74.3L-144.4 71.7L-148 69.1L-151.4 66.4L-154.7 63.6L-157.9 60.9L-160.8 58.1L-163.5 55.2L-166.1 52.4L-168.5 49.5L-170.8 46.6L-172.8 43.7L-174.7 40.8L-176.4 37.9L-177.9 35L-179.2 32.1L-180.3 29.1L-181.2 26.2L-182 23.3L-182.8 20.4L-183.4 17.5L-184 14.6L-184.4 11.7L-184.8 8.7L-185 5.8L-185.2 2.9L-185.3 0L-185.2 -2.9L-185 -5.8L-184.8 -8.7L-184.4 -11.7L-184 -14.6L-183.4 -17.5L-182.8 -20.4L-182 -23.3L-181.2 -26.2L-180.3 -29.1L-179.2 -32.1L-177.9 -35L-176.4 -37.9L-174.7 -40.8L-172.8 -43.7L-170.8 -46.6L-168.5 -49.5L-166.1 -52.4L-163.5 -55.2L-160.8 -58.1L-157.9 -60.9L-154.7 -63.6L-151.4 -66.4L-148 -69.1L-144.4 -71.7L-140.8 -74.3L-137 -76.8L-133.2 -79.3L-129.1 -81.7L-124.7 -84L-120 -86.2L-115.1 -88.3L-110.4 -90.2L-106 -91.8L-102.1 -93L-98.6 -94Z" fill="none" stroke="#000" stroke-width="1.15"/></g>
<rect x="527.2" y="993.1" width="68.2" height="24" fill="#fff" fill-opacity="0.6"/>
<text transform="translate(559.1 1012) scale(1.0 1)" text-anchor="middle">61.6%</text>
<rect x="510.5" y="1059.1" width="317.6" height="18.5" fill="url(#RdBu_r)"/><rect x="510.5" y="1059.1" width="317.6" height="18.5" stroke="#000" stroke-width="1.1" fill="none"/><text transform="translate(510.5 1112) scale(0.95 1)" text-anchor="middle">–0.02</text><text transform="translate(589.9 1112) scale(0.95 1)" text-anchor="middle">–0.01</text><text transform="translate(669.3 1112) scale(0.985 1)" text-anchor="middle">0</text><text transform="translate(748.7 1112) scale(0.985 1)" text-anchor="middle">0.01</text><text transform="translate(828.1 1112) scale(0.985 1)" text-anchor="middle">0.02</text><path d="M510.5 1077.6V1087.3M589.9 1077.6V1087.3M669.3 1077.6V1087.3M748.7 1077.6V1087.3M828.1 1077.6V1087.3" stroke="#000" stroke-width="1.2" fill="none"/><text transform="translate(664.8 1145.2) scale(0.995 1)" text-anchor="middle">AOD</text>
</g>
<g id="map3">
<text transform="translate(1103.7 845.3) scale(0.983 1)" text-anchor="middle">RMSE: Operational AI-GAMFS</text>
<g transform="translate(1104 951.3)"><use href="#basemap"/><g clip-path="url(#globe)"><g stroke="#000" stroke-width="1.15"><circle cx="-91.1" cy="-42.9" r="3.65" fill="#feeae0"/><circle cx="-87.5" cy="-42.1" r="3.65" fill="#ffebe2"/><circle cx="-108.8" cy="-44.2" r="3.65" fill="#ffede5"/><circle cx="-79.4" cy="-36.6" r="3.65" fill="#fee8dd"/><circle cx="-114.8" cy="-49.8" r="3.65" fill="#ffede5"/><circle cx="-115" cy="-36.1" r="3.65" fill="#ffebe2"/><circle cx="-77.8" cy="-41.4" r="3.65" fill="#fee8dd"/><circle cx="-108.4" cy="-51.5" r="3.65" fill="#fee8dd"/><circle cx="-119" cy="-45.5" r="3.65" fill="#fee8dd"/><circle cx="-91.9" cy="-35.3" r="3.65" fill="#ffebe2"/><circle cx="-86.7" cy="-40.7" r="3.65" fill="#ffebe2"/><circle cx="-88" cy="-40.1" r="3.65" fill="#ffebe2"/><circle cx="-90.8" cy="-50.5" r="3.65" fill="#fee8dd"/><circle cx="-100.2" cy="-51.8" r="3.65" fill="#ffede5"/><circle cx="-70.4" cy="-47.2" r="3.65" fill="#ffebe2"/><circle cx="-65.1" cy="-47.6" r="3.65" fill="#fee8dd"/><circle cx="-116.2" cy="-41" r="3.65" fill="#feeae0"/><circle cx="-69.6" cy="-50.7" r="3.65" fill="#fee8dd"/><circle cx="-115.2" cy="-49" r="3.65" fill="#ffede5"/><circle cx="-113.2" cy="-51.3" r="3.65" fill="#ffede5"/><circle cx="-68.4" cy="-53.2" r="3.65" fill="#ffede5"/><circle cx="-84.1" cy="-45.9" r="3.65" fill="#fee8dd"/><circle cx="-108.4" cy="-38.2" r="3.65" fill="#ffebe2"/><circle cx="-112.4" cy="-40.6" r="3.65" fill="#ffede5"/><circle cx="-113.3" cy="-46.6" r="3.65" fill="#ffede5"/><circle cx="-107" cy="-50.7" r="3.65" fill="#ffebe2"/><circle cx="-100.9" cy="-34.1" r="3.65" fill="#ffebe2"/><circle cx="-107.1" cy="-47.4" r="3.65" fill="#ffede5"/><circle cx="-106.9" cy="-51" r="3.65" fill="#ffede5"/><circle cx="-70" cy="-49.1" r="3.65" fill="#ffebe2"/><circle cx="-115.1" cy="-42.3" r="3.65" fill="#ffebe2"/><circle cx="-105" cy="-41.8" r="3.65" fill="#fee8dd"/><circle cx="-96.5" cy="-45.8" r="3.65" fill="#ffede5"/><circle cx="-83.1" cy="-34.6" r="3.65" fill="#ffebe2"/><circle cx="-108.9" cy="-53.8" r="3.65" fill="#ffebe2"/><circle cx="-104.5" cy="-52.9" r="3.65" fill="#ffede5"/><circle cx="-105.3" cy="-39" r="3.65" fill="#ffebe2"/><circle cx="-81.6" cy="-50.1" r="3.65" fill="#ffebe2"/><circle cx="-109.4" cy="-38.6" r="3.65" fill="#ffebe2"/><circle cx="-116.5" cy="-51.8" r="3.65" fill="#ffede5"/><circle cx="-84.1" cy="-35" r="3.65" fill="#fee8dd"/><circle cx="-80.5" cy="-50.4" r="3.65" fill="#ffebe2"/><circle cx="-60.5" cy="-52.5" r="3.65" fill="#ffebe2"/><circle cx="-109.4" cy="-48" r="3.65" fill="#feeae0"/><circle cx="-97.1" cy="-33.9" r="3.65" fill="#ffebe2"/><circle cx="-75.4" cy="-42.2" r="3.65" fill="#ffede5"/><circle cx="-89.2" cy="-38.3" r="3.65" fill="#ffede5"/><circle cx="-116" cy="-43.3" r="3.65" fill="#ffebe2"/><circle cx="-72.4" cy="-39" r="3.65" fill="#ffebe2"/><circle cx="-97.8" cy="-39.5" r="3.65" fill="#ffebe2"/><circle cx="-93.5" cy="-36.7" r="3.65" fill="#fee8dd"/><circle cx="-79.8" cy="-47.7" r="3.65" fill="#feeae0"/><circle cx="-82.5" cy="-41.6" r="3.65" fill="#ffede5"/><circle cx="-115.7" cy="-40.7" r="3.65" fill="#fee8dd"/><circle cx="-72.9" cy="-47.5" r="3.65" fill="#ffede5"/><circle cx="-72.5" cy="-42.3" r="3.65" fill="#feeae0"/><circle cx="-91.9" cy="-35.4" r="3.65" fill="#ffede5"/><circle cx="-115.5" cy="-37.7" r="3.65" fill="#ffebe2"/><circle cx="-119" cy="-41.8" r="3.65" fill="#fee8dd"/><circle cx="-89.3" cy="-51.8" r="3.65" fill="#ffebe2"/><circle cx="-117.6" cy="-39" r="3.65" fill="#ffede5"/><circle cx="-112.1" cy="-36.4" r="3.65" fill="#ffebe2"/><circle cx="-118.6" cy="-46.3" r="3.65" fill="#fee8dd"/><circle cx="-119.1" cy="-46.4" r="3.65" fill="#ffebe2"/><circle cx="-114.1" cy="-46.6" r="3.65" fill="#feeae0"/><circle cx="-117.2" cy="-43.1" r="3.65" fill="#feeae0"/><circle cx="-110.1" cy="-40.3" r="3.65" fill="#ffebe2"/><circle cx="-110.5" cy="-37.1" r="3.65" fill="#ffebe2"/><circle cx="-110.3" cy="-38.1" r="3.65" fill="#ffebe2"/><circle cx="-114.7" cy="-37.9" r="3.65" fill="#ffede5"/><circle cx="-113.7" cy="-43.1" r="3.65" fill="#ffebe2"/><circle cx="-116.3" cy="-43.1" r="3.65" fill="#feeae0"/><circle cx="-116.9" cy="-48.1" r="3.65" fill="#feeae0"/><circle cx="-110.3" cy="-37.2" r="3.65" fill="#fee8dd"/><circle cx="-113.8" cy="-38" r="3.65" fill="#ffebe2"/><circle cx="-115.2" cy="-47.2" r="3.65" fill="#ffebe2"/><circle cx="-118.4" cy="-41.6" r="3.65" fill="#ffede5"/><circle cx="-117.7" cy="-42.6" r="3.65" fill="#fee8dd"/><circle cx="-113.1" cy="-43.7" r="3.65" fill="#ffebe2"/><circle cx="-119.3" cy="-42.1" r="3.65" fill="#fee8dd"/><circle cx="-117.9" cy="-46.2" r="3.65" fill="#ffebe2"/><circle cx="-118.5" cy="-44.1" r="3.65" fill="#feeae0"/><circle cx="9.5" cy="-50.9" r="3.65" fill="#ffede5"/><circle cx="17.3" cy="-65.9" r="3.65" fill="#ffede5"/><circle cx="1.2" cy="-46.5" r="3.65" fill="#feeae0"/><circle cx="18.3" cy="-52.6" r="3.65" fill="#ffebe2"/><circle cx="12.9" cy="-50.8" r="3.65" fill="#ffeee7"/><circle cx="-4" cy="-57.2" r="3.65" fill="#ffeee7"/><circle cx="-3.3" cy="-43.7" r="3.65" fill="#ffebe2"/><circle cx="-7.6" cy="-46.3" r="3.65" fill="#ffede5"/><circle cx="-6.9" cy="-50.1" r="3.65" fill="#ffede5"/><circle cx="3.8" cy="-58.3" r="3.65" fill="#ffede5"/><circle cx="-7.5" cy="-43.5" r="3.65" fill="#ffeee7"/><circle cx="10.9" cy="-67.4" r="3.65" fill="#ffede5"/><circle cx="-5.4" cy="-57.7" r="3.65" fill="#ffede5"/><circle cx="-4.5" cy="-60.9" r="3.65" fill="#ffeee7"/><circle cx="15.5" cy="-65.3" r="3.65" fill="#ffede5"/><circle cx="-3" cy="-46.3" r="3.65" fill="#ffede5"/><circle cx="6.4" cy="-57.9" r="3.65" fill="#feeae0"/><circle cx="14.4" cy="-56.2" r="3.65" fill="#feeae0"/><circle cx="5.8" cy="-69.1" r="3.65" fill="#ffede5"/><circle cx="19.8" cy="-41.9" r="3.65" fill="#ffede5"/><circle cx="30" cy="-50.8" r="3.65" fill="#ffede5"/><circle cx="4.6" cy="-59.5" r="3.65" fill="#feeae0"/><circle cx="18.3" cy="-50.5" r="3.65" fill="#ffeee7"/><circle cx="-5.3" cy="-63.2" r="3.65" fill="#ffede5"/><circle cx="4.9" cy="-55.2" r="3.65" fill="#ffede5"/><circle cx="23.2" cy="-55.5" r="3.65" fill="#feeae0"/><circle cx="-8.8" cy="-46.1" r="3.65" fill="#ffede5"/><circle cx="7.6" cy="-54.9" r="3.65" fill="#ffebe2"/><circle cx="-0.9" cy="-57.6" r="3.65" fill="#ffede5"/><circle cx="5.9" cy="-47.6" r="3.65" fill="#ffeee7"/><circle cx="-5.8" cy="-54.1" r="3.65" fill="#ffeee7"/><circle cx="-2.7" cy="-49.8" r="3.65" fill="#ffede5"/><circle cx="4.1" cy="-51.5" r="3.65" fill="#ffede5"/><circle cx="-7.9" cy="-56.7" r="3.65" fill="#feeae0"/><circle cx="-1.4" cy="-61.8" r="3.65" fill="#ffede5"/><circle cx="-3.1" cy="-43.2" r="3.65" fill="#ffebe2"/><circle cx="4.9" cy="-64.5" r="3.65" fill="#ffede5"/><circle cx="20.7" cy="-43.6" r="3.65" fill="#ffede5"/><circle cx="21.6" cy="-60.1" r="3.65" fill="#ffede5"/><circle cx="-8.4" cy="-52" r="3.65" fill="#ffeee7"/><circle cx="10.6" cy="-69.3" r="3.65" fill="#ffede5"/><circle cx="3.2" cy="-47.2" r="3.65" fill="#ffede5"/><circle cx="24.1" cy="-51.5" r="3.65" fill="#ffebe2"/><circle cx="-0.6" cy="-54.7" r="3.65" fill="#ffeee7"/><circle cx="9.6" cy="-51.8" r="3.65" fill="#ffede5"/><circle cx="0.8" cy="-42.5" r="3.65" fill="#ffede5"/><circle cx="1.9" cy="-44.7" r="3.65" fill="#ffeee7"/><circle cx="1.4" cy="-42.6" r="3.65" fill="#ffeee7"/><circle cx="11.1" cy="-49.8" r="3.65" fill="#feeae0"/><circle cx="18.9" cy="-63.8" r="3.65" fill="#feeae0"/><circle cx="1.7" cy="-62.6" r="3.65" fill="#ffeee7"/><circle cx="18" cy="-49.9" r="3.65" fill="#feeae0"/><circle cx="-156.8" cy="-22.8" r="3.65" fill="#feeae0"/><circle cx="-173.4" cy="16.5" r="3.65" fill="#feeae0"/><circle cx="-111.8" cy="-77.8" r="3.65" fill="#feeae0"/><circle cx="-118" cy="-72.9" r="3.65" fill="#feeae0"/><circle cx="-112" cy="-69.9" r="3.65" fill="#feeae0"/><circle cx="-115.1" cy="-72.7" r="3.65" fill="#feeae0"/><circle cx="-91.5" cy="-71.7" r="3.65" fill="#feeae0"/><circle cx="-92" cy="-62.4" r="3.65" fill="#feeae0"/><circle cx="-94.1" cy="-65.2" r="3.65" fill="#feeae0"/><circle cx="-77.9" cy="-67.6" r="3.65" fill="#feeae0"/><circle cx="-79.4" cy="-59.6" r="3.65" fill="#feeae0"/><circle cx="-65.9" cy="-83.4" r="3.65" fill="#feeae0"/><circle cx="-54.9" cy="-88.2" r="3.65" fill="#feeae0"/><circle cx="-46.5" cy="-85.3" r="3.65" fill="#feeae0"/><circle cx="-38.4" cy="-76" r="3.65" fill="#feeae0"/><circle cx="-115.1" cy="-37" r="3.65" fill="#ffede5"/><circle cx="-114.1" cy="-40.1" r="3.65" fill="#ffede5"/><circle cx="-112" cy="-47.3" r="3.65" fill="#fee8dd"/><circle cx="-106.9" cy="-49.3" r="3.65" fill="#ffebe2"/><circle cx="-102.3" cy="-49.3" r="3.65" fill="#ffebe2"/><circle cx="-107.9" cy="-37" r="3.65" fill="#ffebe2"/><circle cx="-103.3" cy="-40.1" r="3.65" fill="#ffede5"/><circle cx="-108.5" cy="-42.6" r="3.65" fill="#fee8dd"/><circle cx="-116.7" cy="-43.4" r="3.65" fill="#ffede5"/><circle cx="-106.7" cy="-58.6" r="3.65" fill="#ffebe2"/><circle cx="-100.5" cy="-57.5" r="3.65" fill="#ffede5"/><circle cx="-105.9" cy="-53.4" r="3.65" fill="#feeae0"/><circle cx="-111.5" cy="-53.2" r="3.65" fill="#ffebe2"/><circle cx="-97.7" cy="-33.9" r="3.65" fill="#ffede5"/><circle cx="-94.1" cy="-34.4" r="3.65" fill="#ffede5"/><circle cx="-97.7" cy="-47.3" r="3.65" fill="#feeae0"/><circle cx="-91.5" cy="-45.2" r="3.65" fill="#fee8dd"/><circle cx="-93" cy="-54.5" r="3.65" fill="#fee8dd"/><circle cx="-94.6" cy="-54.5" r="3.65" fill="#ffebe2"/><circle cx="-91" cy="-41.1" r="3.65" fill="#feeae0"/><circle cx="-82.8" cy="-31.3" r="3.65" fill="#fee8dd"/><circle cx="-72.5" cy="-43.7" r="3.65" fill="#ffebe2"/><circle cx="-73.5" cy="-50.9" r="3.65" fill="#ffede5"/><circle cx="-79.7" cy="-49.3" r="3.65" fill="#ffede5"/><circle cx="-83.8" cy="-46.2" r="3.65" fill="#ffede5"/><circle cx="-81.2" cy="-53.4" r="3.65" fill="#ffede5"/><circle cx="-65.8" cy="-50.3" r="3.65" fill="#ffebe2"/><circle cx="-69.9" cy="-47.3" r="3.65" fill="#ffede5"/><circle cx="-61.2" cy="-56.5" r="3.65" fill="#feeae0"/><circle cx="-66.8" cy="-57.5" r="3.65" fill="#ffebe2"/><circle cx="-58.4" cy="-51.6" r="3.65" fill="#feeae0"/><circle cx="-86.4" cy="-37" r="3.65" fill="#ffede5"/><circle cx="-75.6" cy="-41.6" r="3.65" fill="#ffebe2"/><circle cx="-82.8" cy="-43.2" r="3.65" fill="#ffede5"/><circle cx="-95.1" cy="-39" r="3.65" fill="#fee8dd"/><circle cx="-87.9" cy="-55.5" r="3.65" fill="#ffebe2"/><circle cx="-79.7" cy="-32.9" r="3.65" fill="#ffede5"/><circle cx="-63.2" cy="-37.5" r="3.65" fill="#fee1d4"/><circle cx="-66.2" cy="-22" r="3.65" fill="#fcc4ad"/><circle cx="-68" cy="-21" r="3.65" fill="#fdcab5"/><circle cx="-26.5" cy="-45.4" r="3.65" fill="#feeae0"/><circle cx="-92.1" cy="1" r="3.65" fill="#fee5d8"/><circle cx="-80.5" cy="0.2" r="3.65" fill="#feeae0"/><circle cx="-60.5" cy="2.5" r="3.65" fill="#fedfd0"/><circle cx="-76.9" cy="14.1" r="3.65" fill="#feeae0"/><circle cx="-69.2" cy="19.1" r="3.65" fill="#feeae0"/><circle cx="-64" cy="20.6" r="3.65" fill="#feeae0"/><circle cx="-70.2" cy="28.7" r="3.65" fill="#feeae0"/><circle cx="-54.2" cy="40.3" r="3.65" fill="#feeae0"/><circle cx="-58.8" cy="45.6" r="3.65" fill="#feeae0"/><circle cx="-44.4" cy="73.3" r="3.65" fill="#feeae0"/><circle cx="-5.9" cy="80" r="3.65" fill="#feeae0"/><circle cx="17" cy="81.2" r="3.65" fill="#feeae0"/><circle cx="38.8" cy="93.5" r="3.65" fill="#feeae0"/><circle cx="-14.6" cy="9.3" r="3.65" fill="#fedfd0"/><circle cx="-5.6" cy="18.5" r="3.65" fill="#feeae0"/><circle cx="-17.5" cy="-33.4" r="3.65" fill="#fc9777"/><circle cx="-16.2" cy="-32.8" r="3.65" fill="#fc9777"/><circle cx="-25.2" cy="-19.4" r="3.65" fill="#fcbea5"/><circle cx="-18" cy="-17.3" r="3.65" fill="#fcab8f"/><circle cx="5.6" cy="-26.7" r="3.65" fill="#fca183"/><circle cx="-5.2" cy="-7.3" r="3.65" fill="#fca183"/><circle cx="-0.2" cy="-7.2" r="3.65" fill="#fc9777"/><circle cx="5" cy="-10" r="3.65" fill="#fb7a5a"/><circle cx="11.8" cy="-78.3" r="3.65" fill="#ffede5"/><circle cx="20.6" cy="-76.8" r="3.65" fill="#ffede5"/><circle cx="22.1" cy="-71.9" r="3.65" fill="#ffede5"/><circle cx="34.4" cy="-39" r="3.65" fill="#ffebe2"/><circle cx="32.4" cy="-41.6" r="3.65" fill="#fee5d8"/><circle cx="26.2" cy="-49.8" r="3.65" fill="#ffede5"/><circle cx="22.1" cy="-50.3" r="3.65" fill="#ffebe2"/><circle cx="21.1" cy="-45.2" r="3.65" fill="#ffeee7"/><circle cx="24.9" cy="-41.1" r="3.65" fill="#ffede5"/><circle cx="-9.2" cy="-44.4" r="3.65" fill="#ffebe2"/><circle cx="-8.2" cy="-50.3" r="3.65" fill="#feeae0"/><circle cx="0" cy="-45.7" r="3.65" fill="#ffeee7"/><circle cx="-1.8" cy="-42.6" r="3.65" fill="#ffebe2"/><circle cx="-5.1" cy="-58.3" r="3.65" fill="#ffeee7"/><circle cx="-4.1" cy="-65" r="3.65" fill="#ffeee7"/><circle cx="-1.3" cy="-61.6" r="3.65" fill="#ffebe2"/><circle cx="5.1" cy="-50.3" r="3.65" fill="#feeae0"/><circle cx="11.8" cy="-47.8" r="3.65" fill="#ffede5"/><circle cx="12.3" cy="-52.4" r="3.65" fill="#feeae0"/><circle cx="18" cy="-55.5" r="3.65" fill="#ffede5"/><circle cx="24.1" cy="-63.2" r="3.65" fill="#ffebe2"/><circle cx="11.3" cy="-59.6" r="3.65" fill="#feeae0"/><circle cx="4.1" cy="-58.8" r="3.65" fill="#ffede5"/><circle cx="6.9" cy="-67.3" r="3.65" fill="#ffebe2"/><circle cx="14.6" cy="-67.3" r="3.65" fill="#feeae0"/><circle cx="18.8" cy="-60.4" r="3.65" fill="#feeae0"/><circle cx="8.2" cy="-53.2" r="3.65" fill="#ffede5"/><circle cx="25.2" cy="-54.7" r="3.65" fill="#ffeee7"/><circle cx="13.9" cy="-41.1" r="3.65" fill="#ffebe2"/><circle cx="10.5" cy="-38.8" r="3.65" fill="#ffebe2"/><circle cx="35.5" cy="-35.7" r="3.65" fill="#fdcab5"/><circle cx="30.8" cy="-34.9" r="3.65" fill="#fcb89e"/><circle cx="39.4" cy="-26" r="3.65" fill="#fdcab5"/><circle cx="39.8" cy="-10.7" r="3.65" fill="#fee5d8"/><circle cx="35.4" cy="0.6" r="3.65" fill="#fdcab5"/><circle cx="41.4" cy="3.5" r="3.65" fill="#fcbea5"/><circle cx="31.9" cy="11.8" r="3.65" fill="#fee5d8"/><circle cx="23.8" cy="17.7" r="3.65" fill="#fdd7c6"/><circle cx="23.9" cy="23.3" r="3.65" fill="#feeae0"/><circle cx="16.6" cy="27.2" r="3.65" fill="#feeae0"/><circle cx="27.9" cy="30" r="3.65" fill="#feeae0"/><circle cx="31.6" cy="29" r="3.65" fill="#fee5d8"/><circle cx="21" cy="33.3" r="3.65" fill="#feeae0"/><circle cx="56" cy="24.3" r="3.65" fill="#feeae0"/><circle cx="74.4" cy="44" r="3.65" fill="#feeae0"/><circle cx="57.9" cy="-26.7" r="3.65" fill="#fcbea5"/><circle cx="67" cy="-29" r="3.65" fill="#fcbea5"/><circle cx="72.9" cy="-36.7" r="3.65" fill="#fc9777"/><circle cx="76.4" cy="-32.9" r="3.65" fill="#fc9070"/><circle cx="86" cy="-33.2" r="3.65" fill="#fee8dd"/><circle cx="94.5" cy="-32.3" r="3.65" fill="#fee5d8"/><circle cx="89.8" cy="-28.2" r="3.65" fill="#fdcab5"/><circle cx="91.2" cy="-25.9" r="3.65" fill="#fdcab5"/><circle cx="78.5" cy="-12.8" r="3.65" fill="#fee5d8"/><circle cx="102.2" cy="-25.3" r="3.65" fill="#fee5d8"/><circle cx="99.8" cy="-22.8" r="3.65" fill="#fee5d8"/><circle cx="106" cy="-20" r="3.65" fill="#fee5d8"/><circle cx="107.2" cy="-16.5" r="3.65" fill="#fedccd"/><circle cx="102.2" cy="-16" r="3.65" fill="#fee1d4"/><circle cx="103.2" cy="-8.2" r="3.65" fill="#fee1d4"/><circle cx="106.6" cy="-1.3" r="3.65" fill="#fdcab5"/><circle cx="102.9" cy="0.2" r="3.65" fill="#fee5d8"/><circle cx="109.8" cy="7.2" r="3.65" fill="#fcbea5"/><circle cx="110.1" cy="-46.5" r="3.65" fill="#fdcab5"/><circle cx="131.6" cy="-50.3" r="3.65" fill="#fdcab5"/><circle cx="121.6" cy="-45.7" r="3.65" fill="#fee5d8"/><circle cx="122.9" cy="-38.8" r="3.65" fill="#fee5d8"/><circle cx="124.8" cy="-41.5" r="3.65" fill="#fee1d4"/><circle cx="131" cy="-39.8" r="3.65" fill="#fee8dd"/><circle cx="135" cy="-41.9" r="3.65" fill="#fee8dd"/><circle cx="127.9" cy="-31.3" r="3.65" fill="#fee5d8"/><circle cx="114.8" cy="-25.9" r="3.65" fill="#fee5d8"/><circle cx="121" cy="-27.5" r="3.65" fill="#fcab8f"/><circle cx="128.1" cy="-7.8" r="3.65" fill="#fee5d8"/><circle cx="123.5" cy="1.8" r="3.65" fill="#feeae0"/><circle cx="171.6" cy="-10.3" r="3.65" fill="#fcb89e"/><circle cx="135.8" cy="14.6" r="3.65" fill="#fee1d4"/><circle cx="131" cy="18.7" r="3.65" fill="#fee8dd"/><circle cx="148.2" cy="21.5" r="3.65" fill="#fee8dd"/><circle cx="114.8" cy="25.8" r="3.65" fill="#feeae0"/><circle cx="119.8" cy="36.5" r="3.65" fill="#feeae0"/><circle cx="139.4" cy="36.2" r="3.65" fill="#feeae0"/><circle cx="142.9" cy="41.8" r="3.65" fill="#feeae0"/><circle cx="147.5" cy="36.8" r="3.65" fill="#feeae0"/><circle cx="147" cy="39.7" r="3.65" fill="#feeae0"/><circle cx="168.1" cy="42.7" r="3.65" fill="#fee8dd"/><circle cx="75.2" cy="-30.6" r="3.65" fill="#fca183"/><circle cx="119.6" cy="-44.2" r="3.65" fill="#fee5d8"/><circle cx="132.5" cy="-38.1" r="3.65" fill="#fee8dd"/><circle cx="124.4" cy="-39.8" r="3.65" fill="#fee8dd"/><circle cx="118.3" cy="-40.8" r="3.65" fill="#fee5d8"/><circle cx="102.7" cy="-24.6" r="3.65" fill="#fee5d8"/><circle cx="104.7" cy="-13.7" r="3.65" fill="#fee1d4"/></g></g><path d="M98.6 -94L102.1 -93L106 -91.8L110.4 -90.2L115.1 -88.3L120 -86.2L124.7 -84L129.1 -81.7L133.2 -79.3L137 -76.8L140.8 -74.3L144.4 -71.7L148 -69.1L151.4 -66.4L154.7 -63.6L157.9 -60.9L160.8 -58.1L163.5 -55.2L166.1 -52.4L168.5 -49.5L170.8 -46.6L172.8 -43.7L174.7 -40.8L176.4 -37.9L177.9 -35L179.2 -32.1L180.3 -29.1L181.2 -26.2L182 -23.3L182.8 -20.4L183.4 -17.5L184 -14.6L184.4 -11.7L184.8 -8.7L185 -5.8L185.2 -2.9L185.3 0L185.2 2.9L185 5.8L184.8 8.7L184.4 11.7L184 14.6L183.4 17.5L182.8 20.4L182 23.3L181.2 26.2L180.3 29.1L179.2 32.1L177.9 35L176.4 37.9L174.7 40.8L172.8 43.7L170.8 46.6L168.5 49.5L166.1 52.4L163.5 55.2L160.8 58.1L157.9 60.9L154.7 63.6L151.4 66.4L148 69.1L144.4 71.7L140.8 74.3L137 76.8L133.2 79.3L129.1 81.7L124.7 84L120 86.2L115.1 88.3L110.4 90.2L106 91.8L102.1 93L98.6 94L-98.6 94L-102.1 93L-106 91.8L-110.4 90.2L-115.1 88.3L-120 86.2L-124.7 84L-129.1 81.7L-133.2 79.3L-137 76.8L-140.8 74.3L-144.4 71.7L-148 69.1L-151.4 66.4L-154.7 63.6L-157.9 60.9L-160.8 58.1L-163.5 55.2L-166.1 52.4L-168.5 49.5L-170.8 46.6L-172.8 43.7L-174.7 40.8L-176.4 37.9L-177.9 35L-179.2 32.1L-180.3 29.1L-181.2 26.2L-182 23.3L-182.8 20.4L-183.4 17.5L-184 14.6L-184.4 11.7L-184.8 8.7L-185 5.8L-185.2 2.9L-185.3 0L-185.2 -2.9L-185 -5.8L-184.8 -8.7L-184.4 -11.7L-184 -14.6L-183.4 -17.5L-182.8 -20.4L-182 -23.3L-181.2 -26.2L-180.3 -29.1L-179.2 -32.1L-177.9 -35L-176.4 -37.9L-174.7 -40.8L-172.8 -43.7L-170.8 -46.6L-168.5 -49.5L-166.1 -52.4L-163.5 -55.2L-160.8 -58.1L-157.9 -60.9L-154.7 -63.6L-151.4 -66.4L-148 -69.1L-144.4 -71.7L-140.8 -74.3L-137 -76.8L-133.2 -79.3L-129.1 -81.7L-124.7 -84L-120 -86.2L-115.1 -88.3L-110.4 -90.2L-106 -91.8L-102.1 -93L-98.6 -94Z" fill="none" stroke="#000" stroke-width="1.15"/></g>
<rect x="949.1" y="1059.1" width="317.6" height="18.5" fill="url(#Reds)"/><rect x="949.1" y="1059.1" width="317.6" height="18.5" stroke="#000" stroke-width="1.1" fill="none"/><text transform="translate(949.1 1112) scale(0.985 1)" text-anchor="middle">0</text><text transform="translate(1028.5 1112) scale(0.985 1)" text-anchor="middle">0.1</text><text transform="translate(1107.9 1112) scale(0.985 1)" text-anchor="middle">0.2</text><text transform="translate(1187.3 1112) scale(0.985 1)" text-anchor="middle">0.3</text><text transform="translate(1266.7 1112) scale(0.985 1)" text-anchor="middle">0.4</text><path d="M949.1 1077.6V1087.3M1028.5 1077.6V1087.3M1107.9 1077.6V1087.3M1187.3 1077.6V1087.3M1266.7 1077.6V1087.3" stroke="#000" stroke-width="1.2" fill="none"/><text transform="translate(1103.6 1145.2) scale(0.995 1)" text-anchor="middle">DUAOD</text>
</g>
<g id="map4">
<text transform="translate(1545.9 845.3) scale(0.983 1)" text-anchor="middle">RMSE: Operational AI-GAMFS minus CAMS</text>
<g transform="translate(1546.2 951.3)"><use href="#basemap"/><g clip-path="url(#globe)"><g stroke="#000" stroke-width="1.15"><circle cx="-91.1" cy="-42.9" r="3.65" fill="#4393c3"/><circle cx="-87.5" cy="-42.1" r="3.65" fill="#6bacd1"/><circle cx="-108.8" cy="-44.2" r="3.65" fill="#90c4dd"/><circle cx="-79.4" cy="-36.6" r="3.65" fill="#b1d5e7"/><circle cx="-114.8" cy="-49.8" r="3.65" fill="#053061"/><circle cx="-115" cy="-36.1" r="3.65" fill="#124984"/><circle cx="-77.8" cy="-41.4" r="3.65" fill="#a5cee3"/><circle cx="-108.4" cy="-51.5" r="3.65" fill="#276eb0"/><circle cx="-119" cy="-45.5" r="3.65" fill="#053061"/><circle cx="-91.9" cy="-35.3" r="3.65" fill="#90c4dd"/><circle cx="-86.7" cy="-40.7" r="3.65" fill="#4393c3"/><circle cx="-88" cy="-40.1" r="3.65" fill="#b1d5e7"/><circle cx="-90.8" cy="-50.5" r="3.65" fill="#b1d5e7"/><circle cx="-100.2" cy="-51.8" r="3.65" fill="#327cb7"/><circle cx="-70.4" cy="-47.2" r="3.65" fill="#c5dfec"/><circle cx="-65.1" cy="-47.6" r="3.65" fill="#90c4dd"/><circle cx="-116.2" cy="-41" r="3.65" fill="#1b5a9c"/><circle cx="-69.6" cy="-50.7" r="3.65" fill="#c5dfec"/><circle cx="-115.2" cy="-49" r="3.65" fill="#0a3b70"/><circle cx="-113.2" cy="-51.3" r="3.65" fill="#053061"/><circle cx="-68.4" cy="-53.2" r="3.65" fill="#90c4dd"/><circle cx="-84.1" cy="-45.9" r="3.65" fill="#c5dfec"/><circle cx="-108.4" cy="-38.2" r="3.65" fill="#6bacd1"/><circle cx="-112.4" cy="-40.6" r="3.65" fill="#1b5a9c"/><circle cx="-113.3" cy="-46.6" r="3.65" fill="#053061"/><circle cx="-107" cy="-50.7" r="3.65" fill="#327cb7"/><circle cx="-100.9" cy="-34.1" r="3.65" fill="#4393c3"/><circle cx="-107.1" cy="-47.4" r="3.65" fill="#6bacd1"/><circle cx="-106.9" cy="-51" r="3.65" fill="#6bacd1"/><circle cx="-70" cy="-49.1" r="3.65" fill="#b1d5e7"/><circle cx="-115.1" cy="-42.3" r="3.65" fill="#1b5a9c"/><circle cx="-105" cy="-41.8" r="3.65" fill="#6bacd1"/><circle cx="-96.5" cy="-45.8" r="3.65" fill="#90c4dd"/><circle cx="-83.1" cy="-34.6" r="3.65" fill="#a5cee3"/><circle cx="-108.9" cy="-53.8" r="3.65" fill="#4393c3"/><circle cx="-104.5" cy="-52.9" r="3.65" fill="#4393c3"/><circle cx="-105.3" cy="-39" r="3.65" fill="#4393c3"/><circle cx="-81.6" cy="-50.1" r="3.65" fill="#276eb0"/><circle cx="-109.4" cy="-38.6" r="3.65" fill="#2065ab"/><circle cx="-116.5" cy="-51.8" r="3.65" fill="#0a3b70"/><circle cx="-84.1" cy="-35" r="3.65" fill="#90c4dd"/><circle cx="-80.5" cy="-50.4" r="3.65" fill="#c5dfec"/><circle cx="-60.5" cy="-52.5" r="3.65" fill="#d1e5f0"/><circle cx="-109.4" cy="-48" r="3.65" fill="#2065ab"/><circle cx="-97.1" cy="-33.9" r="3.65" fill="#6bacd1"/><circle cx="-75.4" cy="-42.2" r="3.65" fill="#81bad8"/><circle cx="-89.2" cy="-38.3" r="3.65" fill="#b1d5e7"/><circle cx="-116" cy="-43.3" r="3.65" fill="#1b5a9c"/><circle cx="-72.4" cy="-39" r="3.65" fill="#c5dfec"/><circle cx="-97.8" cy="-39.5" r="3.65" fill="#a5cee3"/><circle cx="-93.5" cy="-36.7" r="3.65" fill="#b1d5e7"/><circle cx="-79.8" cy="-47.7" r="3.65" fill="#c5dfec"/><circle cx="-82.5" cy="-41.6" r="3.65" fill="#c5dfec"/><circle cx="-115.7" cy="-40.7" r="3.65" fill="#124984"/><circle cx="-72.9" cy="-47.5" r="3.65" fill="#276eb0"/><circle cx="-72.5" cy="-42.3" r="3.65" fill="#276eb0"/><circle cx="-91.9" cy="-35.4" r="3.65" fill="#90c4dd"/><circle cx="-115.5" cy="-37.7" r="3.65" fill="#053061"/><circle cx="-119" cy="-41.8" r="3.65" fill="#124984"/><circle cx="-89.3" cy="-51.8" r="3.65" fill="#6bacd1"/><circle cx="-117.6" cy="-39" r="3.65" fill="#053061"/><circle cx="-112.1" cy="-36.4" r="3.65" fill="#053061"/><circle cx="-118.6" cy="-46.3" r="3.65" fill="#1b5a9c"/><circle cx="-119.1" cy="-46.4" r="3.65" fill="#124984"/><circle cx="-114.1" cy="-46.6" r="3.65" fill="#124984"/><circle cx="-117.2" cy="-43.1" r="3.65" fill="#124984"/><circle cx="-110.1" cy="-40.3" r="3.65" fill="#4393c3"/><circle cx="-110.5" cy="-37.1" r="3.65" fill="#276eb0"/><circle cx="-110.3" cy="-38.1" r="3.65" fill="#4393c3"/><circle cx="-114.7" cy="-37.9" r="3.65" fill="#1b5a9c"/><circle cx="-113.7" cy="-43.1" r="3.65" fill="#053061"/><circle cx="-116.3" cy="-43.1" r="3.65" fill="#053061"/><circle cx="-116.9" cy="-48.1" r="3.65" fill="#1b5a9c"/><circle cx="-110.3" cy="-37.2" r="3.65" fill="#276eb0"/><circle cx="-113.8" cy="-38" r="3.65" fill="#053061"/><circle cx="-115.2" cy="-47.2" r="3.65" fill="#124984"/><circle cx="-118.4" cy="-41.6" r="3.65" fill="#053061"/><circle cx="-117.7" cy="-42.6" r="3.65" fill="#053061"/><circle cx="-113.1" cy="-43.7" r="3.65" fill="#1b5a9c"/><circle cx="-119.3" cy="-42.1" r="3.65" fill="#053061"/><circle cx="-117.9" cy="-46.2" r="3.65" fill="#0a3b70"/><circle cx="-118.5" cy="-44.1" r="3.65" fill="#124984"/><circle cx="9.5" cy="-50.9" r="3.65" fill="#b1d5e7"/><circle cx="17.3" cy="-65.9" r="3.65" fill="#90c4dd"/><circle cx="1.2" cy="-46.5" r="3.65" fill="#d1e5f0"/><circle cx="18.3" cy="-52.6" r="3.65" fill="#6bacd1"/><circle cx="12.9" cy="-50.8" r="3.65" fill="#c5dfec"/><circle cx="-4" cy="-57.2" r="3.65" fill="#90c4dd"/><circle cx="-3.3" cy="-43.7" r="3.65" fill="#529dc8"/><circle cx="-7.6" cy="-46.3" r="3.65" fill="#4393c3"/><circle cx="-6.9" cy="-50.1" r="3.65" fill="#2065ab"/><circle cx="3.8" cy="-58.3" r="3.65" fill="#c5dfec"/><circle cx="-7.5" cy="-43.5" r="3.65" fill="#90c4dd"/><circle cx="10.9" cy="-67.4" r="3.65" fill="#c5dfec"/><circle cx="-5.4" cy="-57.7" r="3.65" fill="#a5cee3"/><circle cx="-4.5" cy="-60.9" r="3.65" fill="#0a3b70"/><circle cx="15.5" cy="-65.3" r="3.65" fill="#d1e5f0"/><circle cx="-3" cy="-46.3" r="3.65" fill="#90c4dd"/><circle cx="6.4" cy="-57.9" r="3.65" fill="#d8e9f1"/><circle cx="14.4" cy="-56.2" r="3.65" fill="#6bacd1"/><circle cx="5.8" cy="-69.1" r="3.65" fill="#4393c3"/><circle cx="19.8" cy="-41.9" r="3.65" fill="#8a0b25"/><circle cx="30" cy="-50.8" r="3.65" fill="#d8e9f1"/><circle cx="4.6" cy="-59.5" r="3.65" fill="#c5dfec"/><circle cx="18.3" cy="-50.5" r="3.65" fill="#d1e5f0"/><circle cx="-5.3" cy="-63.2" r="3.65" fill="#2065ab"/><circle cx="4.9" cy="-55.2" r="3.65" fill="#90c4dd"/><circle cx="23.2" cy="-55.5" r="3.65" fill="#a5cee3"/><circle cx="-8.8" cy="-46.1" r="3.65" fill="#4393c3"/><circle cx="7.6" cy="-54.9" r="3.65" fill="#c5dfec"/><circle cx="-0.9" cy="-57.6" r="3.65" fill="#6bacd1"/><circle cx="5.9" cy="-47.6" r="3.65" fill="#2065ab"/><circle cx="-5.8" cy="-54.1" r="3.65" fill="#6bacd1"/><circle cx="-2.7" cy="-49.8" r="3.65" fill="#90c4dd"/><circle cx="4.1" cy="-51.5" r="3.65" fill="#0a3b70"/><circle cx="-7.9" cy="-56.7" r="3.65" fill="#c5dfec"/><circle cx="-1.4" cy="-61.8" r="3.65" fill="#a5cee3"/><circle cx="-3.1" cy="-43.2" r="3.65" fill="#90c4dd"/><circle cx="4.9" cy="-64.5" r="3.65" fill="#a5cee3"/><circle cx="20.7" cy="-43.6" r="3.65" fill="#fae9df"/><circle cx="21.6" cy="-60.1" r="3.65" fill="#90c4dd"/><circle cx="-8.4" cy="-52" r="3.65" fill="#90c4dd"/><circle cx="10.6" cy="-69.3" r="3.65" fill="#d1e5f0"/><circle cx="3.2" cy="-47.2" r="3.65" fill="#90c4dd"/><circle cx="24.1" cy="-51.5" r="3.65" fill="#4393c3"/><circle cx="-0.6" cy="-54.7" r="3.65" fill="#6bacd1"/><circle cx="9.6" cy="-51.8" r="3.65" fill="#c5dfec"/><circle cx="0.8" cy="-42.5" r="3.65" fill="#3c8abe"/><circle cx="1.9" cy="-44.7" r="3.65" fill="#90c4dd"/><circle cx="1.4" cy="-42.6" r="3.65" fill="#3c8abe"/><circle cx="11.1" cy="-49.8" r="3.65" fill="#d8e9f1"/><circle cx="18.9" cy="-63.8" r="3.65" fill="#4393c3"/><circle cx="1.7" cy="-62.6" r="3.65" fill="#d8e9f1"/><circle cx="18" cy="-49.9" r="3.65" fill="#d1e5f0"/><circle cx="-156.8" cy="-22.8" r="3.65" fill="#ddebf2"/><circle cx="-173.4" cy="16.5" r="3.65" fill="#ecf2f5"/><circle cx="-111.8" cy="-77.8" r="3.65" fill="#ddebf2"/><circle cx="-118" cy="-72.9" r="3.65" fill="#e4eef4"/><circle cx="-112" cy="-69.9" r="3.65" fill="#a5cee3"/><circle cx="-115.1" cy="-72.7" r="3.65" fill="#529dc8"/><circle cx="-91.5" cy="-71.7" r="3.65" fill="#b1d5e7"/><circle cx="-92" cy="-62.4" r="3.65" fill="#d1e5f0"/><circle cx="-94.1" cy="-65.2" r="3.65" fill="#c5dfec"/><circle cx="-77.9" cy="-67.6" r="3.65" fill="#d1e5f0"/><circle cx="-79.4" cy="-59.6" r="3.65" fill="#f7f6f6"/><circle cx="-65.9" cy="-83.4" r="3.65" fill="#ee9677"/><circle cx="-54.9" cy="-88.2" r="3.65" fill="#fae9df"/><circle cx="-46.5" cy="-85.3" r="3.65" fill="#f9efe9"/><circle cx="-38.4" cy="-76" r="3.65" fill="#d1e5f0"/><circle cx="-115.1" cy="-37" r="3.65" fill="#0a3b70"/><circle cx="-114.1" cy="-40.1" r="3.65" fill="#0a3b70"/><circle cx="-112" cy="-47.3" r="3.65" fill="#124984"/><circle cx="-106.9" cy="-49.3" r="3.65" fill="#6bacd1"/><circle cx="-102.3" cy="-49.3" r="3.65" fill="#276eb0"/><circle cx="-107.9" cy="-37" r="3.65" fill="#4393c3"/><circle cx="-103.3" cy="-40.1" r="3.65" fill="#4393c3"/><circle cx="-108.5" cy="-42.6" r="3.65" fill="#327cb7"/><circle cx="-116.7" cy="-43.4" r="3.65" fill="#124984"/><circle cx="-106.7" cy="-58.6" r="3.65" fill="#2065ab"/><circle cx="-100.5" cy="-57.5" r="3.65" fill="#276eb0"/><circle cx="-105.9" cy="-53.4" r="3.65" fill="#2065ab"/><circle cx="-111.5" cy="-53.2" r="3.65" fill="#276eb0"/><circle cx="-97.7" cy="-33.9" r="3.65" fill="#4393c3"/><circle cx="-94.1" cy="-34.4" r="3.65" fill="#b1d5e7"/><circle cx="-97.7" cy="-47.3" r="3.65" fill="#a5cee3"/><circle cx="-91.5" cy="-45.2" r="3.65" fill="#90c4dd"/><circle cx="-93" cy="-54.5" r="3.65" fill="#6bacd1"/><circle cx="-94.6" cy="-54.5" r="3.65" fill="#90c4dd"/><circle cx="-91" cy="-41.1" r="3.65" fill="#a5cee3"/><circle cx="-82.8" cy="-31.3" r="3.65" fill="#c5dfec"/><circle cx="-72.5" cy="-43.7" r="3.65" fill="#6bacd1"/><circle cx="-73.5" cy="-50.9" r="3.65" fill="#81bad8"/><circle cx="-79.7" cy="-49.3" r="3.65" fill="#a5cee3"/><circle cx="-83.8" cy="-46.2" r="3.65" fill="#81bad8"/><circle cx="-81.2" cy="-53.4" r="3.65" fill="#6bacd1"/><circle cx="-65.8" cy="-50.3" r="3.65" fill="#d1e5f0"/><circle cx="-69.9" cy="-47.3" r="3.65" fill="#d8e9f1"/><circle cx="-61.2" cy="-56.5" r="3.65" fill="#e4eef4"/><circle cx="-66.8" cy="-57.5" r="3.65" fill="#c5dfec"/><circle cx="-58.4" cy="-51.6" r="3.65" fill="#d1e5f0"/><circle cx="-86.4" cy="-37" r="3.65" fill="#6bacd1"/><circle cx="-75.6" cy="-41.6" r="3.65" fill="#276eb0"/><circle cx="-82.8" cy="-43.2" r="3.65" fill="#81bad8"/><circle cx="-95.1" cy="-39" r="3.65" fill="#c5dfec"/><circle cx="-87.9" cy="-55.5" r="3.65" fill="#81bad8"/><circle cx="-79.7" cy="-32.9" r="3.65" fill="#c5dfec"/><circle cx="-63.2" cy="-37.5" r="3.65" fill="#7bb6d6"/><circle cx="-66.2" cy="-22" r="3.65" fill="#053061"/><circle cx="-68" cy="-21" r="3.65" fill="#0a3b70"/><circle cx="-26.5" cy="-45.4" r="3.65" fill="#3f8ec0"/><circle cx="-92.1" cy="1" r="3.65" fill="#ddebf2"/><circle cx="-80.5" cy="0.2" r="3.65" fill="#d8e9f1"/><circle cx="-60.5" cy="2.5" r="3.65" fill="#c5dfec"/><circle cx="-76.9" cy="14.1" r="3.65" fill="#c5dfec"/><circle cx="-69.2" cy="19.1" r="3.65" fill="#eff3f5"/><circle cx="-64" cy="20.6" r="3.65" fill="#7bb6d6"/><circle cx="-70.2" cy="28.7" r="3.65" fill="#f7f6f6"/><circle cx="-54.2" cy="40.3" r="3.65" fill="#529dc8"/><circle cx="-58.8" cy="45.6" r="3.65" fill="#0d3f76"/><circle cx="-44.4" cy="73.3" r="3.65" fill="#ecf2f5"/><circle cx="-5.9" cy="80" r="3.65" fill="#ecf2f5"/><circle cx="17" cy="81.2" r="3.65" fill="#e4eef4"/><circle cx="38.8" cy="93.5" r="3.65" fill="#eff3f5"/><circle cx="-14.6" cy="9.3" r="3.65" fill="#2065ab"/><circle cx="-5.6" cy="18.5" r="3.65" fill="#90c4dd"/><circle cx="-17.5" cy="-33.4" r="3.65" fill="#053061"/><circle cx="-16.2" cy="-32.8" r="3.65" fill="#053061"/><circle cx="-25.2" cy="-19.4" r="3.65" fill="#3f8ec0"/><circle cx="-18" cy="-17.3" r="3.65" fill="#1b5a9c"/><circle cx="5.6" cy="-26.7" r="3.65" fill="#62a7ce"/><circle cx="-5.2" cy="-7.3" r="3.65" fill="#0a3b70"/><circle cx="-0.2" cy="-7.2" r="3.65" fill="#0a3b70"/><circle cx="5" cy="-10" r="3.65" fill="#15508d"/><circle cx="11.8" cy="-78.3" r="3.65" fill="#fae9df"/><circle cx="20.6" cy="-76.8" r="3.65" fill="#90c4dd"/><circle cx="22.1" cy="-71.9" r="3.65" fill="#d1e5f0"/><circle cx="34.4" cy="-39" r="3.65" fill="#8a0b25"/><circle cx="32.4" cy="-41.6" r="3.65" fill="#fbd0b9"/><circle cx="26.2" cy="-49.8" r="3.65" fill="#4393c3"/><circle cx="22.1" cy="-50.3" r="3.65" fill="#2065ab"/><circle cx="21.1" cy="-45.2" r="3.65" fill="#90c4dd"/><circle cx="24.9" cy="-41.1" r="3.65" fill="#8a0b25"/><circle cx="-9.2" cy="-44.4" r="3.65" fill="#90c4dd"/><circle cx="-8.2" cy="-50.3" r="3.65" fill="#2065ab"/><circle cx="0" cy="-45.7" r="3.65" fill="#529dc8"/><circle cx="-1.8" cy="-42.6" r="3.65" fill="#3c8abe"/><circle cx="-5.1" cy="-58.3" r="3.65" fill="#6bacd1"/><circle cx="-4.1" cy="-65" r="3.65" fill="#90c4dd"/><circle cx="-1.3" cy="-61.6" r="3.65" fill="#d8e9f1"/><circle cx="5.1" cy="-50.3" r="3.65" fill="#d8e9f1"/><circle cx="11.8" cy="-47.8" r="3.65" fill="#4393c3"/><circle cx="12.3" cy="-52.4" r="3.65" fill="#6bacd1"/><circle cx="18" cy="-55.5" r="3.65" fill="#c5dfec"/><circle cx="24.1" cy="-63.2" r="3.65" fill="#a5cee3"/><circle cx="11.3" cy="-59.6" r="3.65" fill="#6bacd1"/><circle cx="4.1" cy="-58.8" r="3.65" fill="#0a3b70"/><circle cx="6.9" cy="-67.3" r="3.65" fill="#b1d5e7"/><circle cx="14.6" cy="-67.3" r="3.65" fill="#90c4dd"/><circle cx="18.8" cy="-60.4" r="3.65" fill="#b1d5e7"/><circle cx="8.2" cy="-53.2" r="3.65" fill="#0a3b70"/><circle cx="25.2" cy="-54.7" r="3.65" fill="#0a3b70"/><circle cx="13.9" cy="-41.1" r="3.65" fill="#fbd0b9"/><circle cx="10.5" cy="-38.8" r="3.65" fill="#7bb6d6"/><circle cx="35.5" cy="-35.7" r="3.65" fill="#62a7ce"/><circle cx="30.8" cy="-34.9" r="3.65" fill="#7bb6d6"/><circle cx="39.4" cy="-26" r="3.65" fill="#0a3b70"/><circle cx="39.8" cy="-10.7" r="3.65" fill="#a5cee3"/><circle cx="35.4" cy="0.6" r="3.65" fill="#90c4dd"/><circle cx="41.4" cy="3.5" r="3.65" fill="#529dc8"/><circle cx="31.9" cy="11.8" r="3.65" fill="#e4eef4"/><circle cx="23.8" cy="17.7" r="3.65" fill="#d8e9f1"/><circle cx="23.9" cy="23.3" r="3.65" fill="#c5dfec"/><circle cx="16.6" cy="27.2" r="3.65" fill="#90c4dd"/><circle cx="27.9" cy="30" r="3.65" fill="#e4eef4"/><circle cx="31.6" cy="29" r="3.65" fill="#d8e9f1"/><circle cx="21" cy="33.3" r="3.65" fill="#7bb6d6"/><circle cx="56" cy="24.3" r="3.65" fill="#ecf2f5"/><circle cx="74.4" cy="44" r="3.65" fill="#d8e9f1"/><circle cx="57.9" cy="-26.7" r="3.65" fill="#a5cee3"/><circle cx="67" cy="-29" r="3.65" fill="#0a3b70"/><circle cx="72.9" cy="-36.7" r="3.65" fill="#053061"/><circle cx="76.4" cy="-32.9" r="3.65" fill="#0a3b70"/><circle cx="86" cy="-33.2" r="3.65" fill="#fddbc7"/><circle cx="94.5" cy="-32.3" r="3.65" fill="#053061"/><circle cx="89.8" cy="-28.2" r="3.65" fill="#0a3b70"/><circle cx="91.2" cy="-25.9" r="3.65" fill="#053061"/><circle cx="78.5" cy="-12.8" r="3.65" fill="#053061"/><circle cx="102.2" cy="-25.3" r="3.65" fill="#529dc8"/><circle cx="99.8" cy="-22.8" r="3.65" fill="#327cb7"/><circle cx="106" cy="-20" r="3.65" fill="#529dc8"/><circle cx="107.2" cy="-16.5" r="3.65" fill="#b1d5e7"/><circle cx="102.2" cy="-16" r="3.65" fill="#2065ab"/><circle cx="103.2" cy="-8.2" r="3.65" fill="#d1e5f0"/><circle cx="106.6" cy="-1.3" r="3.65" fill="#ddebf2"/><circle cx="102.9" cy="0.2" r="3.65" fill="#ddebf2"/><circle cx="109.8" cy="7.2" r="3.65" fill="#c5dfec"/><circle cx="110.1" cy="-46.5" r="3.65" fill="#053061"/><circle cx="131.6" cy="-50.3" r="3.65" fill="#053061"/><circle cx="121.6" cy="-45.7" r="3.65" fill="#0a3b70"/><circle cx="122.9" cy="-38.8" r="3.65" fill="#124984"/><circle cx="124.8" cy="-41.5" r="3.65" fill="#053061"/><circle cx="131" cy="-39.8" r="3.65" fill="#0d3f76"/><circle cx="135" cy="-41.9" r="3.65" fill="#053061"/><circle cx="127.9" cy="-31.3" r="3.65" fill="#1b5a9c"/><circle cx="114.8" cy="-25.9" r="3.65" fill="#3f8ec0"/><circle cx="121" cy="-27.5" r="3.65" fill="#4393c3"/><circle cx="128.1" cy="-7.8" r="3.65" fill="#ddebf2"/><circle cx="123.5" cy="1.8" r="3.65" fill="#ecf2f5"/><circle cx="171.6" cy="-10.3" r="3.65" fill="#ecf2f5"/><circle cx="135.8" cy="14.6" r="3.65" fill="#d8e9f1"/><circle cx="131" cy="18.7" r="3.65" fill="#c5dfec"/><circle cx="148.2" cy="21.5" r="3.65" fill="#eff3f5"/><circle cx="114.8" cy="25.8" r="3.65" fill="#529dc8"/><circle cx="119.8" cy="36.5" r="3.65" fill="#ecf2f5"/><circle cx="139.4" cy="36.2" r="3.65" fill="#d8e9f1"/><circle cx="142.9" cy="41.8" r="3.65" fill="#e4eef4"/><circle cx="147.5" cy="36.8" r="3.65" fill="#d8e9f1"/><circle cx="147" cy="39.7" r="3.65" fill="#d1e5f0"/><circle cx="168.1" cy="42.7" r="3.65" fill="#d1e5f0"/><circle cx="75.2" cy="-30.6" r="3.65" fill="#053061"/><circle cx="119.6" cy="-44.2" r="3.65" fill="#053061"/><circle cx="132.5" cy="-38.1" r="3.65" fill="#0d3f76"/><circle cx="124.4" cy="-39.8" r="3.65" fill="#0a3b70"/><circle cx="118.3" cy="-40.8" r="3.65" fill="#124984"/><circle cx="102.7" cy="-24.6" r="3.65" fill="#6bacd1"/><circle cx="104.7" cy="-13.7" r="3.65" fill="#90c4dd"/><circle cx="-82.3" cy="-43.5" r="3.65" fill="#0a3b70"/><circle cx="-116.8" cy="-43.5" r="3.65" fill="#053061"/><circle cx="-114.8" cy="-40.1" r="3.65" fill="#0a3b70"/><circle cx="4" cy="-58.8" r="3.65" fill="#0a3b70"/><circle cx="8.3" cy="-53.6" r="3.65" fill="#2065ab"/><circle cx="13.1" cy="-42.1" r="3.65" fill="#8a0b25"/><circle cx="10.4" cy="-39.4" r="3.65" fill="#15508d"/></g></g><path d="M98.6 -94L102.1 -93L106 -91.8L110.4 -90.2L115.1 -88.3L120 -86.2L124.7 -84L129.1 -81.7L133.2 -79.3L137 -76.8L140.8 -74.3L144.4 -71.7L148 -69.1L151.4 -66.4L154.7 -63.6L157.9 -60.9L160.8 -58.1L163.5 -55.2L166.1 -52.4L168.5 -49.5L170.8 -46.6L172.8 -43.7L174.7 -40.8L176.4 -37.9L177.9 -35L179.2 -32.1L180.3 -29.1L181.2 -26.2L182 -23.3L182.8 -20.4L183.4 -17.5L184 -14.6L184.4 -11.7L184.8 -8.7L185 -5.8L185.2 -2.9L185.3 0L185.2 2.9L185 5.8L184.8 8.7L184.4 11.7L184 14.6L183.4 17.5L182.8 20.4L182 23.3L181.2 26.2L180.3 29.1L179.2 32.1L177.9 35L176.4 37.9L174.7 40.8L172.8 43.7L170.8 46.6L168.5 49.5L166.1 52.4L163.5 55.2L160.8 58.1L157.9 60.9L154.7 63.6L151.4 66.4L148 69.1L144.4 71.7L140.8 74.3L137 76.8L133.2 79.3L129.1 81.7L124.7 84L120 86.2L115.1 88.3L110.4 90.2L106 91.8L102.1 93L98.6 94L-98.6 94L-102.1 93L-106 91.8L-110.4 90.2L-115.1 88.3L-120 86.2L-124.7 84L-129.1 81.7L-133.2 79.3L-137 76.8L-140.8 74.3L-144.4 71.7L-148 69.1L-151.4 66.4L-154.7 63.6L-157.9 60.9L-160.8 58.1L-163.5 55.2L-166.1 52.4L-168.5 49.5L-170.8 46.6L-172.8 43.7L-174.7 40.8L-176.4 37.9L-177.9 35L-179.2 32.1L-180.3 29.1L-181.2 26.2L-182 23.3L-182.8 20.4L-183.4 17.5L-184 14.6L-184.4 11.7L-184.8 8.7L-185 5.8L-185.2 2.9L-185.3 0L-185.2 -2.9L-185 -5.8L-184.8 -8.7L-184.4 -11.7L-184 -14.6L-183.4 -17.5L-182.8 -20.4L-182 -23.3L-181.2 -26.2L-180.3 -29.1L-179.2 -32.1L-177.9 -35L-176.4 -37.9L-174.7 -40.8L-172.8 -43.7L-170.8 -46.6L-168.5 -49.5L-166.1 -52.4L-163.5 -55.2L-160.8 -58.1L-157.9 -60.9L-154.7 -63.6L-151.4 -66.4L-148 -69.1L-144.4 -71.7L-140.8 -74.3L-137 -76.8L-133.2 -79.3L-129.1 -81.7L-124.7 -84L-120 -86.2L-115.1 -88.3L-110.4 -90.2L-106 -91.8L-102.1 -93L-98.6 -94Z" fill="none" stroke="#000" stroke-width="1.15"/></g>
<rect x="1407.2" y="993.1" width="68.2" height="24" fill="#fff" fill-opacity="0.6"/>
<text transform="translate(1438.1 1012) scale(1.0 1)" text-anchor="middle">86.0%</text>
<rect x="1390.5" y="1059.1" width="318.1" height="18.5" fill="url(#RdBu_r)"/><rect x="1390.5" y="1059.1" width="318.1" height="18.5" stroke="#000" stroke-width="1.1" fill="none"/><text transform="translate(1390.5 1112) scale(0.95 1)" text-anchor="middle">–0.02</text><text transform="translate(1470.03 1112) scale(0.95 1)" text-anchor="middle">–0.01</text><text transform="translate(1549.55 1112) scale(0.985 1)" text-anchor="middle">0</text><text transform="translate(1629.07 1112) scale(0.985 1)" text-anchor="middle">0.01</text><text transform="translate(1708.6 1112) scale(0.985 1)" text-anchor="middle">0.02</text><path d="M1390.5 1077.6V1087.3M1470.03 1077.6V1087.3M1549.55 1077.6V1087.3M1629.07 1077.6V1087.3M1708.6 1077.6V1087.3" stroke="#000" stroke-width="1.2" fill="none"/><text transform="translate(1545.5 1145.2) scale(0.995 1)" text-anchor="middle">DUAOD</text>
</g>
</svg></body></html>
